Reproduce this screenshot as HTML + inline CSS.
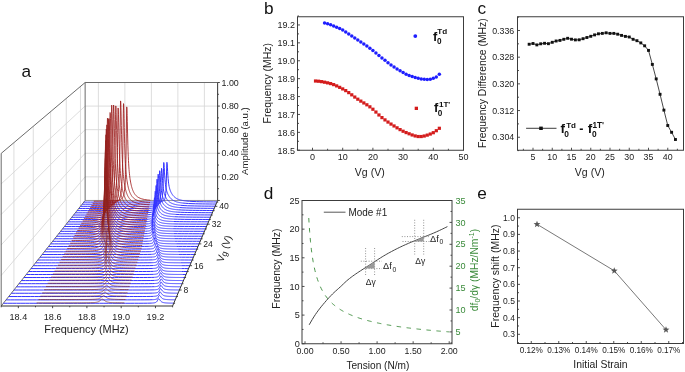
<!DOCTYPE html>
<html><head><meta charset="utf-8"><style>
html,body{margin:0;padding:0;background:#fff;width:685px;height:372px;overflow:hidden}
svg{display:block;will-change:transform}
text{font-family:"Liberation Sans", sans-serif}
</style></head><body>
<svg width="685" height="372" viewBox="0 0 685 372">
<rect width="685" height="372" fill="#fff"/>
<line x1="13.91" y1="290.02" x2="13.91" y2="142.66" stroke="#d4d4d4" stroke-width="0.8"/>
<line x1="33.25" y1="265.7" x2="33.25" y2="126.32" stroke="#d4d4d4" stroke-width="0.8"/>
<line x1="50.61" y1="243.87" x2="50.61" y2="111.66" stroke="#d4d4d4" stroke-width="0.8"/>
<line x1="66.27" y1="224.18" x2="66.27" y2="98.43" stroke="#d4d4d4" stroke-width="0.8"/>
<line x1="80.47" y1="206.32" x2="80.47" y2="86.44" stroke="#d4d4d4" stroke-width="0.8"/>
<line x1="1.2" y1="275.48" x2="85.13" y2="176.87" stroke="#d4d4d4" stroke-width="0.8"/>
<line x1="1.2" y1="244.96" x2="85.13" y2="153.28" stroke="#d4d4d4" stroke-width="0.8"/>
<line x1="1.2" y1="214.44" x2="85.13" y2="129.68" stroke="#d4d4d4" stroke-width="0.8"/>
<line x1="1.2" y1="183.92" x2="85.13" y2="106.09" stroke="#d4d4d4" stroke-width="0.8"/>
<line x1="98.38" y1="200.46" x2="98.38" y2="82.5" stroke="#d4d4d4" stroke-width="0.8"/>
<line x1="124.88" y1="200.46" x2="124.88" y2="82.5" stroke="#d4d4d4" stroke-width="0.8"/>
<line x1="151.38" y1="200.46" x2="151.38" y2="82.5" stroke="#d4d4d4" stroke-width="0.8"/>
<line x1="177.88" y1="200.46" x2="177.88" y2="82.5" stroke="#d4d4d4" stroke-width="0.8"/>
<line x1="204.38" y1="200.46" x2="204.38" y2="82.5" stroke="#d4d4d4" stroke-width="0.8"/>
<line x1="85.13" y1="176.87" x2="217.63" y2="176.87" stroke="#d4d4d4" stroke-width="0.8"/>
<line x1="85.13" y1="153.28" x2="217.63" y2="153.28" stroke="#d4d4d4" stroke-width="0.8"/>
<line x1="85.13" y1="129.68" x2="217.63" y2="129.68" stroke="#d4d4d4" stroke-width="0.8"/>
<line x1="85.13" y1="106.09" x2="217.63" y2="106.09" stroke="#d4d4d4" stroke-width="0.8"/>
<line x1="85.13" y1="82.5" x2="217.63" y2="82.5" stroke="#5a5a5a" stroke-width="0.9"/>
<line x1="85.13" y1="200.46" x2="85.13" y2="82.5" stroke="#5a5a5a" stroke-width="0.9"/>
<line x1="1.2" y1="153.4" x2="85.13" y2="82.5" stroke="#5a5a5a" stroke-width="0.9"/>
<line x1="1.2" y1="306" x2="1.2" y2="153.4" stroke="#5a5a5a" stroke-width="0.9"/>
<line x1="85.13" y1="200.46" x2="217.63" y2="200.46" stroke="#8a8a8a" stroke-width="0.9"/>
<line x1="1.2" y1="306" x2="85.13" y2="200.46" stroke="#5a5a5a" stroke-width="0.9"/>
<polyline points="83.81,202.12 87.23,202.12 90.64,202.12 94.05,202.11 97.47,202.11 100.88,202.11 104.29,202.11 107.71,202.11 111.12,202.11 114.53,202.11 117.94,202.11 121.36,202.11 124.77,202.11 128.18,202.11 131.6,202.11 135.01,202.1 138.42,202.1 141.84,202.09 145.25,202.08 148.66,202.07 152.08,202.05 155.49,202 158.9,201.88 161.58,201.58 161.82,201.53 162.07,201.47 162.31,201.4 162.31,201.4 162.55,201.32 162.79,201.22 163.03,201.11 163.28,200.98 163.52,200.82 163.76,200.62 164,200.37 164.24,200.06 164.49,199.66 164.73,199.13 164.97,198.42 165.21,197.44 165.45,196.04 165.7,193.97 165.73,193.64 165.94,190.81 166.18,185.83 166.42,178.12 166.66,168.08 166.91,162.3 167.15,163.69 167.39,167.15 167.63,171.32 167.87,175.22 168.12,178.48 168.36,181.09 168.6,183.16 168.84,184.83 169.08,186.19 169.14,186.47 169.33,187.33 169.57,188.3 169.81,189.14 170.05,189.89 170.29,190.56 170.54,191.17 170.78,191.73 171.02,192.25 171.26,192.73 171.5,193.18 171.75,193.6 171.99,194 172.23,194.37 172.47,194.72 172.55,194.84 172.71,195.05 172.96,195.37 173.2,195.66 173.44,195.94 173.68,196.21 173.92,196.46 174.17,196.69 174.41,196.92 174.65,197.13 174.89,197.33 175.13,197.52 175.38,197.7 175.62,197.87 175.86,198.04 175.97,198.1 176.1,198.19 176.34,198.34 176.59,198.48 176.83,198.61 177.07,198.74 177.31,198.86 177.55,198.97 177.8,199.08 178.04,199.18 178.28,199.28 178.52,199.38 178.77,199.47 179.01,199.55 179.25,199.63 179.38,199.68 179.49,199.71 179.73,199.79 179.98,199.86 180.22,199.93 180.46,199.99 180.7,200.06 180.94,200.12 181.19,200.18 181.43,200.23 181.67,200.28 181.91,200.34 182.15,200.39 182.4,200.43 182.64,200.48 182.79,200.51 182.88,200.52 183.12,200.56 183.36,200.6 183.61,200.64 183.85,200.68 184.09,200.72 184.33,200.75 184.57,200.79 184.82,200.82 185.06,200.85 185.3,200.88 185.54,200.91 186.21,200.98 189.62,201.28 193.03,201.47 196.44,201.61 199.86,201.71 203.27,201.78 206.68,201.83 210.1,201.88 213.51,201.91 216.92,201.94" fill="none" stroke="#3434ff" stroke-width="1.0"/>
<polyline points="93.8,201.23 95.25,201.22 96.7,201.21 98.15,201.21 99.6,201.2 101.05,201.19 102.5,201.17 103.95,201.16 105.4,201.14 106.85,201.12 108.3,201.09 109.75,201.06 111.2,201.01 112.65,200.95 114.11,200.87 115.56,200.76 117.01,200.59 118.46,200.33 119.91,199.89 120.1,199.81 120.3,199.72 120.49,199.62 120.69,199.52 120.88,199.4 121.08,199.27 121.27,199.13 121.36,199.07 121.46,198.98 121.66,198.81 121.85,198.62 122.05,198.4 122.24,198.17 122.44,197.9 122.63,197.59 122.81,197.27 122.83,197.24 123.02,196.84 123.21,196.38 123.41,195.85 123.6,195.24 123.8,194.51 123.99,193.65 124.19,192.63 124.26,192.19 124.38,191.39 124.58,189.89 124.77,188.05 124.96,185.75 125.16,182.86 125.35,179.16 125.55,174.36 125.71,169.19 125.74,168.01 125.94,159.5 126.13,148.04 126.32,133.21 126.52,117.01 126.71,106.9 126.91,107.88 127.1,113.33 127.16,115.5 127.3,121.27 127.49,129.91 127.69,138.05 127.88,145.18 128.07,151.21 128.27,156.24 128.46,160.43 128.61,163.15 128.66,163.96 128.85,166.96 129.05,169.54 129.24,171.78 129.44,173.76 129.63,175.52 129.82,177.1 130.02,178.52 130.06,178.82 130.21,179.83 130.41,181.02 130.6,182.12 130.8,183.13 130.99,184.07 131.19,184.94 131.38,185.76 131.51,186.28 131.57,186.52 131.77,187.22 131.96,187.89 132.16,188.51 132.35,189.09 132.55,189.64 132.74,190.16 132.94,190.64 132.96,190.71 133.13,191.1 133.32,191.53 133.52,191.93 133.71,192.32 133.91,192.68 134.1,193.02 134.3,193.35 134.41,193.53 134.49,193.65 134.69,193.94 134.88,194.22 135.07,194.48 135.27,194.73 135.46,194.96 135.66,195.19 135.85,195.4 135.86,195.41 136.05,195.6 136.24,195.79 136.44,195.98 136.63,196.15 136.82,196.32 137.02,196.48 137.21,196.63 137.31,196.71 137.41,196.78 138.76,197.63 140.21,198.31 141.67,198.82 143.12,199.21 144.57,199.52 146.02,199.76 147.47,199.96 148.92,200.12 150.37,200.26" fill="none" stroke="#a01c1c" stroke-width="0.85" stroke-opacity="1.00"/>
<polyline points="82.15,204.21 85.58,204.21 89.02,204.21 92.45,204.21 95.88,204.21 99.32,204.2 102.75,204.2 106.18,204.2 109.61,204.2 113.05,204.2 116.48,204.2 119.91,204.2 123.34,204.2 126.78,204.2 130.21,204.19 133.64,204.19 137.08,204.18 140.51,204.18 143.94,204.17 147.37,204.14 150.81,204.11 154.24,204.02 157.67,203.75 158.4,203.62 158.64,203.56 158.88,203.5 159.13,203.42 159.37,203.33 159.61,203.23 159.86,203.11 160.1,202.96 160.34,202.78 160.59,202.57 160.83,202.3 161.07,201.96 161.11,201.9 161.32,201.52 161.56,200.94 161.8,200.17 162.05,199.11 162.29,197.59 162.53,195.36 162.78,191.97 163.02,186.68 163.26,178.61 163.51,168.3 163.75,162.49 163.99,163.92 164.24,167.51 164.48,171.85 164.54,172.87 164.72,175.95 164.97,179.4 165.21,182.17 165.45,184.38 165.7,186.16 165.94,187.62 166.19,188.84 166.43,189.88 166.67,190.78 166.92,191.58 167.16,192.29 167.4,192.94 167.65,193.54 167.89,194.08 167.97,194.26 168.13,194.59 168.38,195.07 168.62,195.51 168.86,195.92 169.11,196.31 169.35,196.68 169.59,197.02 169.84,197.35 170.08,197.66 170.32,197.95 170.57,198.22 170.81,198.48 171.05,198.72 171.3,198.95 171.4,199.05 171.54,199.17 171.78,199.38 172.03,199.57 172.27,199.76 172.51,199.93 172.76,200.1 173,200.26 173.24,200.41 173.49,200.55 173.73,200.68 173.97,200.81 174.22,200.93 174.46,201.05 174.7,201.16 174.84,201.22 174.95,201.26 175.19,201.36 175.44,201.46 175.68,201.55 175.92,201.64 176.17,201.72 176.41,201.8 176.65,201.88 176.9,201.95 177.14,202.02 177.38,202.08 177.63,202.15 177.87,202.21 178.11,202.27 178.27,202.3 178.36,202.32 178.6,202.38 178.84,202.43 179.09,202.48 179.33,202.52 179.57,202.57 179.82,202.61 180.06,202.66 180.3,202.7 180.55,202.74 180.79,202.77 181.03,202.81 181.28,202.85 181.52,202.88 181.7,202.9 181.76,202.91 182.01,202.94 182.25,202.97 182.49,203 185.14,203.26 188.57,203.5 192,203.65 195.43,203.76 198.87,203.84 202.3,203.9 205.73,203.95 209.17,203.99 212.6,204.02 216.03,204.04" fill="none" stroke="#3434ff" stroke-width="1.0"/>
<polyline points="92.61,203.31 94.09,203.3 95.56,203.29 97.03,203.28 98.5,203.27 99.97,203.25 101.44,203.24 102.91,203.21 104.38,203.19 105.85,203.15 107.32,203.1 108.8,203.04 110.27,202.96 111.74,202.85 113.21,202.69 114.68,202.44 116.15,202.04 116.85,201.75 117.05,201.65 117.24,201.54 117.44,201.43 117.62,201.31 117.63,201.3 117.83,201.16 118.02,201 118.22,200.83 118.42,200.64 118.61,200.43 118.81,200.2 119,199.93 119.09,199.8 119.2,199.63 119.39,199.3 119.59,198.91 119.78,198.47 119.98,197.97 120.18,197.38 120.37,196.7 120.56,195.92 120.57,195.9 120.76,194.95 120.96,193.83 121.15,192.47 121.35,190.83 121.54,188.81 121.74,186.3 121.94,183.14 122.03,181.25 122.13,179.12 122.33,173.91 122.52,167.06 122.72,157.92 122.91,145.76 123.11,130.29 123.3,113.77 123.5,103.69 123.5,103.6 123.7,104.7 123.89,110.3 124.09,118.52 124.28,127.52 124.48,136.07 124.67,143.61 124.87,150.01 124.98,153.06 125.06,155.37 125.26,159.86 125.46,163.64 125.65,166.86 125.85,169.62 126.04,172.03 126.24,174.15 126.43,176.04 126.45,176.16 126.63,177.73 126.82,179.26 127.02,180.65 127.22,181.92 127.41,183.09 127.61,184.17 127.8,185.17 127.92,185.73 128,186.1 128.19,186.97 128.39,187.77 128.58,188.53 128.78,189.23 128.98,189.89 129.17,190.51 129.37,191.09 129.39,191.15 129.56,191.64 129.76,192.15 129.95,192.63 130.15,193.09 130.34,193.52 130.54,193.92 130.74,194.31 130.86,194.54 130.93,194.67 131.13,195.01 131.32,195.34 131.52,195.64 131.71,195.93 131.91,196.21 132.1,196.47 132.3,196.72 132.33,196.76 132.5,196.96 132.69,197.18 132.89,197.39 133.08,197.6 133.28,197.79 133.47,197.98 133.67,198.15 133.8,198.27 133.86,198.32 134.06,198.48 134.26,198.63 135.27,199.33 136.74,200.1 138.21,200.68 139.68,201.12 141.16,201.46 142.63,201.74 144.1,201.95 145.57,202.13 147.04,202.28 148.51,202.4 149.98,202.51" fill="none" stroke="#9f1c1c" stroke-width="0.85" stroke-opacity="0.99"/>
<polyline points="80.47,206.32 83.92,206.32 87.37,206.32 90.83,206.32 94.28,206.32 97.73,206.32 101.19,206.32 104.64,206.32 108.09,206.32 111.54,206.32 115,206.32 118.45,206.32 121.9,206.31 125.36,206.31 128.81,206.31 132.26,206.31 135.71,206.3 139.17,206.29 142.62,206.28 146.07,206.26 149.52,206.21 152.98,206.1 156.2,205.76 156.43,205.71 156.44,205.71 156.69,205.65 156.93,205.57 157.18,205.49 157.42,205.39 157.66,205.28 157.91,205.14 158.15,204.97 158.4,204.76 158.64,204.51 158.89,204.18 159.13,203.77 159.38,203.22 159.62,202.5 159.87,201.49 159.88,201.42 160.11,200.07 160.36,197.98 160.6,194.82 160.85,189.95 161.09,182.6 161.34,173.41 161.58,168.32 161.83,169.6 162.07,172.83 162.32,176.77 162.56,180.51 162.81,183.68 163.05,186.24 163.3,188.29 163.34,188.59 163.54,189.95 163.79,191.3 164.03,192.43 164.28,193.4 164.52,194.24 164.76,194.98 165.01,195.64 165.25,196.24 165.5,196.79 165.74,197.29 165.99,197.76 166.23,198.19 166.48,198.6 166.72,198.97 166.79,199.07 166.97,199.33 167.21,199.66 167.46,199.97 167.7,200.27 167.95,200.54 168.19,200.8 168.44,201.05 168.68,201.28 168.93,201.5 169.17,201.7 169.42,201.9 169.66,202.08 169.91,202.26 170.15,202.42 170.24,202.48 170.4,202.58 170.64,202.73 170.89,202.87 171.13,203 171.38,203.12 171.62,203.24 171.87,203.36 172.11,203.46 172.35,203.57 172.6,203.66 172.84,203.76 173.09,203.84 173.33,203.93 173.58,204.01 173.69,204.05 173.82,204.09 174.07,204.16 174.31,204.23 174.56,204.29 174.8,204.36 175.05,204.42 175.29,204.48 175.54,204.53 175.78,204.59 176.03,204.64 176.27,204.69 176.52,204.73 176.76,204.78 177.01,204.82 177.15,204.84 177.25,204.86 177.5,204.9 177.74,204.94 177.99,204.98 178.23,205.01 178.48,205.05 178.72,205.08 178.97,205.11 179.21,205.14 179.46,205.17 179.7,205.2 179.94,205.23 180.19,205.25 180.43,205.28 180.6,205.29 184.05,205.57 187.51,205.75 190.96,205.87 194.41,205.96 197.86,206.02 201.32,206.07 204.77,206.11 208.22,206.14 211.68,206.17 215.13,206.19" fill="none" stroke="#3434ff" stroke-width="1.0"/>
<polyline points="91.42,205.42 92.91,205.41 94.4,205.4 95.89,205.38 97.38,205.36 98.88,205.34 100.37,205.31 101.86,205.28 103.35,205.24 104.84,205.18 106.33,205.11 107.83,205.01 109.32,204.86 110.81,204.65 112.3,204.32 113.79,203.75 113.87,203.71 114.07,203.6 114.26,203.49 114.46,203.36 114.66,203.22 114.85,203.06 115.05,202.89 115.25,202.71 115.28,202.67 115.44,202.5 115.64,202.27 115.84,202.01 116.03,201.72 116.23,201.39 116.43,201.02 116.62,200.6 116.78,200.23 116.82,200.12 117.02,199.56 117.21,198.92 117.41,198.18 117.61,197.3 117.8,196.27 118,195.04 118.2,193.57 118.27,192.97 118.39,191.78 118.59,189.59 118.79,186.87 118.98,183.45 119.18,179.11 119.38,173.51 119.57,166.17 119.76,157.09 119.77,156.46 119.97,143.66 120.16,127.65 120.36,110.92 120.56,100.91 120.75,101.96 120.95,107.68 121.15,116.12 121.25,121.01 121.34,125.44 121.54,134.36 121.74,142.26 121.93,149.01 122.13,154.69 122.33,159.46 122.52,163.48 122.72,166.9 122.74,167.24 122.92,169.85 123.11,172.41 123.31,174.67 123.51,176.68 123.7,178.48 123.9,180.1 124.1,181.58 124.23,182.52 124.29,182.93 124.49,184.17 124.69,185.31 124.88,186.37 125.08,187.35 125.28,188.27 125.47,189.12 125.67,189.91 125.72,190.12 125.87,190.66 126.06,191.35 126.26,192 126.46,192.62 126.65,193.19 126.85,193.73 127.05,194.24 127.22,194.65 127.24,194.72 127.44,195.17 127.64,195.6 127.83,196 128.03,196.38 128.23,196.74 128.42,197.08 128.62,197.4 128.71,197.54 128.82,197.7 129.01,197.99 129.21,198.27 129.41,198.53 129.6,198.78 129.8,199.01 130,199.24 130.19,199.45 130.2,199.46 130.39,199.65 130.59,199.85 130.78,200.03 130.98,200.21 131.18,200.38 131.37,200.54 131.69,200.78 133.18,201.73 134.67,202.42 136.17,202.95 137.66,203.35 139.15,203.67 140.64,203.92 142.13,204.13 143.62,204.3 145.11,204.44 146.61,204.55 148.1,204.65 149.59,204.74" fill="none" stroke="#9e1c1c" stroke-width="0.85" stroke-opacity="0.99"/>
<polyline points="78.77,208.46 82.24,208.46 85.71,208.46 89.19,208.46 92.66,208.46 96.13,208.46 99.6,208.46 103.08,208.46 106.55,208.46 110.02,208.46 113.5,208.46 116.97,208.46 120.44,208.45 123.92,208.45 127.39,208.45 130.86,208.44 134.34,208.44 137.81,208.43 141.28,208.41 144.75,208.39 148.23,208.33 151.7,208.19 154.24,207.88 154.49,207.83 154.74,207.76 154.98,207.69 155.17,207.62 155.23,207.6 155.47,207.5 155.72,207.38 155.97,207.23 156.21,207.06 156.46,206.85 156.71,206.58 156.95,206.25 157.2,205.82 157.44,205.26 157.69,204.51 157.94,203.48 158.18,202.02 158.43,199.9 158.65,197.15 158.68,196.7 158.92,191.8 159.17,184.52 159.41,175.58 159.66,170.72 159.91,171.98 160.15,175.15 160.4,179.04 160.65,182.76 160.89,185.94 161.14,188.52 161.38,190.59 161.63,192.26 161.88,193.63 162.12,194.76 162.12,194.78 162.37,195.76 162.62,196.61 162.86,197.36 163.11,198.02 163.35,198.63 163.6,199.18 163.85,199.68 164.09,200.15 164.34,200.58 164.59,200.98 164.83,201.36 165.08,201.71 165.32,202.04 165.57,202.35 165.59,202.37 165.82,202.64 166.06,202.91 166.31,203.16 166.56,203.4 166.8,203.63 167.05,203.84 167.29,204.04 167.54,204.23 167.79,204.41 168.03,204.58 168.28,204.74 168.53,204.89 168.77,205.03 169.02,205.17 169.07,205.19 169.27,205.3 169.51,205.42 169.76,205.53 170,205.64 170.25,205.74 170.5,205.84 170.74,205.94 170.99,206.02 171.24,206.11 171.48,206.19 171.73,206.27 171.97,206.34 172.22,206.41 172.47,206.48 172.54,206.49 172.71,206.54 172.96,206.6 173.21,206.66 173.45,206.71 173.7,206.77 173.94,206.82 174.19,206.87 174.44,206.91 174.68,206.96 174.93,207 175.18,207.04 175.42,207.08 175.67,207.12 175.91,207.16 176.01,207.17 176.16,207.19 176.41,207.22 176.65,207.26 176.9,207.29 177.15,207.32 177.39,207.35 177.64,207.37 177.88,207.4 178.13,207.43 178.38,207.45 178.62,207.48 179.48,207.55 182.96,207.79 186.43,207.95 189.9,208.06 193.38,208.14 196.85,208.19 200.32,208.24 203.8,208.27 207.27,208.3 210.74,208.32 214.21,208.34" fill="none" stroke="#3434ff" stroke-width="1.0"/>
<polyline points="90.21,207.56 91.72,207.55 93.23,207.53 94.75,207.51 96.26,207.49 97.77,207.46 99.28,207.43 100.8,207.39 102.31,207.33 103.82,207.26 105.33,207.15 106.84,207.01 108.36,206.79 109.87,206.44 111.35,205.86 111.38,205.85 111.55,205.76 111.75,205.64 111.94,205.51 112.14,205.37 112.34,205.22 112.54,205.05 112.73,204.87 112.89,204.7 112.93,204.66 113.13,204.43 113.33,204.17 113.53,203.88 113.72,203.55 113.92,203.19 114.12,202.77 114.32,202.29 114.41,202.05 114.52,201.74 114.71,201.1 114.91,200.37 115.11,199.5 115.31,198.48 115.5,197.26 115.7,195.8 115.9,194.04 115.92,193.85 116.1,191.88 116.3,189.2 116.49,185.85 116.69,181.6 116.89,176.13 117.09,169 117.29,159.63 117.43,150.87 117.48,147.41 117.68,132.38 117.88,116.99 118.08,107.95 118.27,108.93 118.47,114.25 118.67,122.13 118.87,130.9 118.94,134.24 119.07,139.34 119.26,146.87 119.46,153.34 119.66,158.8 119.86,163.39 120.06,167.27 120.25,170.58 120.45,173.44 120.46,173.52 120.65,175.92 120.85,178.1 121.04,180.04 121.24,181.78 121.44,183.35 121.64,184.77 121.84,186.07 121.97,186.89 122.03,187.27 122.23,188.37 122.43,189.38 122.63,190.33 122.82,191.2 123.02,192.02 123.22,192.78 123.42,193.49 123.48,193.71 123.62,194.16 123.81,194.78 124.01,195.37 124.21,195.92 124.41,196.44 124.61,196.92 124.8,197.38 124.99,197.8 125,197.81 125.2,198.22 125.4,198.6 125.59,198.97 125.79,199.31 125.99,199.63 126.19,199.94 126.39,200.23 126.51,200.4 126.58,200.51 126.78,200.77 126.98,201.02 127.18,201.25 127.38,201.48 127.57,201.69 127.77,201.9 127.97,202.09 128.02,202.14 128.17,202.27 128.36,202.45 128.56,202.62 128.76,202.78 128.96,202.93 129.53,203.34 131.04,204.2 132.56,204.83 134.07,205.31 135.58,205.68 137.09,205.97 138.61,206.2 140.12,206.39 141.63,206.54 143.14,206.67 144.66,206.78 146.17,206.87 147.68,206.95 149.19,207.01" fill="none" stroke="#9d1c1c" stroke-width="0.85" stroke-opacity="0.98"/>
<polyline points="77.04,210.63 80.54,210.63 84.03,210.63 87.52,210.63 91.02,210.63 94.51,210.63 98.01,210.63 101.5,210.63 104.99,210.62 108.49,210.62 111.98,210.62 115.47,210.62 118.97,210.62 122.46,210.62 125.95,210.61 129.45,210.61 132.94,210.6 136.43,210.59 139.93,210.58 143.42,210.55 146.91,210.49 150.41,210.34 152.7,210.04 152.94,209.99 153.19,209.92 153.44,209.85 153.69,209.76 153.9,209.67 153.93,209.66 154.18,209.54 154.43,209.39 154.68,209.22 154.92,209.01 155.17,208.74 155.42,208.41 155.67,207.98 155.92,207.42 156.16,206.67 156.41,205.65 156.66,204.2 156.91,202.1 157.15,198.96 157.39,194.36 157.4,194.19 157.65,187.19 157.9,178.75 158.15,174.24 158.39,175.43 158.64,178.45 158.89,182.19 159.14,185.79 159.38,188.87 159.63,191.39 159.88,193.42 160.13,195.06 160.37,196.41 160.62,197.54 160.87,198.5 160.89,198.57 161.12,199.34 161.37,200.07 161.61,200.73 161.86,201.32 162.11,201.85 162.36,202.34 162.6,202.8 162.85,203.21 163.1,203.6 163.35,203.96 163.6,204.3 163.84,204.62 164.09,204.91 164.34,205.19 164.38,205.23 164.59,205.45 164.83,205.69 165.08,205.92 165.33,206.13 165.58,206.33 165.82,206.52 166.07,206.7 166.32,206.87 166.57,207.03 166.82,207.18 167.06,207.32 167.31,207.45 167.56,207.58 167.81,207.7 167.88,207.73 168.05,207.81 168.3,207.92 168.55,208.02 168.8,208.12 169.04,208.21 169.29,208.3 169.54,208.38 169.79,208.46 170.04,208.53 170.28,208.61 170.53,208.67 170.78,208.74 171.03,208.8 171.27,208.86 171.37,208.88 171.52,208.92 171.77,208.97 172.02,209.02 172.27,209.07 172.51,209.12 172.76,209.16 173.01,209.2 173.26,209.25 173.5,209.29 173.75,209.32 174,209.36 174.25,209.39 174.49,209.43 174.74,209.46 174.86,209.48 174.99,209.49 175.24,209.52 175.49,209.55 175.73,209.58 175.98,209.6 176.23,209.63 176.48,209.66 176.72,209.68 176.97,209.7 177.22,209.72 178.36,209.82 181.85,210.03 185.34,210.17 188.84,210.26 192.33,210.33 195.82,210.39 199.32,210.42 202.81,210.45 206.3,210.48 209.8,210.5 213.29,210.51" fill="none" stroke="#3434ff" stroke-width="1.0"/>
<polyline points="88.98,209.72 90.52,209.7 92.05,209.68 93.58,209.66 95.12,209.63 96.65,209.59 98.18,209.55 99.72,209.49 101.25,209.41 102.79,209.3 104.32,209.14 105.85,208.91 107.39,208.55 108.92,207.92 108.99,207.88 109.19,207.76 109.39,207.64 109.59,207.5 109.79,207.35 109.99,207.18 110.19,206.99 110.39,206.79 110.45,206.72 110.59,206.57 110.79,206.31 110.98,206.03 111.18,205.72 111.38,205.37 111.58,204.97 111.78,204.51 111.98,203.99 111.99,203.97 112.18,203.4 112.38,202.71 112.58,201.91 112.78,200.97 112.97,199.86 113.17,198.55 113.37,196.98 113.52,195.6 113.57,195.07 113.77,192.74 113.97,189.87 114.17,186.28 114.37,181.73 114.57,175.9 114.77,168.34 114.96,158.47 115.05,153.15 115.16,145.74 115.36,130.31 115.56,114.83 115.76,105.89 115.96,106.9 116.16,112.3 116.36,120.35 116.56,129.36 116.59,130.74 116.76,138.1 116.96,145.95 117.15,152.72 117.35,158.45 117.55,163.29 117.75,167.4 117.95,170.89 118.12,173.51 118.15,173.91 118.35,176.54 118.55,178.85 118.75,180.9 118.95,182.73 119.14,184.39 119.34,185.89 119.54,187.26 119.65,187.98 119.74,188.52 119.94,189.68 120.14,190.75 120.34,191.74 120.54,192.66 120.74,193.51 120.94,194.31 121.13,195.06 121.19,195.25 121.33,195.76 121.53,196.41 121.73,197.02 121.93,197.6 122.13,198.14 122.33,198.65 122.53,199.12 122.72,199.56 122.73,199.57 122.93,200 123.12,200.4 123.32,200.78 123.52,201.14 123.72,201.48 123.92,201.8 124.12,202.1 124.26,202.3 124.32,202.39 124.52,202.66 124.72,202.92 124.92,203.17 125.11,203.4 125.31,203.63 125.51,203.84 125.71,204.04 125.79,204.11 125.91,204.23 126.11,204.42 126.31,204.59 126.51,204.76 126.71,204.92 127.32,205.37 128.86,206.26 130.39,206.92 131.92,207.41 133.46,207.79 134.99,208.09 136.52,208.33 138.06,208.53 139.59,208.69 141.12,208.82 142.66,208.93 144.19,209.02 145.72,209.11 147.26,209.17 148.79,209.23" fill="none" stroke="#9c1d1c" stroke-width="0.85" stroke-opacity="0.97"/>
<polyline points="75.3,212.82 78.82,212.82 82.33,212.82 85.84,212.82 89.36,212.82 92.87,212.82 96.39,212.82 99.9,212.82 103.42,212.82 106.93,212.82 110.44,212.81 113.96,212.81 117.47,212.81 120.99,212.81 124.5,212.81 128.01,212.8 131.53,212.8 135.04,212.79 138.56,212.77 142.07,212.75 145.59,212.69 149.1,212.55 151.54,212.26 151.79,212.2 152.04,212.14 152.29,212.07 152.54,211.99 152.61,211.96 152.78,211.89 153.03,211.77 153.28,211.64 153.53,211.47 153.78,211.26 154.03,211.01 154.28,210.69 154.53,210.28 154.78,209.75 155.03,209.04 155.28,208.06 155.53,206.69 155.78,204.71 156.02,201.76 156.13,200.12 156.27,197.32 156.52,190.89 156.77,183.27 157.02,179.27 157.27,180.35 157.52,183.11 157.77,186.54 158.02,189.86 158.27,192.72 158.52,195.07 158.77,196.97 159.01,198.52 159.26,199.79 159.51,200.85 159.64,201.34 159.76,201.75 160.01,202.54 160.26,203.22 160.51,203.84 160.76,204.39 161.01,204.89 161.26,205.34 161.51,205.76 161.76,206.15 162,206.51 162.25,206.84 162.5,207.15 162.75,207.44 163,207.71 163.16,207.87 163.25,207.96 163.5,208.2 163.75,208.42 164,208.63 164.25,208.82 164.5,209 164.75,209.17 165,209.34 165.24,209.49 165.49,209.63 165.74,209.76 165.99,209.89 166.24,210.01 166.49,210.13 166.67,210.2 166.74,210.23 166.99,210.33 167.24,210.43 167.49,210.52 167.74,210.61 167.99,210.69 168.23,210.77 168.48,210.84 168.73,210.91 168.98,210.98 169.23,211.04 169.48,211.1 169.73,211.16 169.98,211.21 170.19,211.26 170.23,211.26 170.48,211.31 170.73,211.36 170.98,211.41 171.22,211.45 171.47,211.49 171.72,211.53 171.97,211.57 172.22,211.61 172.47,211.64 172.72,211.67 172.97,211.71 173.22,211.74 173.47,211.77 173.7,211.79 173.72,211.8 173.97,211.82 174.22,211.85 174.46,211.87 174.71,211.9 174.96,211.92 175.21,211.95 175.46,211.97 175.71,211.99 175.96,212.01 176.21,212.03 177.21,212.1 180.73,212.29 184.24,212.41 187.76,212.5 191.27,212.56 194.78,212.61 198.3,212.64 201.81,212.67 205.33,212.69 208.84,212.71 212.36,212.72" fill="none" stroke="#3434ff" stroke-width="1.0"/>
<polyline points="87.74,211.9 89.3,211.88 90.85,211.85 92.41,211.82 93.96,211.79 95.52,211.74 97.07,211.68 98.63,211.6 100.18,211.49 101.74,211.33 103.29,211.1 104.85,210.74 106.4,210.13 106.76,209.93 106.96,209.81 107.17,209.67 107.37,209.52 107.57,209.36 107.77,209.18 107.96,208.99 107.97,208.98 108.17,208.76 108.37,208.52 108.57,208.25 108.77,207.95 108.97,207.62 109.17,207.24 109.37,206.81 109.51,206.46 109.57,206.32 109.77,205.76 109.97,205.13 110.17,204.39 110.37,203.53 110.57,202.53 110.77,201.35 110.97,199.95 111.07,199.16 111.17,198.28 111.37,196.25 111.57,193.78 111.77,190.73 111.97,186.93 112.17,182.14 112.37,176.01 112.57,168.1 112.62,165.65 112.77,157.85 112.97,144.76 113.17,129.15 113.37,113.77 113.57,105.03 113.77,106.05 113.97,111.47 114.17,119.59 114.18,119.86 114.37,128.74 114.57,137.67 114.77,145.74 114.97,152.73 115.17,158.68 115.37,163.72 115.57,167.99 115.73,170.95 115.77,171.64 115.97,174.79 116.17,177.54 116.37,179.95 116.57,182.09 116.77,184 116.97,185.73 117.17,187.29 117.29,188.11 117.37,188.72 117.58,190.03 117.78,191.23 117.98,192.34 118.18,193.37 118.38,194.32 118.58,195.21 118.78,196.04 118.84,196.3 118.98,196.81 119.18,197.53 119.38,198.21 119.58,198.84 119.78,199.44 119.98,199.99 120.18,200.52 120.38,201.01 120.4,201.06 120.58,201.48 120.78,201.92 120.98,202.33 121.18,202.72 121.38,203.09 121.58,203.44 121.78,203.77 121.95,204.04 121.98,204.08 122.18,204.38 122.38,204.66 122.58,204.93 122.78,205.18 122.98,205.42 123.18,205.65 123.38,205.87 123.51,206 123.58,206.08 123.78,206.28 123.98,206.47 124.18,206.65 124.38,206.82 124.58,206.98 125.06,207.35 126.62,208.3 128.17,209 129.73,209.52 131.28,209.92 132.84,210.24 134.39,210.49 135.95,210.69 137.5,210.86 139.06,210.99 140.61,211.11 142.17,211.21 143.72,211.29 145.28,211.36 146.83,211.42 148.39,211.48" fill="none" stroke="#9b1d1c" stroke-width="0.85" stroke-opacity="0.97"/>
<polyline points="73.54,215.04 77.07,215.04 80.61,215.04 84.14,215.04 87.68,215.04 91.21,215.04 94.75,215.04 98.28,215.03 101.82,215.03 105.35,215.03 108.89,215.03 112.42,215.03 115.96,215.03 119.5,215.03 123.03,215.02 126.57,215.02 130.1,215.02 133.64,215.01 137.17,214.99 140.71,214.97 144.24,214.93 147.78,214.81 150.57,214.52 150.82,214.48 151.07,214.42 151.31,214.36 151.32,214.35 151.57,214.28 151.82,214.19 152.07,214.08 152.32,213.96 152.57,213.8 152.82,213.62 153.07,213.39 153.32,213.1 153.57,212.73 153.82,212.24 154.08,211.6 154.33,210.72 154.58,209.48 154.83,207.7 154.85,207.53 155.08,205.07 155.33,201.14 155.58,195.52 155.83,188.97 156.08,185.58 156.33,186.52 156.58,188.91 156.83,191.91 157.08,194.83 157.33,197.36 157.58,199.45 157.84,201.14 158.09,202.52 158.34,203.66 158.38,203.84 158.59,204.61 158.84,205.42 159.09,206.12 159.34,206.73 159.59,207.28 159.84,207.77 160.09,208.21 160.34,208.62 160.59,208.99 160.84,209.33 161.09,209.64 161.35,209.93 161.6,210.21 161.85,210.46 161.92,210.53 162.1,210.69 162.35,210.91 162.6,211.11 162.85,211.31 163.1,211.48 163.35,211.65 163.6,211.81 163.85,211.96 164.1,212.1 164.35,212.23 164.6,212.35 164.85,212.46 165.11,212.57 165.36,212.67 165.45,212.71 165.61,212.77 165.86,212.86 166.11,212.95 166.36,213.03 166.61,213.11 166.86,213.18 167.11,213.25 167.36,213.31 167.61,213.38 167.86,213.44 168.11,213.49 168.36,213.55 168.61,213.6 168.87,213.65 168.99,213.67 169.12,213.69 169.37,213.74 169.62,213.78 169.87,213.82 170.12,213.86 170.37,213.89 170.62,213.93 170.87,213.96 171.12,213.99 171.37,214.02 171.62,214.05 171.87,214.08 172.12,214.11 172.37,214.13 172.52,214.15 172.63,214.16 172.88,214.18 173.13,214.21 173.38,214.23 173.63,214.25 173.88,214.27 174.13,214.29 174.38,214.31 174.63,214.33 174.88,214.34 175.13,214.36 175.38,214.38 176.06,214.42 179.59,214.58 183.13,214.69 186.66,214.76 190.2,214.82 193.73,214.86 197.27,214.89 200.8,214.91 204.34,214.93 207.87,214.94 211.41,214.95" fill="none" stroke="#3434ff" stroke-width="1.0"/>
<polyline points="86.49,214.11 88.07,214.08 89.64,214.05 91.22,214.02 92.8,213.97 94.37,213.91 95.95,213.84 97.53,213.73 99.1,213.59 100.68,213.38 102.26,213.06 103.83,212.53 104.79,212.03 104.99,211.9 105.19,211.75 105.39,211.6 105.41,211.58 105.59,211.42 105.8,211.23 106,211.02 106.2,210.79 106.4,210.54 106.6,210.25 106.8,209.93 106.99,209.61 107,209.58 107.21,209.17 107.41,208.72 107.61,208.21 107.81,207.62 108.01,206.94 108.21,206.17 108.41,205.26 108.56,204.5 108.61,204.21 108.82,202.96 109.02,201.49 109.22,199.73 109.42,197.6 109.62,195.01 109.82,191.82 110.02,187.86 110.14,185.17 110.23,182.86 110.43,176.5 110.63,168.33 110.83,157.82 111.03,144.55 111.23,128.94 111.43,113.84 111.64,105.37 111.72,105.1 111.84,106.39 112.04,111.77 112.24,119.88 112.44,129.06 112.64,138.08 112.84,146.27 113.05,153.41 113.25,159.51 113.29,160.74 113.45,164.68 113.65,169.08 113.85,172.85 114.05,176.1 114.25,178.93 114.45,181.42 114.66,183.62 114.86,185.6 114.87,185.7 115.06,187.38 115.26,188.99 115.46,190.46 115.66,191.8 115.86,193.04 116.07,194.18 116.27,195.23 116.44,196.1 116.47,196.21 116.67,197.12 116.87,197.97 117.07,198.76 117.27,199.5 117.48,200.19 117.68,200.83 117.88,201.44 118.02,201.85 118.08,202.01 118.28,202.55 118.48,203.05 118.68,203.52 118.89,203.97 119.09,204.39 119.29,204.79 119.49,205.17 119.6,205.36 119.69,205.52 119.89,205.86 120.09,206.18 120.3,206.48 120.5,206.77 120.7,207.04 120.9,207.3 121.1,207.54 121.17,207.63 121.3,207.78 121.5,208 121.7,208.21 121.91,208.41 122.11,208.61 122.31,208.79 122.51,208.96 122.71,209.13 122.75,209.16 124.33,210.23 125.9,211.01 127.48,211.59 129.06,212.03 130.63,212.37 132.21,212.64 133.79,212.85 135.36,213.03 136.94,213.18 138.52,213.3 140.09,213.4 141.67,213.49 143.25,213.57 144.82,213.63 146.4,213.69 147.98,213.74" fill="none" stroke="#9a1d1c" stroke-width="0.85" stroke-opacity="0.96"/>
<polyline points="71.75,217.28 75.31,217.28 78.87,217.28 82.42,217.28 85.98,217.28 89.54,217.28 93.09,217.28 96.65,217.28 100.2,217.28 103.76,217.28 107.32,217.28 110.87,217.28 114.43,217.27 117.99,217.27 121.54,217.27 125.1,217.27 128.66,217.26 132.21,217.26 135.77,217.24 139.32,217.23 142.88,217.19 146.44,217.09 149.66,216.81 149.91,216.77 149.99,216.75 150.17,216.72 150.42,216.66 150.67,216.59 150.92,216.51 151.17,216.41 151.43,216.29 151.68,216.16 151.93,215.99 152.18,215.77 152.44,215.51 152.69,215.17 152.94,214.73 153.19,214.15 153.44,213.35 153.55,212.93 153.7,212.24 153.95,210.63 154.2,208.28 154.45,204.8 154.71,199.87 154.96,194.23 155.21,191.35 155.46,192.16 155.71,194.25 155.97,196.87 156.22,199.45 156.47,201.69 156.72,203.55 156.98,205.07 157.11,205.74 157.23,206.3 157.48,207.32 157.73,208.17 157.98,208.9 158.24,209.53 158.49,210.08 158.74,210.56 158.99,211 159.24,211.4 159.5,211.75 159.75,212.08 160,212.38 160.25,212.66 160.51,212.92 160.66,213.07 160.76,213.15 161.01,213.37 161.26,213.58 161.51,213.77 161.77,213.95 162.02,214.11 162.27,214.27 162.52,214.41 162.78,214.55 163.03,214.67 163.28,214.79 163.53,214.9 163.78,215.01 164.04,215.11 164.22,215.18 164.29,215.2 164.54,215.29 164.79,215.37 165.04,215.45 165.3,215.52 165.55,215.59 165.8,215.66 166.05,215.72 166.31,215.78 166.56,215.83 166.81,215.89 167.06,215.94 167.31,215.98 167.57,216.03 167.78,216.07 167.82,216.07 168.07,216.11 168.32,216.15 168.58,216.19 168.83,216.23 169.08,216.26 169.33,216.29 169.58,216.32 169.84,216.35 170.09,216.38 170.34,216.41 170.59,216.43 170.84,216.46 171.1,216.48 171.33,216.5 171.35,216.5 171.6,216.53 171.85,216.55 172.11,216.57 172.36,216.59 172.61,216.6 172.86,216.62 173.11,216.64 173.37,216.66 173.62,216.67 173.87,216.69 174.12,216.7 174.38,216.72 174.63,216.73 174.89,216.74 178.44,216.89 182,216.98 185.56,217.05 189.11,217.09 192.67,217.13 196.23,217.15 199.78,217.17 203.34,217.19 206.9,217.2 210.45,217.21" fill="none" stroke="#3434ff" stroke-width="1.0"/>
<polyline points="85.22,216.36 86.82,216.33 88.42,216.3 90.02,216.26 91.62,216.21 93.21,216.15 94.81,216.07 96.41,215.95 98.01,215.79 99.61,215.55 101.21,215.17 102.8,214.52 103.2,214.3 103.4,214.16 103.6,214.02 103.81,213.86 104.01,213.69 104.21,213.5 104.4,213.31 104.41,213.29 104.62,213.06 104.82,212.81 105.02,212.53 105.22,212.21 105.43,211.86 105.63,211.46 105.83,211.01 106,210.59 106.03,210.5 106.24,209.91 106.44,209.25 106.64,208.48 106.84,207.58 107.05,206.54 107.25,205.31 107.45,203.86 107.6,202.63 107.66,202.12 107.86,200.03 108.06,197.48 108.26,194.35 108.47,190.46 108.67,185.59 108.87,179.4 109.07,171.49 109.2,165.57 109.28,161.39 109.48,148.76 109.68,134.12 109.88,120.2 110.09,112.5 110.29,113.46 110.49,118.47 110.69,126.06 110.8,130.37 110.9,134.71 111.1,143.25 111.3,151.07 111.5,157.9 111.71,163.77 111.91,168.76 112.11,173.01 112.31,176.66 112.39,177.95 112.52,179.8 112.72,182.54 112.92,184.95 113.13,187.09 113.33,189 113.53,190.72 113.73,192.28 113.94,193.7 113.99,194.07 114.14,194.99 114.34,196.18 114.54,197.28 114.75,198.3 114.95,199.24 115.15,200.12 115.35,200.93 115.56,201.69 115.59,201.82 115.76,202.4 115.96,203.06 116.16,203.68 116.37,204.26 116.57,204.81 116.77,205.32 116.97,205.81 117.18,206.26 117.19,206.29 117.38,206.69 117.58,207.09 117.78,207.48 117.99,207.84 118.19,208.18 118.39,208.5 118.6,208.8 118.79,209.08 118.8,209.09 119,209.37 119.2,209.63 119.41,209.87 119.61,210.11 119.81,210.33 120.01,210.54 120.22,210.75 120.39,210.91 120.42,210.94 120.62,211.12 120.82,211.3 121.03,211.46 121.23,211.62 121.99,212.16 123.58,213.05 125.18,213.69 126.78,214.18 128.38,214.55 129.98,214.85 131.58,215.08 133.17,215.27 134.77,215.42 136.37,215.55 137.97,215.66 139.57,215.75 141.17,215.83 142.76,215.89 144.36,215.95 145.96,216 147.56,216.05" fill="none" stroke="#991e1c" stroke-width="0.85" stroke-opacity="0.95"/>
<polyline points="69.95,219.55 73.52,219.55 77.1,219.55 80.68,219.55 84.26,219.55 87.84,219.55 91.41,219.55 94.99,219.55 98.57,219.55 102.15,219.55 105.73,219.55 109.3,219.55 112.88,219.55 116.46,219.55 120.04,219.54 123.61,219.54 127.19,219.54 130.77,219.53 134.35,219.52 137.93,219.51 141.5,219.48 145.08,219.41 148.66,219.18 148.9,219.14 149.16,219.11 149.41,219.06 149.66,219.01 149.92,218.95 150.17,218.88 150.42,218.79 150.68,218.69 150.93,218.57 151.18,218.43 151.44,218.24 151.69,218.01 151.95,217.72 152.2,217.34 152.24,217.28 152.45,216.84 152.71,216.15 152.96,215.19 153.21,213.82 153.47,211.82 153.72,208.88 153.98,204.77 154.23,200.15 154.48,197.81 154.74,198.49 154.99,200.21 155.24,202.4 155.5,204.56 155.75,206.46 155.82,206.89 156.01,208.04 156.26,209.32 156.51,210.38 156.77,211.25 157.02,211.98 157.27,212.6 157.53,213.13 157.78,213.6 158.03,214.01 158.29,214.38 158.54,214.72 158.8,215.02 159.05,215.3 159.3,215.55 159.39,215.63 159.56,215.78 159.81,216 160.06,216.19 160.32,216.38 160.57,216.55 160.83,216.7 161.08,216.85 161.33,216.99 161.59,217.12 161.84,217.23 162.09,217.35 162.35,217.45 162.6,217.55 162.86,217.64 162.97,217.68 163.11,217.72 163.36,217.81 163.62,217.88 163.87,217.95 164.12,218.02 164.38,218.08 164.63,218.14 164.88,218.2 165.14,218.25 165.39,218.3 165.65,218.35 165.9,218.39 166.15,218.44 166.41,218.48 166.55,218.5 166.66,218.52 166.91,218.55 167.17,218.59 167.42,218.62 167.68,218.65 167.93,218.68 168.18,218.71 168.44,218.74 168.69,218.76 168.94,218.79 169.2,218.81 169.45,218.83 169.71,218.86 169.96,218.88 170.13,218.89 170.21,218.9 170.47,218.92 170.72,218.93 170.97,218.95 171.23,218.97 171.48,218.98 171.73,219 171.99,219.01 172.24,219.03 172.5,219.04 172.75,219.06 173,219.07 173.26,219.08 173.51,219.09 173.7,219.1 173.76,219.1 174.02,219.11 177.28,219.23 180.86,219.31 184.44,219.36 188.02,219.4 191.59,219.43 195.17,219.45 198.75,219.46 202.33,219.48 205.91,219.49 209.48,219.5" fill="none" stroke="#3434ff" stroke-width="1.0"/>
<polyline points="83.94,218.64 85.56,218.61 87.18,218.58 88.8,218.54 90.42,218.49 92.04,218.43 93.66,218.34 95.28,218.22 96.9,218.06 98.52,217.8 100.14,217.41 101.76,216.73 102.03,216.57 102.24,216.44 102.44,216.29 102.65,216.14 102.85,215.96 103.05,215.77 103.26,215.56 103.38,215.42 103.46,215.33 103.66,215.08 103.87,214.79 104.07,214.48 104.28,214.12 104.48,213.72 104.68,213.27 104.89,212.76 105,212.44 105.09,212.18 105.29,211.51 105.5,210.74 105.7,209.85 105.91,208.81 106.11,207.59 106.31,206.14 106.52,204.41 106.63,203.37 106.72,202.33 106.93,199.81 107.13,196.71 107.33,192.87 107.54,188.07 107.74,182 107.94,174.28 108.15,164.48 108.25,158.98 108.35,152.37 108.56,138.52 108.76,125.56 108.96,118.48 109.17,119.38 109.37,124.1 109.58,131.28 109.78,139.5 109.87,143.06 109.98,147.68 110.19,155.2 110.39,161.81 110.59,167.5 110.8,172.35 111,176.5 111.21,180.06 111.41,183.13 111.49,184.19 111.61,185.81 111.82,188.17 112.02,190.26 112.22,192.13 112.43,193.8 112.63,195.32 112.84,196.71 113.04,197.97 113.11,198.37 113.24,199.13 113.45,200.2 113.65,201.19 113.86,202.1 114.06,202.95 114.26,203.74 114.47,204.48 114.67,205.17 114.73,205.35 114.87,205.81 115.08,206.41 115.28,206.98 115.49,207.51 115.69,208 115.89,208.47 116.1,208.91 116.3,209.32 116.35,209.42 116.5,209.71 116.71,210.08 116.91,210.43 117.12,210.76 117.32,211.07 117.52,211.37 117.73,211.65 117.93,211.91 117.97,211.96 118.14,212.16 118.34,212.4 118.54,212.63 118.75,212.84 118.95,213.05 119.15,213.24 119.36,213.43 119.56,213.6 119.59,213.63 119.77,213.77 119.97,213.93 120.17,214.09 121.21,214.77 122.83,215.59 124.45,216.18 126.07,216.63 127.69,216.97 129.31,217.24 130.93,217.46 132.55,217.63 134.17,217.78 135.79,217.9 137.42,218 139.04,218.08 140.66,218.15 142.28,218.22 143.9,218.27 145.52,218.32 147.14,218.36" fill="none" stroke="#981e1c" stroke-width="0.85" stroke-opacity="0.95"/>
<polyline points="68.12,221.85 71.72,221.85 75.32,221.85 78.92,221.85 82.52,221.85 86.12,221.85 89.72,221.85 93.32,221.85 96.92,221.85 100.52,221.85 104.11,221.85 107.71,221.85 111.31,221.85 114.91,221.85 118.51,221.84 122.11,221.84 125.71,221.84 129.31,221.84 132.91,221.83 136.51,221.82 140.11,221.8 143.71,221.75 147.31,221.61 148.34,221.51 148.6,221.48 148.85,221.44 149.11,221.4 149.36,221.35 149.62,221.29 149.87,221.22 150.13,221.14 150.38,221.04 150.64,220.91 150.89,220.76 150.91,220.75 151.15,220.57 151.4,220.33 151.66,220.01 151.91,219.59 152.17,219.03 152.42,218.24 152.68,217.11 152.93,215.48 153.19,213.1 153.45,209.81 153.7,206.17 153.96,204.36 154.21,204.89 154.47,206.26 154.51,206.54 154.72,208.02 154.98,209.76 155.23,211.29 155.49,212.58 155.74,213.63 156,214.49 156.25,215.2 156.51,215.8 156.76,216.31 157.02,216.75 157.27,217.13 157.53,217.47 157.78,217.77 158.04,218.04 158.11,218.11 158.29,218.29 158.55,218.51 158.81,218.71 159.06,218.9 159.32,219.07 159.57,219.23 159.83,219.38 160.08,219.51 160.34,219.64 160.59,219.75 160.85,219.86 161.1,219.96 161.36,220.06 161.61,220.14 161.71,220.17 161.87,220.23 162.12,220.3 162.38,220.37 162.63,220.44 162.89,220.5 163.14,220.56 163.4,220.62 163.65,220.67 163.91,220.72 164.17,220.77 164.42,220.81 164.68,220.85 164.93,220.89 165.19,220.93 165.31,220.94 165.44,220.96 165.7,221 165.95,221.03 166.21,221.06 166.46,221.08 166.72,221.11 166.97,221.14 167.23,221.16 167.48,221.18 167.74,221.21 167.99,221.23 168.25,221.25 168.5,221.27 168.76,221.28 168.91,221.29 169.01,221.3 169.27,221.32 169.53,221.33 169.78,221.35 170.04,221.36 170.29,221.38 170.55,221.39 170.8,221.4 171.06,221.42 171.31,221.43 171.57,221.44 171.82,221.45 172.08,221.46 172.33,221.47 172.51,221.48 172.59,221.48 172.84,221.49 173.1,221.5 173.35,221.51 173.61,221.52 176.11,221.59 179.71,221.65 183.31,221.7 186.9,221.73 190.5,221.75 194.1,221.77 197.7,221.78 201.3,221.79 204.9,221.8 208.5,221.81" fill="none" stroke="#3434ff" stroke-width="1.0"/>
<polyline points="82.64,220.95 84.28,220.92 85.92,220.89 87.57,220.85 89.21,220.8 90.85,220.73 92.5,220.64 94.14,220.52 95.78,220.35 97.42,220.1 99.07,219.7 100.71,219.02 101.17,218.75 101.37,218.61 101.58,218.45 101.78,218.29 101.99,218.1 102.19,217.9 102.35,217.73 102.4,217.68 102.6,217.44 102.81,217.17 103.01,216.87 103.22,216.53 103.42,216.16 103.63,215.74 103.83,215.26 104,214.84 104.04,214.72 104.24,214.11 104.45,213.4 104.65,212.59 104.86,211.65 105.06,210.56 105.27,209.27 105.47,207.75 105.64,206.31 105.68,205.94 105.88,203.76 106.09,201.12 106.29,197.89 106.5,193.89 106.7,188.9 106.91,182.61 107.11,174.66 107.28,166.57 107.32,164.64 107.52,152.38 107.73,138.55 107.93,125.8 108.14,118.92 108.34,119.82 108.55,124.51 108.75,131.68 108.92,138.57 108.96,139.94 109.16,148.21 109.37,155.84 109.57,162.59 109.78,168.42 109.98,173.41 110.19,177.68 110.39,181.35 110.57,184.07 110.6,184.52 110.8,187.28 111.01,189.72 111.21,191.87 111.42,193.8 111.62,195.53 111.83,197.09 112.03,198.52 112.21,199.64 112.24,199.82 112.44,201.01 112.65,202.11 112.85,203.13 113.06,204.07 113.26,204.94 113.47,205.75 113.67,206.5 113.85,207.12 113.88,207.21 114.08,207.86 114.29,208.48 114.49,209.06 114.7,209.6 114.91,210.11 115.11,210.58 115.32,211.03 115.5,211.41 115.52,211.46 115.73,211.86 115.93,212.23 116.14,212.59 116.34,212.92 116.55,213.24 116.75,213.54 116.96,213.83 117.14,214.07 117.16,214.1 117.37,214.35 117.57,214.6 117.78,214.83 117.98,215.05 118.19,215.25 118.39,215.45 118.6,215.64 118.78,215.81 118.8,215.82 119.01,215.99 119.21,216.16 119.42,216.32 120.43,216.99 122.07,217.83 123.71,218.44 125.35,218.9 127,219.26 128.64,219.53 130.28,219.75 131.93,219.93 133.57,220.08 135.21,220.2 136.86,220.3 138.5,220.39 140.14,220.46 141.78,220.52 143.43,220.58 145.07,220.62 146.71,220.67" fill="none" stroke="#971e1c" stroke-width="0.85" stroke-opacity="0.94"/>
<polyline points="66.27,224.18 69.89,224.18 73.51,224.18 77.13,224.18 80.75,224.18 84.38,224.18 88,224.18 91.62,224.18 95.24,224.18 98.86,224.18 102.48,224.18 106.11,224.18 109.73,224.18 113.35,224.17 116.97,224.17 120.59,224.17 124.21,224.17 127.84,224.17 131.46,224.16 135.08,224.15 138.7,224.13 142.32,224.1 145.94,224.01 147.91,223.87 148.17,223.84 148.43,223.81 148.68,223.77 148.94,223.72 149.2,223.67 149.45,223.61 149.56,223.58 149.71,223.53 149.97,223.44 150.22,223.33 150.48,223.19 150.74,223.02 151,222.8 151.25,222.52 151.51,222.14 151.77,221.63 152.02,220.93 152.28,219.93 152.54,218.48 152.79,216.39 153.05,213.53 153.19,211.82 153.31,210.41 153.56,208.88 153.82,209.34 154.08,210.53 154.33,212.06 154.59,213.58 154.85,214.93 155.1,216.06 155.36,217 155.62,217.76 155.87,218.4 156.13,218.93 156.39,219.38 156.64,219.77 156.81,219.99 156.9,220.11 157.16,220.41 157.42,220.68 157.67,220.91 157.93,221.13 158.19,221.33 158.44,221.5 158.7,221.67 158.96,221.82 159.21,221.95 159.47,222.08 159.73,222.2 159.98,222.31 160.24,222.41 160.43,222.48 160.5,222.5 160.75,222.59 161.01,222.67 161.27,222.74 161.52,222.81 161.78,222.88 162.04,222.94 162.29,223 162.55,223.05 162.81,223.1 163.06,223.15 163.32,223.19 163.58,223.23 163.84,223.27 164.05,223.3 164.09,223.31 164.35,223.34 164.61,223.38 164.86,223.41 165.12,223.44 165.38,223.46 165.63,223.49 165.89,223.52 166.15,223.54 166.4,223.56 166.66,223.58 166.92,223.6 167.17,223.62 167.43,223.64 167.67,223.66 167.69,223.66 167.94,223.68 168.2,223.69 168.46,223.71 168.71,223.72 168.97,223.74 169.23,223.75 169.48,223.76 169.74,223.77 170,223.79 170.26,223.8 170.51,223.81 170.77,223.82 171.03,223.83 171.28,223.84 171.29,223.84 171.54,223.85 171.8,223.86 172.05,223.86 172.31,223.87 172.57,223.88 172.82,223.89 173.08,223.89 173.34,223.9 174.92,223.94 178.54,224 182.16,224.04 185.78,224.07 189.4,224.09 193.02,224.11 196.64,224.12 200.27,224.13 203.89,224.14 207.51,224.14" fill="none" stroke="#3434ff" stroke-width="1.0"/>
<polyline points="81.32,223.28 82.99,223.25 84.65,223.22 86.32,223.18 87.98,223.13 89.65,223.06 91.32,222.97 92.98,222.85 94.65,222.68 96.31,222.43 97.98,222.04 99.64,221.4 100.45,220.91 100.66,220.76 100.86,220.6 101.07,220.42 101.28,220.23 101.31,220.19 101.48,220.01 101.69,219.78 101.89,219.51 102.1,219.23 102.31,218.91 102.51,218.55 102.72,218.15 102.93,217.7 102.98,217.58 103.13,217.19 103.34,216.61 103.54,215.96 103.75,215.21 103.96,214.34 104.16,213.34 104.37,212.18 104.58,210.81 104.64,210.34 104.78,209.2 104.99,207.28 105.2,204.97 105.4,202.17 105.61,198.76 105.81,194.55 106.02,189.31 106.23,182.73 106.31,179.76 106.43,174.45 106.64,164.1 106.85,151.55 107.05,137.59 107.26,124.89 107.46,118.11 107.67,119.03 107.88,123.75 107.97,126.86 108.08,131 108.29,139.39 108.5,147.84 108.7,155.68 108.91,162.65 109.12,168.69 109.32,173.87 109.53,178.32 109.64,180.43 109.73,182.14 109.94,185.46 110.15,188.34 110.35,190.88 110.56,193.14 110.77,195.14 110.97,196.95 111.18,198.58 111.3,199.5 111.38,200.07 111.59,201.42 111.8,202.66 112,203.81 112.21,204.86 112.42,205.84 112.62,206.74 112.83,207.58 112.97,208.12 113.03,208.37 113.24,209.1 113.45,209.78 113.65,210.42 113.86,211.01 114.07,211.57 114.27,212.1 114.48,212.59 114.63,212.95 114.69,213.06 114.89,213.5 115.1,213.91 115.3,214.3 115.51,214.66 115.72,215.01 115.92,215.34 116.13,215.65 116.3,215.89 116.34,215.94 116.54,216.22 116.75,216.49 116.95,216.74 117.16,216.98 117.37,217.2 117.57,217.42 117.78,217.62 117.97,217.8 117.99,217.82 118.19,218 118.4,218.18 118.61,218.35 118.81,218.51 119.63,219.09 121.3,219.99 122.96,220.65 124.63,221.14 126.29,221.51 127.96,221.81 129.63,222.04 131.29,222.23 132.96,222.38 134.62,222.51 136.29,222.61 137.95,222.7 139.62,222.78 141.29,222.84 142.95,222.9 144.62,222.95 146.28,222.99" fill="none" stroke="#961f1c" stroke-width="0.85" stroke-opacity="0.93"/>
<polyline points="64.4,226.53 68.04,226.53 71.68,226.53 75.33,226.53 78.97,226.53 82.61,226.53 86.26,226.53 89.9,226.53 93.55,226.53 97.19,226.53 100.83,226.53 104.48,226.53 108.12,226.53 111.77,226.53 115.41,226.53 119.05,226.53 122.7,226.53 126.34,226.52 129.98,226.52 133.63,226.51 137.27,226.5 140.92,226.48 144.56,226.42 147.56,226.26 147.82,226.24 148.08,226.21 148.2,226.19 148.34,226.17 148.59,226.13 148.85,226.08 149.11,226.03 149.37,225.96 149.63,225.88 149.89,225.78 150.15,225.66 150.4,225.51 150.66,225.32 150.92,225.07 151.18,224.74 151.44,224.3 151.7,223.68 151.85,223.21 151.95,222.81 152.21,221.56 152.47,219.76 152.73,217.34 152.99,214.73 153.25,213.46 153.5,213.85 153.76,214.86 154.02,216.15 154.28,217.45 154.54,218.62 154.8,219.6 155.05,220.4 155.31,221.07 155.49,221.46 155.57,221.62 155.83,222.08 156.09,222.47 156.35,222.81 156.6,223.11 156.86,223.37 157.12,223.6 157.38,223.8 157.64,223.99 157.9,224.16 158.15,224.31 158.41,224.45 158.67,224.57 158.93,224.69 159.13,224.78 159.19,224.8 159.45,224.9 159.71,224.99 159.96,225.07 160.22,225.15 160.48,225.22 160.74,225.29 161,225.35 161.26,225.41 161.51,225.47 161.77,225.52 162.03,225.57 162.29,225.61 162.55,225.65 162.78,225.69 162.81,225.69 163.06,225.73 163.32,225.76 163.58,225.79 163.84,225.82 164.1,225.85 164.36,225.88 164.61,225.91 164.87,225.93 165.13,225.95 165.39,225.97 165.65,225.99 165.91,226.01 166.16,226.03 166.42,226.05 166.42,226.05 166.68,226.07 166.94,226.08 167.2,226.1 167.46,226.11 167.71,226.13 167.97,226.14 168.23,226.15 168.49,226.16 168.75,226.17 169.01,226.19 169.27,226.2 169.52,226.21 169.78,226.22 170.04,226.22 170.07,226.23 170.3,226.23 170.56,226.24 170.82,226.25 171.07,226.26 171.33,226.26 171.59,226.27 171.85,226.28 172.11,226.29 172.37,226.29 172.62,226.3 172.88,226.3 173.14,226.31 173.71,226.32 177.35,226.38 181,226.42 184.64,226.44 188.29,226.46 191.93,226.47 195.57,226.48 199.22,226.49 202.86,226.5 206.5,226.5" fill="none" stroke="#3434ff" stroke-width="1.0"/>
<polyline points="79.99,225.66 81.68,225.63 83.37,225.6 85.06,225.56 86.74,225.51 88.43,225.45 90.12,225.37 91.81,225.25 93.5,225.1 95.19,224.87 96.88,224.52 98.56,223.95 99.74,223.29 99.95,223.14 100.15,222.98 100.25,222.9 100.36,222.8 100.57,222.61 100.78,222.4 100.98,222.16 101.19,221.9 101.4,221.62 101.61,221.3 101.81,220.94 101.94,220.7 102.02,220.54 102.23,220.1 102.44,219.6 102.64,219.02 102.85,218.38 103.06,217.63 103.27,216.78 103.47,215.79 103.63,214.94 103.68,214.64 103.89,213.29 104.1,211.7 104.3,209.8 104.51,207.53 104.72,204.79 104.93,201.44 105.13,197.32 105.32,192.84 105.34,192.21 105.55,185.82 105.76,177.81 105.97,167.87 106.17,155.95 106.38,142.84 106.59,131.08 106.8,124.87 107,125.73 107.01,125.79 107.21,130.15 107.42,136.96 107.63,144.89 107.83,152.92 108.04,160.41 108.25,167.1 108.46,172.91 108.66,177.92 108.7,178.64 108.87,182.22 109.08,185.93 109.29,189.14 109.49,191.94 109.7,194.41 109.91,196.6 110.12,198.54 110.32,200.3 110.38,200.78 110.53,201.88 110.74,203.32 110.95,204.63 111.15,205.83 111.36,206.94 111.57,207.95 111.78,208.9 111.98,209.77 112.07,210.12 112.19,210.58 112.4,211.34 112.61,212.04 112.82,212.7 113.02,213.31 113.23,213.89 113.44,214.43 113.65,214.93 113.76,215.2 113.85,215.41 114.06,215.85 114.27,216.28 114.48,216.67 114.68,217.05 114.89,217.4 115.1,217.73 115.31,218.05 115.45,218.26 115.51,218.34 115.72,218.63 115.93,218.89 116.14,219.15 116.34,219.39 116.55,219.62 116.76,219.83 116.97,220.04 117.14,220.21 117.17,220.24 117.38,220.42 117.59,220.6 117.8,220.77 118,220.94 118.21,221.09 118.83,221.51 120.52,222.42 122.21,223.08 123.89,223.57 125.58,223.94 127.27,224.22 128.96,224.45 130.65,224.64 132.34,224.79 134.03,224.91 135.71,225.01 137.4,225.1 139.09,225.17 140.78,225.24 142.47,225.29 144.16,225.34 145.85,225.38" fill="none" stroke="#961f1d" stroke-width="0.85" stroke-opacity="0.93"/>
<polyline points="62.5,228.92 66.17,228.92 69.83,228.92 73.5,228.92 77.16,228.92 80.83,228.92 84.5,228.92 88.16,228.92 91.83,228.92 95.5,228.92 99.16,228.92 102.83,228.92 106.5,228.92 110.16,228.92 113.83,228.92 117.49,228.91 121.16,228.91 124.83,228.91 128.49,228.91 132.16,228.9 135.83,228.89 139.49,228.88 143.16,228.84 146.83,228.72 147.39,228.69 147.65,228.66 147.91,228.64 148.17,228.61 148.43,228.57 148.69,228.53 148.95,228.49 149.21,228.43 149.47,228.36 149.73,228.28 149.99,228.17 150.25,228.05 150.49,227.89 150.51,227.88 150.77,227.67 151.03,227.39 151.29,227.01 151.55,226.49 151.81,225.76 152.07,224.71 152.33,223.22 152.59,221.23 152.85,219.11 153.11,218.1 153.37,218.42 153.63,219.24 153.89,220.31 154.15,221.39 154.16,221.43 154.41,222.35 154.67,223.17 154.93,223.85 155.19,224.41 155.45,224.87 155.71,225.26 155.97,225.59 156.23,225.88 156.49,226.12 156.75,226.34 157.01,226.53 157.27,226.71 157.53,226.86 157.79,227 157.82,227.02 158.05,227.12 158.31,227.24 158.57,227.34 158.83,227.44 159.09,227.53 159.35,227.61 159.61,227.68 159.87,227.75 160.13,227.82 160.39,227.87 160.65,227.93 160.91,227.98 161.17,228.03 161.43,228.07 161.49,228.08 161.69,228.11 161.95,228.15 162.21,228.19 162.47,228.22 162.73,228.25 162.99,228.28 163.25,228.31 163.5,228.33 163.76,228.36 164.02,228.38 164.28,228.4 164.54,228.42 164.8,228.44 165.06,228.46 165.16,228.47 165.32,228.48 165.58,228.49 165.84,228.51 166.1,228.52 166.36,228.54 166.62,228.55 166.88,228.56 167.14,228.58 167.4,228.59 167.66,228.6 167.92,228.61 168.18,228.62 168.44,228.63 168.7,228.64 168.82,228.64 168.96,228.64 169.22,228.65 169.48,228.66 169.74,228.67 170,228.68 170.26,228.68 170.52,228.69 170.78,228.7 171.04,228.7 171.3,228.71 171.56,228.71 171.82,228.72 172.08,228.72 172.34,228.73 172.49,228.73 172.6,228.73 172.86,228.74 173.12,228.74 176.16,228.78 179.82,228.82 183.49,228.84 187.16,228.86 190.82,228.87 194.49,228.88 198.15,228.88 201.82,228.89 205.49,228.89" fill="none" stroke="#3434ff" stroke-width="1.0"/>
<polyline points="78.64,228.06 80.35,228.03 82.07,228 83.78,227.97 85.49,227.92 87.2,227.86 88.91,227.78 90.62,227.68 92.34,227.54 94.05,227.33 95.76,227.02 97.47,226.51 99.14,225.64 99.18,225.61 99.35,225.49 99.56,225.33 99.77,225.15 99.98,224.95 100.19,224.73 100.39,224.49 100.6,224.23 100.81,223.94 100.9,223.81 101.02,223.62 101.23,223.25 101.44,222.85 101.65,222.4 101.86,221.89 102.07,221.31 102.27,220.65 102.48,219.9 102.61,219.4 102.69,219.03 102.9,218.03 103.11,216.87 103.32,215.51 103.53,213.9 103.74,211.99 103.95,209.71 104.15,206.95 104.32,204.35 104.36,203.59 104.57,199.47 104.78,194.37 104.99,188.02 105.2,180.1 105.41,170.34 105.62,158.75 105.83,146.15 106.03,135.12 106.03,135 106.24,129.17 106.45,130 106.66,134.24 106.87,140.79 107.08,148.47 107.29,156.27 107.5,163.6 107.7,170.16 107.74,171.27 107.91,175.89 108.12,180.84 108.33,185.1 108.54,188.78 108.75,191.97 108.96,194.75 109.17,197.2 109.38,199.37 109.45,200.13 109.58,201.31 109.79,203.05 110,204.62 110.21,206.04 110.42,207.34 110.63,208.54 110.84,209.63 111.05,210.64 111.17,211.18 111.26,211.57 111.46,212.43 111.67,213.24 111.88,213.98 112.09,214.68 112.3,215.32 112.51,215.93 112.72,216.5 112.88,216.91 112.93,217.03 113.14,217.53 113.34,217.99 113.55,218.43 113.76,218.85 113.97,219.24 114.18,219.61 114.39,219.95 114.59,220.27 114.6,220.28 114.81,220.59 115.01,220.88 115.22,221.16 115.43,221.42 115.64,221.67 115.85,221.91 116.06,222.13 116.27,222.35 116.3,222.38 116.48,222.55 116.69,222.74 116.89,222.93 117.1,223.1 117.31,223.27 117.52,223.43 117.73,223.58 118.01,223.78 119.73,224.74 121.44,225.43 123.15,225.93 124.86,226.32 126.57,226.61 128.29,226.85 130,227.03 131.71,227.19 133.42,227.31 135.13,227.42 136.84,227.5 138.56,227.58 140.27,227.64 141.98,227.7 143.69,227.74 145.4,227.79" fill="none" stroke="#951f1d" stroke-width="0.85" stroke-opacity="0.92"/>
<polyline points="60.58,231.33 64.27,231.33 67.96,231.33 71.65,231.33 75.34,231.33 79.02,231.33 82.71,231.33 86.4,231.33 90.09,231.33 93.78,231.33 97.47,231.33 101.16,231.33 104.85,231.33 108.54,231.33 112.23,231.33 115.92,231.33 119.61,231.33 123.3,231.33 126.98,231.32 130.67,231.32 134.36,231.31 138.05,231.3 141.74,231.28 145.43,231.21 147.4,231.11 147.66,231.09 147.93,231.06 148.19,231.04 148.45,231 148.71,230.97 148.97,230.92 149.12,230.89 149.23,230.87 149.5,230.8 149.76,230.72 150.02,230.62 150.28,230.5 150.54,230.35 150.8,230.15 151.07,229.88 151.33,229.52 151.59,229.03 151.85,228.35 152.11,227.37 152.37,225.99 152.63,224.16 152.81,222.85 152.9,222.25 153.16,221.34 153.42,221.63 153.68,222.39 153.94,223.36 154.2,224.36 154.47,225.26 154.73,226.02 154.99,226.66 155.25,227.18 155.51,227.62 155.77,227.98 156.04,228.29 156.3,228.56 156.5,228.74 156.56,228.79 156.82,228.99 157.08,229.17 157.34,229.33 157.61,229.47 157.87,229.6 158.13,229.72 158.39,229.83 158.65,229.92 158.91,230.01 159.17,230.09 159.44,230.16 159.7,230.23 159.96,230.29 160.19,230.34 160.22,230.35 160.48,230.41 160.74,230.45 161.01,230.5 161.27,230.54 161.53,230.58 161.79,230.62 162.05,230.65 162.31,230.68 162.58,230.71 162.84,230.74 163.1,230.77 163.36,230.79 163.62,230.82 163.88,230.84 163.88,230.84 164.15,230.86 164.41,230.88 164.67,230.9 164.93,230.91 165.19,230.93 165.45,230.94 165.71,230.96 165.98,230.97 166.24,230.99 166.5,231 166.76,231.01 167.02,231.02 167.28,231.03 167.55,231.04 167.57,231.04 167.81,231.05 168.07,231.06 168.33,231.07 168.59,231.08 168.85,231.09 169.12,231.09 169.38,231.1 169.64,231.11 169.9,231.11 170.16,231.12 170.42,231.13 170.69,231.13 170.95,231.14 171.21,231.14 171.25,231.14 171.47,231.15 171.73,231.15 171.99,231.16 172.25,231.16 172.52,231.17 172.78,231.17 173.04,231.18 173.3,231.18 174.94,231.2 178.63,231.24 182.32,231.26 186.01,231.27 189.7,231.29 193.39,231.29 197.08,231.3 200.77,231.31 204.46,231.31" fill="none" stroke="#3434ff" stroke-width="1.0"/>
<polyline points="77.28,230.49 79.01,230.47 80.75,230.44 82.48,230.41 84.22,230.37 85.95,230.32 87.69,230.25 89.42,230.15 91.16,230.03 92.89,229.85 94.63,229.59 96.37,229.17 98.1,228.46 98.75,228.06 98.96,227.91 99.17,227.74 99.38,227.56 99.59,227.37 99.8,227.15 99.84,227.11 100.01,226.91 100.22,226.65 100.43,226.35 100.64,226.03 100.85,225.67 101.06,225.27 101.27,224.81 101.48,224.3 101.57,224.06 101.69,223.73 101.9,223.07 102.11,222.32 102.32,221.45 102.53,220.46 102.74,219.3 102.95,217.94 103.16,216.34 103.31,215.07 103.37,214.45 103.58,212.18 103.79,209.45 104,206.13 104.21,202.07 104.42,197.06 104.63,190.84 104.84,183.12 105.04,174.22 105.05,173.69 105.26,162.57 105.47,150.64 105.68,140.21 105.89,134.8 106.1,135.59 106.31,139.6 106.52,145.83 106.73,153.15 106.78,154.7 106.94,160.63 107.16,167.69 107.37,174.04 107.58,179.61 107.79,184.43 108,188.59 108.21,192.19 108.42,195.31 108.51,196.62 108.63,198.04 108.84,200.44 109.05,202.56 109.26,204.46 109.47,206.16 109.68,207.7 109.89,209.1 110.1,210.37 110.25,211.22 110.31,211.53 110.52,212.6 110.73,213.58 110.94,214.49 111.15,215.33 111.36,216.11 111.57,216.84 111.78,217.52 111.98,218.13 111.99,218.15 112.2,218.74 112.41,219.29 112.62,219.8 112.83,220.29 113.04,220.74 113.25,221.17 113.46,221.57 113.67,221.95 113.72,222.04 113.88,222.31 114.09,222.65 114.3,222.96 114.51,223.26 114.72,223.55 114.93,223.82 115.14,224.07 115.35,224.31 115.46,224.43 115.56,224.54 115.77,224.76 115.98,224.97 116.19,225.16 116.4,225.35 116.61,225.53 116.82,225.7 117.03,225.86 117.19,225.98 117.24,226.01 117.45,226.16 118.93,227.03 120.66,227.77 122.4,228.31 124.13,228.71 125.87,229.02 127.6,229.26 129.34,229.46 131.07,229.61 132.81,229.74 134.54,229.85 136.28,229.94 138.02,230.01 139.75,230.08 141.49,230.13 143.22,230.18 144.96,230.22" fill="none" stroke="#94201d" stroke-width="0.85" stroke-opacity="0.91"/>
<polyline points="58.63,233.78 62.35,233.78 66.06,233.78 69.77,233.78 73.48,233.78 77.2,233.78 80.91,233.78 84.62,233.78 88.33,233.78 92.05,233.78 95.76,233.78 99.47,233.78 103.18,233.78 106.89,233.78 110.61,233.78 114.32,233.77 118.03,233.77 121.74,233.77 125.46,233.77 129.17,233.77 132.88,233.76 136.59,233.75 140.31,233.74 144.02,233.7 147.54,233.57 147.73,233.55 147.8,233.55 148.07,233.52 148.33,233.5 148.59,233.47 148.86,233.43 149.12,233.39 149.38,233.34 149.65,233.28 149.91,233.2 150.17,233.11 150.44,232.99 150.7,232.85 150.96,232.66 151.23,232.41 151.44,232.15 151.49,232.08 151.75,231.62 152.02,230.98 152.28,230.07 152.54,228.8 152.81,227.15 153.07,225.43 153.33,224.63 153.6,224.89 153.86,225.57 154.12,226.46 154.39,227.38 154.65,228.2 154.91,228.91 155.15,229.45 155.18,229.5 155.44,229.98 155.7,230.39 155.97,230.73 156.23,231.02 156.49,231.27 156.75,231.48 157.02,231.67 157.28,231.84 157.54,231.98 157.81,232.11 158.07,232.23 158.33,232.34 158.6,232.44 158.86,232.52 158.87,232.52 159.12,232.6 159.39,232.68 159.65,232.74 159.91,232.8 160.18,232.86 160.44,232.91 160.7,232.96 160.97,233 161.23,233.04 161.49,233.08 161.76,233.12 162.02,233.15 162.28,233.18 162.55,233.21 162.58,233.21 162.81,233.24 163.07,233.26 163.34,233.28 163.6,233.31 163.86,233.33 164.13,233.35 164.39,233.36 164.65,233.38 164.92,233.4 165.18,233.41 165.44,233.43 165.7,233.44 165.97,233.45 166.23,233.46 166.29,233.47 166.49,233.47 166.76,233.49 167.02,233.5 167.28,233.51 167.55,233.52 167.81,233.52 168.07,233.53 168.34,233.54 168.6,233.55 168.86,233.56 169.13,233.56 169.39,233.57 169.65,233.58 169.92,233.58 170,233.58 170.18,233.59 170.44,233.59 170.71,233.6 170.97,233.6 171.23,233.61 171.5,233.61 171.76,233.62 172.02,233.62 172.29,233.63 172.55,233.63 172.81,233.63 173.08,233.64 173.34,233.64 173.6,233.64 173.72,233.65 177.43,233.68 181.14,233.71 184.85,233.72 188.56,233.73 192.28,233.74 195.99,233.75 199.7,233.75 203.41,233.76" fill="none" stroke="#3434ff" stroke-width="1.0"/>
<polyline points="75.89,232.96 77.65,232.94 79.41,232.92 81.17,232.89 82.93,232.85 84.69,232.8 86.45,232.74 88.21,232.66 89.97,232.55 91.73,232.4 93.49,232.19 95.25,231.85 97,231.3 98.49,230.52 98.7,230.36 98.76,230.31 98.91,230.2 99.12,230.02 99.33,229.82 99.54,229.6 99.76,229.36 99.97,229.1 100.18,228.81 100.39,228.49 100.52,228.26 100.6,228.13 100.81,227.72 101.02,227.27 101.24,226.76 101.45,226.19 101.66,225.53 101.87,224.79 102.08,223.93 102.28,222.99 102.29,222.93 102.5,221.78 102.72,220.44 102.93,218.85 103.14,216.97 103.35,214.73 103.56,212.04 103.77,208.77 103.99,204.77 104.04,203.55 104.2,199.85 104.41,193.77 104.62,186.28 104.83,177.17 105.04,166.55 105.25,155.27 105.47,145.52 105.68,140.51 105.8,140.52 105.89,141.26 106.1,145.05 106.31,150.95 106.52,157.92 106.73,165.09 106.95,171.88 107.16,178.01 107.37,183.41 107.56,187.69 107.58,188.1 107.79,192.15 108,195.66 108.21,198.71 108.43,201.38 108.64,203.73 108.85,205.81 109.06,207.66 109.27,209.33 109.32,209.68 109.48,210.83 109.69,212.19 109.91,213.43 110.12,214.57 110.33,215.61 110.54,216.57 110.75,217.45 110.96,218.27 111.08,218.69 111.18,219.03 111.39,219.74 111.6,220.39 111.81,221.01 112.02,221.58 112.23,222.12 112.44,222.62 112.66,223.09 112.84,223.47 112.87,223.53 113.08,223.94 113.29,224.33 113.5,224.7 113.71,225.04 113.92,225.37 114.14,225.68 114.35,225.97 114.56,226.24 114.6,226.29 114.77,226.51 114.98,226.75 115.19,226.99 115.4,227.21 115.62,227.42 115.83,227.62 116.04,227.81 116.25,227.99 116.36,228.08 116.46,228.16 116.67,228.33 116.89,228.48 117.1,228.63 117.31,228.77 118.12,229.26 119.87,230.08 121.63,230.67 123.39,231.11 125.15,231.44 126.91,231.7 128.67,231.9 130.43,232.06 132.19,232.19 133.95,232.3 135.71,232.4 137.47,232.47 139.23,232.54 140.99,232.59 142.74,232.64 144.5,232.68" fill="none" stroke="#93201d" stroke-width="0.85" stroke-opacity="0.90"/>
<polyline points="56.67,236.25 60.4,236.25 64.14,236.25 67.87,236.25 71.61,236.25 75.34,236.25 79.08,236.25 82.82,236.25 86.55,236.25 90.29,236.25 94.02,236.25 97.76,236.25 101.49,236.25 105.23,236.25 108.97,236.25 112.7,236.25 116.44,236.25 120.17,236.25 123.91,236.25 127.64,236.24 131.38,236.24 135.12,236.23 138.85,236.22 142.59,236.2 146.32,236.12 147.73,236.06 148,236.04 148.26,236.02 148.53,235.99 148.79,235.96 149.06,235.93 149.32,235.89 149.59,235.84 149.85,235.78 150.06,235.73 150.12,235.71 150.38,235.63 150.65,235.52 150.91,235.38 151.18,235.21 151.44,234.98 151.71,234.67 151.97,234.25 152.24,233.66 152.5,232.83 152.77,231.68 153.03,230.18 153.3,228.66 153.56,227.95 153.79,228.13 153.83,228.19 154.09,228.8 154.36,229.61 154.62,230.43 154.89,231.19 155.15,231.83 155.42,232.37 155.68,232.82 155.95,233.2 156.21,233.51 156.48,233.77 156.74,234 157,234.2 157.27,234.37 157.53,234.52 157.53,234.52 157.8,234.66 158.06,234.78 158.33,234.89 158.59,234.98 158.86,235.07 159.12,235.15 159.39,235.22 159.65,235.29 159.92,235.34 160.18,235.4 160.45,235.45 160.71,235.5 160.98,235.54 161.24,235.58 161.27,235.58 161.51,235.61 161.77,235.65 162.04,235.68 162.3,235.71 162.57,235.73 162.83,235.76 163.1,235.78 163.36,235.8 163.63,235.82 163.89,235.84 164.16,235.86 164.42,235.88 164.69,235.89 164.95,235.91 165,235.91 165.22,235.92 165.48,235.94 165.75,235.95 166.01,235.96 166.28,235.97 166.54,235.98 166.81,235.99 167.07,236 167.34,236.01 167.6,236.02 167.87,236.03 168.13,236.03 168.4,236.04 168.66,236.05 168.74,236.05 168.93,236.05 169.19,236.06 169.45,236.07 169.72,236.07 169.98,236.08 170.25,236.08 170.51,236.09 170.78,236.09 171.04,236.1 171.31,236.1 171.57,236.11 171.84,236.11 172.1,236.11 172.37,236.12 172.47,236.12 172.63,236.12 172.9,236.13 173.16,236.13 173.43,236.13 173.69,236.14 173.96,236.14 176.21,236.16 179.94,236.18 183.68,236.2 187.42,236.21 191.15,236.22 194.89,236.23 198.62,236.23 202.36,236.23" fill="none" stroke="#3434ff" stroke-width="1.0"/>
<polyline points="74.49,235.47 76.28,235.45 78.06,235.43 79.84,235.4 81.63,235.37 83.41,235.33 85.19,235.28 86.98,235.21 88.76,235.12 90.54,235 92.33,234.83 94.11,234.57 95.89,234.16 97.68,233.46 98.28,233.1 98.49,232.96 98.71,232.8 98.92,232.62 99.13,232.43 99.34,232.23 99.46,232.1 99.56,232 99.77,231.74 99.98,231.46 100.2,231.15 100.41,230.81 100.62,230.42 100.83,229.99 101.05,229.5 101.24,228.99 101.26,228.95 101.47,228.32 101.69,227.61 101.9,226.78 102.11,225.84 102.32,224.74 102.54,223.45 102.75,221.94 102.96,220.15 103.03,219.53 103.18,218.02 103.39,215.46 103.6,212.36 103.81,208.58 104.03,203.94 104.24,198.24 104.45,191.24 104.66,182.79 104.81,176.17 104.88,173.02 105.09,162.76 105.3,154 105.52,149.53 105.73,150.21 105.94,153.65 106.15,159.04 106.37,165.43 106.58,172.03 106.59,172.48 106.79,178.31 107.01,184.01 107.22,189.05 107.43,193.43 107.64,197.23 107.86,200.53 108.07,203.39 108.28,205.9 108.38,206.93 108.5,208.11 108.71,210.06 108.92,211.81 109.13,213.37 109.35,214.78 109.56,216.06 109.77,217.23 109.99,218.29 110.16,219.11 110.2,219.27 110.41,220.17 110.62,221 110.84,221.77 111.05,222.48 111.26,223.14 111.47,223.75 111.69,224.33 111.9,224.86 111.94,224.97 112.11,225.36 112.33,225.83 112.54,226.27 112.75,226.68 112.96,227.07 113.18,227.43 113.39,227.77 113.6,228.1 113.73,228.28 113.82,228.4 114.03,228.69 114.24,228.96 114.45,229.22 114.67,229.46 114.88,229.69 115.09,229.91 115.31,230.11 115.51,230.3 115.52,230.31 115.73,230.49 115.94,230.67 116.16,230.84 116.37,231 116.58,231.15 116.79,231.3 117.01,231.44 117.22,231.57 117.29,231.62 119.08,232.51 120.86,233.14 122.65,233.59 124.43,233.94 126.21,234.2 128,234.41 129.78,234.57 131.56,234.71 133.35,234.82 135.13,234.91 136.91,234.98 138.7,235.05 140.48,235.1 142.26,235.15 144.05,235.19" fill="none" stroke="#92201d" stroke-width="0.85" stroke-opacity="0.90"/>
<polyline points="54.67,238.76 58.43,238.76 62.19,238.76 65.95,238.76 69.71,238.76 73.47,238.76 77.23,238.76 80.99,238.76 84.75,238.76 88.51,238.76 92.27,238.76 96.03,238.76 99.79,238.76 103.54,238.76 107.3,238.76 111.06,238.76 114.82,238.76 118.58,238.76 122.34,238.75 126.1,238.75 129.86,238.75 133.62,238.75 137.38,238.74 141.14,238.72 144.9,238.68 148.04,238.58 148.3,238.56 148.57,238.54 148.66,238.53 148.84,238.52 149.1,238.49 149.37,238.46 149.64,238.42 149.9,238.38 150.17,238.33 150.44,238.26 150.7,238.18 150.97,238.08 151.24,237.96 151.5,237.8 151.77,237.59 152.04,237.3 152.3,236.92 152.42,236.71 152.57,236.38 152.84,235.63 153.1,234.6 153.37,233.27 153.64,231.94 153.9,231.32 154.17,231.53 154.44,232.07 154.7,232.79 154.97,233.53 155.24,234.21 155.5,234.8 155.77,235.29 156.04,235.69 156.18,235.88 156.3,236.03 156.57,236.32 156.84,236.56 157.1,236.77 157.37,236.95 157.63,237.1 157.9,237.24 158.17,237.36 158.43,237.47 158.7,237.56 158.97,237.65 159.23,237.73 159.5,237.8 159.77,237.86 159.94,237.9 160.03,237.92 160.3,237.97 160.57,238.02 160.83,238.07 161.1,238.11 161.37,238.14 161.63,238.18 161.9,238.21 162.17,238.24 162.43,238.27 162.7,238.29 162.97,238.31 163.23,238.34 163.5,238.36 163.69,238.37 163.77,238.37 164.03,238.39 164.3,238.41 164.57,238.42 164.83,238.44 165.1,238.45 165.37,238.47 165.63,238.48 165.9,238.49 166.17,238.5 166.43,238.51 166.7,238.52 166.97,238.53 167.23,238.54 167.45,238.54 167.5,238.54 167.76,238.55 168.03,238.56 168.3,238.57 168.56,238.57 168.83,238.58 169.1,238.59 169.36,238.59 169.63,238.6 169.9,238.6 170.16,238.61 170.43,238.61 170.7,238.62 170.96,238.62 171.21,238.62 171.23,238.62 171.5,238.63 171.76,238.63 172.03,238.64 172.3,238.64 172.56,238.64 172.83,238.65 173.1,238.65 173.36,238.65 173.63,238.65 173.9,238.66 174.16,238.66 174.43,238.66 174.97,238.67 178.73,238.69 182.49,238.71 186.25,238.72 190.01,238.73 193.77,238.73 197.53,238.74 201.29,238.74" fill="none" stroke="#3434ff" stroke-width="1.0"/>
<polyline points="73.08,238 74.88,237.99 76.69,237.97 78.5,237.95 80.31,237.92 82.12,237.89 83.92,237.84 85.73,237.79 87.54,237.71 89.35,237.62 91.15,237.48 92.96,237.28 94.77,236.97 96.58,236.47 98.1,235.74 98.32,235.6 98.39,235.55 98.53,235.44 98.75,235.28 98.96,235.1 99.17,234.9 99.39,234.68 99.6,234.44 99.82,234.17 100.03,233.88 100.19,233.63 100.24,233.55 100.46,233.18 100.67,232.77 100.89,232.3 101.1,231.78 101.32,231.18 101.53,230.5 101.74,229.72 101.96,228.82 102,228.62 102.17,227.78 102.39,226.56 102.6,225.13 102.81,223.44 103.03,221.43 103.24,219.02 103.46,216.1 103.67,212.55 103.81,209.86 103.89,208.22 104.1,202.9 104.31,196.41 104.53,188.63 104.74,179.72 104.96,170.46 105.17,162.62 105.38,158.66 105.6,159.28 105.62,159.46 105.81,162.39 106.03,167.27 106.24,173.08 106.46,179.12 106.67,184.89 106.88,190.15 107.1,194.81 107.31,198.89 107.43,200.82 107.53,202.42 107.74,205.49 107.95,208.17 108.17,210.51 108.38,212.57 108.6,214.4 108.81,216.03 109.03,217.49 109.23,218.77 109.24,218.81 109.45,220 109.67,221.09 109.88,222.08 110.1,222.99 110.31,223.83 110.52,224.6 110.74,225.31 110.95,225.98 111.04,226.23 111.17,226.59 111.38,227.16 111.6,227.69 111.81,228.19 112.02,228.65 112.24,229.09 112.45,229.5 112.67,229.88 112.85,230.18 112.88,230.24 113.09,230.57 113.31,230.89 113.52,231.19 113.74,231.47 113.95,231.74 114.16,231.99 114.38,232.22 114.59,232.45 114.66,232.51 114.81,232.66 115.02,232.86 115.24,233.05 115.45,233.24 115.66,233.41 115.88,233.57 116.09,233.73 116.31,233.87 116.46,233.98 116.52,234.02 116.73,234.15 116.95,234.28 117.16,234.4 118.27,234.95 120.08,235.63 121.89,236.11 123.7,236.47 125.5,236.74 127.31,236.96 129.12,237.12 130.93,237.26 132.73,237.37 134.54,237.46 136.35,237.53 138.16,237.59 139.97,237.65 141.77,237.69 143.58,237.73" fill="none" stroke="#91211d" stroke-width="0.85" stroke-opacity="0.89"/>
<polyline points="52.65,241.3 56.44,241.3 60.22,241.3 64,241.3 67.79,241.3 71.57,241.3 75.35,241.3 79.14,241.3 82.92,241.3 86.7,241.3 90.49,241.3 94.27,241.3 98.05,241.3 101.84,241.3 105.62,241.3 109.4,241.3 113.19,241.3 116.97,241.3 120.75,241.29 124.54,241.29 128.32,241.29 132.1,241.29 135.89,241.28 139.67,241.27 143.45,241.25 147.24,241.18 148.47,241.13 148.74,241.12 149,241.1 149.27,241.08 149.54,241.05 149.81,241.03 150.08,240.99 150.34,240.95 150.61,240.9 150.88,240.85 151.02,240.81 151.15,240.77 151.42,240.69 151.69,240.57 151.95,240.43 152.22,240.24 152.49,239.98 152.76,239.64 153.03,239.16 153.3,238.49 153.56,237.57 153.83,236.41 154.1,235.26 154.37,234.73 154.64,234.91 154.8,235.18 154.91,235.39 155.17,236.02 155.44,236.67 155.71,237.28 155.98,237.8 156.25,238.23 156.52,238.6 156.78,238.9 157.05,239.16 157.32,239.38 157.59,239.56 157.86,239.72 158.12,239.86 158.39,239.98 158.59,240.06 158.66,240.09 158.93,240.18 159.2,240.27 159.47,240.34 159.73,240.41 160,240.47 160.27,240.53 160.54,240.58 160.81,240.63 161.08,240.67 161.34,240.71 161.61,240.74 161.88,240.77 162.15,240.8 162.37,240.83 162.42,240.83 162.69,240.86 162.95,240.88 163.22,240.9 163.49,240.92 163.76,240.94 164.03,240.96 164.3,240.97 164.56,240.99 164.83,241 165.1,241.02 165.37,241.03 165.64,241.04 165.9,241.05 166.15,241.06 166.17,241.06 166.44,241.07 166.71,241.08 166.98,241.09 167.25,241.1 167.51,241.1 167.78,241.11 168.05,241.12 168.32,241.12 168.59,241.13 168.86,241.14 169.12,241.14 169.39,241.15 169.66,241.15 169.93,241.16 169.94,241.16 170.2,241.16 170.47,241.17 170.73,241.17 171,241.17 171.27,241.18 171.54,241.18 171.81,241.18 172.08,241.19 172.34,241.19 172.61,241.19 172.88,241.2 173.15,241.2 173.42,241.2 173.68,241.21 173.72,241.21 173.95,241.21 174.22,241.21 174.49,241.21 174.76,241.21 175.03,241.22 177.51,241.23 181.29,241.25 185.07,241.26 188.86,241.27 192.64,241.28 196.42,241.28 200.21,241.28" fill="none" stroke="#3434ff" stroke-width="1.0"/>
<polyline points="71.64,240.57 73.47,240.56 75.31,240.54 77.14,240.52 78.97,240.5 80.8,240.47 82.64,240.44 84.47,240.39 86.3,240.33 88.13,240.25 89.97,240.15 91.8,240 93.63,239.77 95.46,239.41 97.3,238.79 98.03,238.42 98.24,238.28 98.46,238.14 98.67,237.98 98.89,237.81 99.1,237.62 99.13,237.6 99.32,237.42 99.53,237.19 99.75,236.94 99.97,236.66 100.18,236.35 100.4,236 100.61,235.61 100.83,235.17 100.96,234.87 101.04,234.68 101.26,234.12 101.47,233.48 101.69,232.74 101.91,231.9 102.12,230.92 102.34,229.77 102.55,228.43 102.77,226.85 102.79,226.63 102.98,224.97 103.2,222.71 103.41,220 103.63,216.7 103.84,212.68 104.06,207.77 104.28,201.8 104.49,194.7 104.63,189.7 104.71,186.64 104.92,178.35 105.14,171.4 105.35,167.91 105.57,168.47 105.78,171.25 106,175.64 106.22,180.89 106.43,186.37 106.46,187.09 106.65,191.63 106.86,196.44 107.08,200.72 107.29,204.47 107.51,207.73 107.72,210.57 107.94,213.04 108.16,215.21 108.29,216.45 108.37,217.12 108.59,218.81 108.8,220.32 109.02,221.68 109.23,222.9 109.45,224 109.66,225.01 109.88,225.92 110.1,226.77 110.12,226.88 110.31,227.54 110.53,228.25 110.74,228.91 110.96,229.52 111.17,230.09 111.39,230.61 111.6,231.1 111.82,231.56 111.96,231.84 112.03,231.99 112.25,232.39 112.47,232.76 112.68,233.11 112.9,233.44 113.11,233.75 113.33,234.04 113.54,234.32 113.76,234.58 113.79,234.61 113.97,234.82 114.19,235.05 114.41,235.27 114.62,235.48 114.84,235.67 115.05,235.86 115.27,236.03 115.48,236.2 115.62,236.3 115.7,236.36 115.91,236.51 116.13,236.65 116.35,236.79 116.56,236.92 116.78,237.04 116.99,237.16 117.21,237.27 117.46,237.39 119.29,238.13 121.12,238.65 122.95,239.03 124.79,239.31 126.62,239.53 128.45,239.7 130.28,239.83 132.12,239.94 133.95,240.03 135.78,240.11 137.61,240.17 139.45,240.22 141.28,240.27 143.11,240.31" fill="none" stroke="#90211d" stroke-width="0.85" stroke-opacity="0.88"/>
<polyline points="50.61,243.87 54.42,243.87 58.22,243.87 62.03,243.87 65.84,243.87 69.65,243.87 73.45,243.87 77.26,243.87 81.07,243.87 84.88,243.87 88.69,243.87 92.49,243.87 96.3,243.87 100.11,243.87 103.92,243.87 107.72,243.87 111.53,243.87 115.34,243.87 119.15,243.87 122.95,243.87 126.76,243.86 130.57,243.86 134.38,243.86 138.19,243.85 141.99,243.84 145.8,243.8 148.97,243.7 149.24,243.69 149.51,243.67 149.61,243.66 149.78,243.65 150.05,243.63 150.32,243.6 150.59,243.56 150.86,243.52 151.13,243.48 151.4,243.42 151.67,243.35 151.94,243.26 152.21,243.14 152.48,243 152.75,242.81 153.02,242.56 153.29,242.21 153.42,242.02 153.56,241.74 153.83,241.08 154.1,240.19 154.37,239.07 154.64,237.96 154.91,237.46 155.18,237.63 155.45,238.1 155.72,238.71 155.99,239.35 156.26,239.94 156.53,240.46 156.8,240.89 157.07,241.25 157.22,241.43 157.34,241.55 157.61,241.8 157.88,242.02 158.15,242.2 158.42,242.36 158.69,242.5 158.96,242.61 159.23,242.72 159.5,242.81 159.77,242.89 160.04,242.97 160.31,243.03 160.58,243.09 160.85,243.15 161.03,243.18 161.12,243.2 161.39,243.24 161.66,243.28 161.93,243.32 162.2,243.35 162.47,243.38 162.74,243.41 163.01,243.43 163.28,243.46 163.55,243.48 163.82,243.5 164.09,243.52 164.36,243.54 164.63,243.55 164.84,243.56 164.9,243.57 165.17,243.58 165.44,243.59 165.71,243.61 165.98,243.62 166.25,243.63 166.52,243.64 166.79,243.65 167.06,243.66 167.33,243.67 167.6,243.67 167.87,243.68 168.14,243.69 168.41,243.7 168.65,243.7 168.68,243.7 168.95,243.71 169.22,243.71 169.49,243.72 169.76,243.72 170.03,243.73 170.3,243.73 170.57,243.74 170.84,243.74 171.11,243.75 171.38,243.75 171.65,243.75 171.92,243.76 172.19,243.76 172.45,243.76 172.46,243.76 172.73,243.77 173,243.77 173.27,243.77 173.54,243.78 173.81,243.78 174.08,243.78 174.35,243.78 174.62,243.79 174.89,243.79 175.16,243.79 175.43,243.79 175.7,243.79 176.26,243.8 180.07,243.82 183.88,243.83 187.69,243.84 191.49,243.85 195.3,243.85 199.11,243.85" fill="none" stroke="#3434ff" stroke-width="1.0"/>
<polyline points="70.19,243.17 72.04,243.16 73.9,243.15 75.76,243.13 77.62,243.11 79.48,243.09 81.33,243.06 83.19,243.02 85.05,242.98 86.91,242.92 88.76,242.83 90.62,242.72 92.48,242.55 94.34,242.3 96.19,241.89 98.05,241.15 98.06,241.14 98.28,241.02 98.49,240.89 98.71,240.74 98.93,240.58 99.15,240.4 99.36,240.21 99.58,240 99.8,239.76 99.91,239.63 100.01,239.5 100.23,239.21 100.45,238.89 100.66,238.52 100.88,238.11 101.1,237.65 101.31,237.13 101.53,236.53 101.75,235.85 101.77,235.79 101.96,235.06 102.18,234.15 102.4,233.09 102.62,231.84 102.83,230.38 103.05,228.63 103.27,226.55 103.48,224.04 103.62,222.13 103.7,221.01 103.92,217.32 104.13,212.83 104.35,207.41 104.57,201 104.78,193.78 105,186.43 105.22,180.33 105.44,177.28 105.48,177.17 105.65,177.78 105.87,180.25 106.09,184.15 106.3,188.85 106.52,193.77 106.74,198.51 106.95,202.87 107.17,206.76 107.34,209.46 107.39,210.18 107.6,213.16 107.82,215.75 108.04,218.02 108.26,220.01 108.47,221.76 108.69,223.31 108.91,224.69 109.12,225.94 109.2,226.33 109.34,227.05 109.56,228.07 109.77,228.99 109.99,229.83 110.21,230.6 110.42,231.31 110.64,231.96 110.86,232.56 111.05,233.07 111.08,233.12 111.29,233.63 111.51,234.11 111.73,234.56 111.94,234.98 112.16,235.37 112.38,235.73 112.59,236.07 112.81,236.39 112.91,236.54 113.03,236.69 113.24,236.98 113.46,237.24 113.68,237.49 113.89,237.73 114.11,237.95 114.33,238.16 114.55,238.36 114.76,238.54 114.77,238.55 114.98,238.72 115.2,238.89 115.41,239.05 115.63,239.2 115.85,239.34 116.06,239.48 116.28,239.61 116.5,239.73 116.63,239.8 116.71,239.85 116.93,239.96 117.15,240.07 117.37,240.17 118.49,240.63 120.34,241.2 122.2,241.6 124.06,241.9 125.92,242.13 127.77,242.31 129.63,242.44 131.49,242.55 133.35,242.64 135.2,242.72 137.06,242.78 138.92,242.83 140.78,242.88 142.63,242.91" fill="none" stroke="#8f211d" stroke-width="0.85" stroke-opacity="0.88"/>
<polyline points="48.54,246.48 52.37,246.48 56.2,246.48 60.03,246.48 63.87,246.48 67.7,246.48 71.53,246.48 75.36,246.48 79.2,246.48 83.03,246.47 86.86,246.47 90.69,246.47 94.52,246.47 98.36,246.47 102.19,246.47 106.02,246.47 109.85,246.47 113.69,246.47 117.52,246.47 121.35,246.47 125.18,246.47 129.02,246.47 132.85,246.46 136.68,246.46 140.51,246.45 144.34,246.43 148.18,246.36 149.51,246.31 149.78,246.29 150.05,246.28 150.32,246.25 150.59,246.23 150.87,246.2 151.14,246.17 151.41,246.13 151.68,246.08 151.95,246.02 152.01,246.01 152.22,245.95 152.5,245.86 152.77,245.75 153.04,245.61 153.31,245.42 153.58,245.17 153.86,244.83 154.13,244.36 154.4,243.72 154.67,242.84 154.94,241.76 155.21,240.7 155.49,240.22 155.76,240.39 155.84,240.5 156.03,240.84 156.3,241.44 156.57,242.06 156.84,242.64 157.12,243.15 157.39,243.58 157.66,243.93 157.93,244.23 158.2,244.48 158.48,244.69 158.75,244.87 159.02,245.03 159.29,245.16 159.56,245.28 159.67,245.32 159.83,245.38 160.11,245.47 160.38,245.55 160.65,245.62 160.92,245.69 161.19,245.74 161.46,245.79 161.74,245.84 162.01,245.88 162.28,245.92 162.55,245.96 162.82,245.99 163.09,246.02 163.37,246.04 163.51,246.06 163.64,246.07 163.91,246.09 164.18,246.11 164.45,246.13 164.73,246.15 165,246.16 165.27,246.18 165.54,246.19 165.81,246.21 166.08,246.22 166.36,246.23 166.63,246.24 166.9,246.25 167.17,246.26 167.34,246.27 167.44,246.27 167.71,246.28 167.99,246.29 168.26,246.29 168.53,246.3 168.8,246.31 169.07,246.31 169.34,246.32 169.62,246.33 169.89,246.33 170.16,246.34 170.43,246.34 170.7,246.35 170.98,246.35 171.17,246.35 171.25,246.35 171.52,246.36 171.79,246.36 172.06,246.36 172.33,246.37 172.61,246.37 172.88,246.37 173.15,246.38 173.42,246.38 173.69,246.38 173.96,246.39 174.24,246.39 174.51,246.39 174.78,246.39 175,246.39 175.05,246.4 175.32,246.4 175.59,246.4 175.87,246.4 176.14,246.4 176.41,246.41 178.84,246.42 182.67,246.43 186.5,246.44 190.33,246.45 194.16,246.45 198,246.46" fill="none" stroke="#3434ff" stroke-width="1.0"/>
<polyline points="68.71,245.81 70.6,245.8 72.48,245.79 74.36,245.77 76.25,245.76 78.13,245.74 80.01,245.72 81.9,245.69 83.78,245.65 85.66,245.61 87.54,245.55 89.43,245.46 91.31,245.35 93.19,245.18 95.08,244.91 96.96,244.45 98.22,243.95 98.44,243.84 98.65,243.72 98.84,243.61 98.87,243.59 99.09,243.44 99.31,243.28 99.53,243.11 99.75,242.91 99.96,242.7 100.18,242.46 100.4,242.2 100.62,241.91 100.73,241.75 100.84,241.58 101.06,241.21 101.27,240.79 101.49,240.32 101.71,239.78 101.93,239.16 102.15,238.45 102.37,237.62 102.58,236.67 102.61,236.55 102.8,235.55 103.02,234.23 103.24,232.66 103.46,230.79 103.68,228.55 103.89,225.84 104.11,222.55 104.33,218.57 104.49,215.13 104.55,213.79 104.77,208.17 104.99,201.89 105.2,195.56 105.42,190.35 105.64,187.77 105.86,188.2 106.08,190.33 106.3,193.71 106.37,195.14 106.51,197.79 106.73,202.08 106.95,206.23 107.17,210.07 107.39,213.5 107.61,216.52 107.82,219.16 108.04,221.47 108.26,223.46 108.26,223.49 108.48,225.25 108.7,226.81 108.92,228.2 109.13,229.43 109.35,230.53 109.57,231.53 109.79,232.43 110.01,233.25 110.14,233.72 110.23,234 110.44,234.68 110.66,235.31 110.88,235.89 111.1,236.42 111.32,236.92 111.54,237.38 111.75,237.8 111.97,238.2 112.02,238.29 112.19,238.57 112.41,238.91 112.63,239.24 112.84,239.54 113.06,239.82 113.28,240.09 113.5,240.34 113.72,240.57 113.91,240.76 113.94,240.79 114.15,241 114.37,241.2 114.59,241.38 114.81,241.56 115.03,241.72 115.25,241.88 115.46,242.03 115.68,242.17 115.79,242.24 115.9,242.3 116.12,242.43 116.34,242.55 116.56,242.66 116.77,242.77 116.99,242.88 117.21,242.98 117.43,243.07 117.65,243.16 117.67,243.17 119.56,243.79 121.44,244.23 123.32,244.55 125.2,244.78 127.09,244.96 128.97,245.1 130.85,245.21 132.74,245.3 134.62,245.37 136.5,245.43 138.39,245.48 140.27,245.52 142.15,245.56" fill="none" stroke="#8e221d" stroke-width="0.85" stroke-opacity="0.87"/>
<polyline points="46.44,249.11 50.3,249.11 54.15,249.11 58.01,249.11 61.87,249.11 65.73,249.11 69.58,249.11 73.44,249.11 77.3,249.11 81.15,249.11 85.01,249.11 88.87,249.11 92.73,249.11 96.58,249.11 100.44,249.11 104.3,249.11 108.15,249.11 112.01,249.11 115.87,249.11 119.73,249.11 123.58,249.11 127.44,249.11 131.3,249.1 135.16,249.1 139.01,249.09 142.87,249.08 146.73,249.05 150.14,248.95 150.42,248.93 150.58,248.92 150.69,248.91 150.96,248.89 151.24,248.87 151.51,248.84 151.78,248.81 152.06,248.77 152.33,248.72 152.61,248.66 152.88,248.59 153.15,248.5 153.43,248.39 153.7,248.25 153.97,248.06 154.25,247.81 154.44,247.59 154.52,247.48 154.79,247.02 155.07,246.39 155.34,245.54 155.61,244.49 155.89,243.47 156.16,243.02 156.43,243.18 156.71,243.62 156.98,244.2 157.26,244.81 157.53,245.38 157.8,245.88 158.08,246.3 158.3,246.59 158.35,246.65 158.62,246.95 158.9,247.19 159.17,247.4 159.44,247.58 159.72,247.73 159.99,247.86 160.26,247.97 160.54,248.07 160.81,248.16 161.08,248.24 161.36,248.31 161.63,248.37 161.9,248.42 162.16,248.47 162.18,248.47 162.45,248.52 162.73,248.56 163,248.59 163.27,248.63 163.55,248.66 163.82,248.68 164.09,248.71 164.37,248.73 164.64,248.75 164.91,248.77 165.19,248.79 165.46,248.81 165.73,248.82 166.01,248.84 166.01,248.84 166.28,248.85 166.55,248.86 166.83,248.88 167.1,248.89 167.38,248.9 167.65,248.91 167.92,248.92 168.2,248.92 168.47,248.93 168.74,248.94 169.02,248.95 169.29,248.95 169.56,248.96 169.84,248.96 169.87,248.96 170.11,248.97 170.38,248.97 170.66,248.98 170.93,248.98 171.2,248.99 171.48,248.99 171.75,249 172.02,249 172.3,249 172.57,249.01 172.85,249.01 173.12,249.01 173.39,249.02 173.67,249.02 173.73,249.02 173.94,249.02 174.21,249.03 174.49,249.03 174.76,249.03 175.03,249.03 175.31,249.04 175.58,249.04 175.85,249.04 176.13,249.04 176.4,249.04 176.67,249.05 176.95,249.05 177.22,249.05 177.58,249.05 181.44,249.07 185.3,249.08 189.16,249.09 193.01,249.09 196.87,249.1" fill="none" stroke="#3434ff" stroke-width="1.0"/>
<polyline points="67.22,248.47 69.13,248.47 71.04,248.46 72.95,248.45 74.86,248.44 76.77,248.42 78.67,248.41 80.58,248.39 82.49,248.36 84.4,248.33 86.31,248.28 88.22,248.23 90.13,248.15 92.04,248.04 93.94,247.87 95.85,247.61 97.76,247.15 98.66,246.82 98.88,246.72 99.1,246.61 99.32,246.49 99.54,246.36 99.67,246.28 99.76,246.22 99.97,246.07 100.19,245.89 100.41,245.7 100.63,245.49 100.85,245.26 101.07,245 101.29,244.71 101.51,244.38 101.58,244.27 101.73,244.01 101.95,243.59 102.17,243.11 102.39,242.57 102.61,241.94 102.83,241.21 103.05,240.36 103.27,239.38 103.49,238.22 103.49,238.21 103.71,236.84 103.93,235.19 104.15,233.23 104.37,230.86 104.59,227.99 104.81,224.54 105.03,220.41 105.25,215.59 105.4,212 105.47,210.24 105.69,204.9 105.91,200.55 106.13,198.4 106.35,198.76 106.57,200.57 106.79,203.43 107.01,206.9 107.23,210.56 107.31,211.88 107.45,214.13 107.67,217.43 107.89,220.39 108.1,223.01 108.32,225.31 108.54,227.31 108.76,229.07 108.98,230.61 109.2,231.97 109.21,232.04 109.42,233.18 109.64,234.25 109.86,235.22 110.08,236.09 110.3,236.87 110.52,237.59 110.74,238.24 110.96,238.83 111.12,239.24 111.18,239.38 111.4,239.88 111.62,240.35 111.84,240.78 112.06,241.18 112.28,241.55 112.5,241.89 112.72,242.21 112.94,242.51 113.03,242.63 113.16,242.79 113.38,243.05 113.6,243.3 113.82,243.53 114.04,243.74 114.26,243.95 114.48,244.14 114.7,244.32 114.92,244.49 114.94,244.51 115.14,244.65 115.36,244.8 115.58,244.94 115.8,245.08 116.02,245.21 116.24,245.33 116.45,245.45 116.67,245.55 116.85,245.64 116.89,245.66 117.11,245.76 117.33,245.85 117.55,245.94 117.77,246.03 117.99,246.11 118.21,246.19 118.76,246.36 120.67,246.85 122.58,247.2 124.48,247.45 126.39,247.64 128.3,247.78 130.21,247.89 132.12,247.98 134.03,248.05 135.94,248.11 137.85,248.16 139.75,248.2 141.66,248.24" fill="none" stroke="#8d221d" stroke-width="0.85" stroke-opacity="0.86"/>
<polyline points="44.31,251.79 48.2,251.79 52.08,251.79 55.96,251.79 59.84,251.79 63.73,251.79 67.61,251.79 71.49,251.79 75.37,251.79 79.26,251.79 83.14,251.79 87.02,251.79 90.9,251.79 94.79,251.79 98.67,251.79 102.55,251.79 106.43,251.79 110.32,251.78 114.2,251.78 118.08,251.78 121.96,251.78 125.85,251.78 129.73,251.78 133.61,251.78 137.49,251.77 141.38,251.76 145.26,251.74 149.14,251.69 150.86,251.62 151.14,251.61 151.41,251.59 151.69,251.57 151.96,251.54 152.24,251.51 152.51,251.48 152.79,251.44 153.02,251.4 153.06,251.39 153.34,251.34 153.62,251.27 153.89,251.18 154.17,251.07 154.44,250.93 154.72,250.74 154.99,250.5 155.27,250.17 155.54,249.71 155.82,249.09 156.09,248.27 156.37,247.25 156.64,246.28 156.91,245.86 156.92,245.86 157.19,246.01 157.47,246.43 157.75,247 158.02,247.59 158.3,248.15 158.57,248.64 158.85,249.06 159.12,249.4 159.4,249.69 159.67,249.94 159.95,250.14 160.22,250.31 160.5,250.46 160.77,250.59 160.79,250.6 161.05,250.7 161.32,250.8 161.6,250.88 161.87,250.96 162.15,251.02 162.43,251.08 162.7,251.14 162.98,251.18 163.25,251.23 163.53,251.26 163.8,251.3 164.08,251.33 164.35,251.36 164.63,251.39 164.67,251.39 164.9,251.41 165.18,251.43 165.45,251.45 165.73,251.47 166,251.49 166.28,251.5 166.55,251.52 166.83,251.53 167.11,251.54 167.38,251.55 167.66,251.57 167.93,251.58 168.21,251.59 168.48,251.59 168.55,251.6 168.76,251.6 169.03,251.61 169.31,251.62 169.58,251.62 169.86,251.63 170.13,251.64 170.41,251.64 170.68,251.65 170.96,251.65 171.23,251.66 171.51,251.66 171.79,251.67 172.06,251.67 172.34,251.68 172.44,251.68 172.61,251.68 172.89,251.68 173.16,251.69 173.44,251.69 173.71,251.69 173.99,251.7 174.26,251.7 174.54,251.7 174.81,251.7 175.09,251.71 175.36,251.71 175.64,251.71 175.92,251.71 176.19,251.71 176.32,251.72 176.47,251.72 176.74,251.72 177.02,251.72 177.29,251.72 177.57,251.72 177.84,251.73 178.12,251.73 180.2,251.74 184.08,251.75 187.97,251.76 191.85,251.76 195.73,251.77" fill="none" stroke="#3434ff" stroke-width="1.0"/>
<polyline points="65.71,251.18 67.64,251.17 69.57,251.17 71.5,251.16 73.42,251.15 75.35,251.14 77.28,251.13 79.21,251.11 81.14,251.1 83.07,251.07 84.99,251.04 86.92,251.01 88.85,250.96 90.78,250.89 92.71,250.79 94.63,250.64 96.56,250.41 98.49,250.01 99.33,249.74 99.55,249.65 99.77,249.56 99.99,249.46 100.22,249.35 100.42,249.23 100.44,249.22 100.66,249.09 100.88,248.94 101.1,248.78 101.32,248.6 101.54,248.39 101.76,248.17 101.99,247.92 102.21,247.63 102.35,247.44 102.43,247.32 102.65,246.95 102.87,246.54 103.09,246.07 103.31,245.53 103.53,244.91 103.75,244.18 103.98,243.34 104.2,242.34 104.28,241.95 104.42,241.16 104.64,239.76 104.86,238.09 105.08,236.08 105.3,233.65 105.52,230.74 105.75,227.27 105.97,223.25 106.19,218.83 106.2,218.49 106.41,214.45 106.63,210.9 106.85,209.17 107.07,209.47 107.29,210.95 107.51,213.31 107.74,216.18 107.96,219.22 108.13,221.59 108.18,222.19 108.4,224.96 108.62,227.45 108.84,229.66 109.06,231.59 109.28,233.29 109.51,234.77 109.73,236.08 109.95,237.23 110.06,237.77 110.17,238.26 110.39,239.17 110.61,239.99 110.83,240.72 111.05,241.39 111.27,241.99 111.5,242.54 111.72,243.05 111.94,243.51 111.99,243.61 112.16,243.94 112.38,244.33 112.6,244.69 112.82,245.03 113.04,245.34 113.27,245.63 113.49,245.91 113.71,246.16 113.92,246.38 113.93,246.39 114.15,246.61 114.37,246.82 114.59,247.02 114.81,247.2 115.03,247.37 115.26,247.53 115.48,247.68 115.7,247.82 115.85,247.92 115.92,247.96 116.14,248.09 116.36,248.21 116.58,248.32 116.8,248.43 117.03,248.53 117.25,248.63 117.47,248.72 117.69,248.81 117.77,248.84 117.91,248.89 118.13,248.97 118.35,249.05 118.57,249.12 118.79,249.19 119.02,249.25 119.7,249.44 121.63,249.84 123.56,250.12 125.49,250.33 127.41,250.48 129.34,250.6 131.27,250.69 133.2,250.77 135.13,250.83 137.06,250.87 138.98,250.92 140.91,250.95" fill="none" stroke="#8c221d" stroke-width="0.85" stroke-opacity="0.86"/>
<polyline points="42.16,254.5 46.07,254.5 49.98,254.5 53.88,254.5 57.79,254.5 61.7,254.5 65.61,254.5 69.52,254.5 73.42,254.5 77.33,254.49 81.24,254.49 85.15,254.49 89.06,254.49 92.96,254.49 96.87,254.49 100.78,254.49 104.69,254.49 108.6,254.49 112.51,254.49 116.41,254.49 120.32,254.49 124.23,254.49 128.14,254.49 132.05,254.49 135.95,254.48 139.86,254.48 143.77,254.46 147.68,254.43 151.54,254.33 151.59,254.33 151.82,254.31 152.09,254.3 152.37,254.28 152.65,254.25 152.92,254.22 153.2,254.19 153.48,254.15 153.76,254.11 154.03,254.05 154.31,253.98 154.59,253.89 154.86,253.78 155.14,253.64 155.42,253.46 155.49,253.4 155.7,253.22 155.97,252.89 156.25,252.45 156.53,251.84 156.8,251.04 157.08,250.06 157.36,249.13 157.64,248.73 157.91,248.88 158.19,249.29 158.47,249.83 158.74,250.41 159.02,250.96 159.3,251.44 159.4,251.6 159.58,251.85 159.85,252.19 160.13,252.47 160.41,252.71 160.68,252.91 160.96,253.08 161.24,253.23 161.51,253.35 161.79,253.46 162.07,253.56 162.35,253.64 162.62,253.71 162.9,253.77 163.18,253.83 163.31,253.86 163.45,253.88 163.73,253.93 164.01,253.97 164.29,254 164.56,254.04 164.84,254.07 165.12,254.09 165.39,254.12 165.67,254.14 165.95,254.16 166.23,254.18 166.5,254.2 166.78,254.21 167.06,254.23 167.22,254.24 167.33,254.24 167.61,254.26 167.89,254.27 168.17,254.28 168.44,254.29 168.72,254.3 169,254.31 169.27,254.32 169.55,254.32 169.83,254.33 170.11,254.34 170.38,254.34 170.66,254.35 170.94,254.36 171.13,254.36 171.21,254.36 171.49,254.37 171.77,254.37 172.05,254.38 172.32,254.38 172.6,254.38 172.88,254.39 173.15,254.39 173.43,254.4 173.71,254.4 173.99,254.4 174.26,254.4 174.54,254.41 174.82,254.41 175.03,254.41 175.09,254.41 175.37,254.42 175.65,254.42 175.93,254.42 176.2,254.42 176.48,254.42 176.76,254.43 177.03,254.43 177.31,254.43 177.59,254.43 177.86,254.43 178.14,254.44 178.42,254.44 178.7,254.44 178.94,254.44 178.97,254.44 182.85,254.46 186.76,254.47 190.67,254.47 194.58,254.48" fill="none" stroke="#3434ff" stroke-width="1.0"/>
<polyline points="64.18,253.91 66.12,253.91 68.07,253.9 70.02,253.9 71.96,253.89 73.91,253.89 75.85,253.88 77.8,253.87 79.74,253.86 81.69,253.84 83.63,253.82 85.58,253.8 87.52,253.77 89.47,253.72 91.41,253.67 93.36,253.58 95.3,253.46 97.25,253.26 99.19,252.92 99.94,252.72 100.17,252.64 100.39,252.57 100.61,252.48 100.83,252.39 101.06,252.29 101.14,252.25 101.28,252.18 101.5,252.05 101.73,251.92 101.95,251.77 102.17,251.6 102.39,251.41 102.62,251.21 102.84,250.97 103.06,250.71 103.08,250.68 103.28,250.41 103.51,250.07 103.73,249.68 103.95,249.24 104.17,248.73 104.4,248.13 104.62,247.43 104.84,246.61 105.03,245.82 105.06,245.65 105.29,244.5 105.51,243.13 105.73,241.49 105.96,239.52 106.18,237.16 106.4,234.37 106.62,231.16 106.85,227.65 106.97,225.63 107.07,224.2 107.29,221.43 107.51,220.08 107.74,220.32 107.96,221.49 108.18,223.35 108.4,225.63 108.63,228.06 108.85,230.44 108.92,231.15 109.07,232.66 109.29,234.67 109.52,236.45 109.74,238.02 109.96,239.4 110.19,240.6 110.41,241.67 110.63,242.6 110.85,243.44 110.86,243.47 111.08,244.18 111.3,244.84 111.52,245.44 111.74,245.99 111.97,246.48 112.19,246.93 112.41,247.34 112.63,247.71 112.81,247.99 112.86,248.06 113.08,248.38 113.3,248.67 113.52,248.94 113.75,249.2 113.97,249.43 114.19,249.65 114.42,249.86 114.64,250.05 114.75,250.14 114.86,250.23 115.08,250.4 115.31,250.55 115.53,250.7 115.75,250.84 115.97,250.97 116.2,251.09 116.42,251.21 116.64,251.32 116.7,251.34 116.86,251.42 117.09,251.52 117.31,251.61 117.53,251.7 117.75,251.78 117.98,251.86 118.2,251.93 118.42,252 118.64,252.07 118.65,252.07 118.87,252.13 119.09,252.19 119.31,252.25 119.54,252.31 119.76,252.36 120.59,252.54 122.53,252.85 124.48,253.08 126.43,253.24 128.37,253.36 130.32,253.45 132.26,253.53 134.21,253.58 136.15,253.63 138.1,253.67 140.04,253.7" fill="none" stroke="#8c231e" stroke-width="0.85" stroke-opacity="0.85"/>
<polyline points="39.98,257.24 43.91,257.24 47.85,257.24 51.78,257.24 55.71,257.24 59.65,257.24 63.58,257.24 67.52,257.24 71.45,257.24 75.38,257.24 79.32,257.24 83.25,257.24 87.19,257.24 91.12,257.24 95.05,257.24 98.99,257.24 102.92,257.24 106.86,257.24 110.79,257.24 114.72,257.24 118.66,257.24 122.59,257.24 126.53,257.23 130.46,257.23 134.39,257.23 138.33,257.22 142.26,257.22 146.2,257.2 150.13,257.14 152.05,257.08 152.33,257.06 152.61,257.04 152.89,257.02 153.17,257 153.45,256.97 153.72,256.94 154,256.9 154.06,256.89 154.28,256.85 154.56,256.8 154.84,256.73 155.12,256.64 155.4,256.53 155.68,256.39 155.96,256.21 156.24,255.97 156.51,255.65 156.79,255.22 157.07,254.63 157.35,253.85 157.63,252.91 157.91,252.02 158,251.83 158.19,251.64 158.47,251.79 158.75,252.18 159.02,252.71 159.3,253.27 159.58,253.8 159.86,254.27 160.14,254.67 160.42,255.01 160.7,255.29 160.98,255.52 161.26,255.72 161.54,255.89 161.81,256.03 161.93,256.08 162.09,256.15 162.37,256.26 162.65,256.35 162.93,256.43 163.21,256.5 163.49,256.56 163.77,256.61 164.05,256.66 164.33,256.7 164.6,256.74 164.88,256.78 165.16,256.81 165.44,256.84 165.72,256.86 165.87,256.88 166,256.89 166.28,256.91 166.56,256.93 166.84,256.95 167.11,256.96 167.39,256.98 167.67,256.99 167.95,257 168.23,257.02 168.51,257.03 168.79,257.04 169.07,257.05 169.35,257.06 169.63,257.06 169.8,257.07 169.9,257.07 170.18,257.08 170.46,257.09 170.74,257.09 171.02,257.1 171.3,257.1 171.58,257.11 171.86,257.12 172.14,257.12 172.41,257.12 172.69,257.13 172.97,257.13 173.25,257.14 173.53,257.14 173.73,257.14 173.81,257.14 174.09,257.15 174.37,257.15 174.65,257.15 174.93,257.16 175.2,257.16 175.48,257.16 175.76,257.16 176.04,257.17 176.32,257.17 176.6,257.17 176.88,257.17 177.16,257.17 177.44,257.18 177.67,257.18 177.72,257.18 177.99,257.18 178.27,257.18 178.55,257.18 178.83,257.18 179.11,257.19 179.39,257.19 179.67,257.19 181.6,257.2 185.54,257.21 189.47,257.22 193.4,257.22" fill="none" stroke="#3434ff" stroke-width="1.0"/>
<polyline points="62.63,256.68 64.59,256.67 66.55,256.67 68.51,256.67 70.48,256.66 72.44,256.66 74.4,256.65 76.36,256.64 78.33,256.63 80.29,256.62 82.25,256.6 84.21,256.59 86.18,256.56 88.14,256.53 90.1,256.49 92.06,256.43 94.03,256.35 95.99,256.23 97.95,256.02 99.91,255.66 100.2,255.58 100.43,255.52 100.65,255.45 100.88,255.37 101.1,255.28 101.32,255.19 101.55,255.09 101.77,254.98 101.87,254.92 102,254.86 102.22,254.72 102.44,254.57 102.67,254.4 102.89,254.21 103.12,254 103.34,253.76 103.57,253.49 103.79,253.18 103.84,253.11 104.01,252.83 104.24,252.42 104.46,251.96 104.69,251.42 104.91,250.79 105.13,250.05 105.36,249.18 105.58,248.16 105.8,246.98 105.81,246.94 106.03,245.48 106.25,243.75 106.48,241.7 106.7,239.31 106.93,236.6 107.15,233.71 107.38,230.94 107.6,228.77 107.76,227.87 107.82,227.72 108.05,227.91 108.27,228.86 108.5,230.38 108.72,232.26 108.94,234.28 109.17,236.29 109.39,238.19 109.62,239.92 109.72,240.68 109.84,241.47 110.06,242.84 110.29,244.05 110.51,245.12 110.74,246.06 110.96,246.89 111.18,247.63 111.41,248.29 111.63,248.88 111.69,249.01 111.86,249.41 112.08,249.89 112.31,250.32 112.53,250.72 112.75,251.08 112.98,251.41 113.2,251.71 113.43,251.99 113.65,252.24 113.65,252.24 113.87,252.48 114.1,252.7 114.32,252.9 114.55,253.09 114.77,253.27 114.99,253.43 115.22,253.59 115.44,253.73 115.61,253.83 115.67,253.86 115.89,253.99 116.12,254.11 116.34,254.22 116.56,254.32 116.79,254.42 117.01,254.51 117.24,254.6 117.46,254.68 117.57,254.72 117.68,254.76 117.91,254.83 118.13,254.9 118.36,254.97 118.58,255.03 118.8,255.09 119.03,255.15 119.25,255.2 119.48,255.25 119.54,255.26 119.7,255.3 119.93,255.35 120.15,255.39 121.5,255.62 123.46,255.86 125.42,256.03 127.38,256.15 129.35,256.24 131.31,256.32 133.27,256.37 135.23,256.42 137.2,256.46 139.16,256.49" fill="none" stroke="#8a231e" stroke-width="0.85" stroke-opacity="0.85"/>
<polyline points="37.77,260.02 41.73,260.02 45.69,260.02 49.65,260.02 53.61,260.02 57.57,260.02 61.53,260.02 65.49,260.02 69.45,260.02 73.41,260.02 77.37,260.02 81.33,260.02 85.29,260.02 89.25,260.02 93.21,260.02 97.17,260.02 101.13,260.02 105.09,260.02 109.05,260.02 113.01,260.02 116.97,260.02 120.93,260.02 124.89,260.02 128.85,260.01 132.81,260.01 136.77,260.01 140.73,260 144.69,259.99 148.65,259.96 152.43,259.86 152.61,259.85 152.71,259.84 152.99,259.83 153.27,259.81 153.55,259.78 153.83,259.75 154.11,259.72 154.39,259.68 154.67,259.64 154.95,259.58 155.24,259.51 155.52,259.43 155.8,259.32 156.08,259.18 156.36,259.01 156.57,258.83 156.64,258.77 156.92,258.46 157.2,258.03 157.48,257.45 157.76,256.7 158.04,255.79 158.32,254.95 158.61,254.59 158.89,254.73 159.17,255.11 159.45,255.62 159.73,256.17 160.01,256.69 160.29,257.15 160.54,257.49 160.57,257.54 160.85,257.87 161.13,258.14 161.41,258.37 161.69,258.56 161.98,258.73 162.26,258.86 162.54,258.98 162.82,259.08 163.1,259.17 163.38,259.25 163.66,259.32 163.94,259.38 164.22,259.43 164.5,259.47 164.5,259.48 164.78,259.52 165.06,259.55 165.34,259.59 165.63,259.62 165.91,259.64 166.19,259.67 166.47,259.69 166.75,259.71 167.03,259.73 167.31,259.75 167.59,259.76 167.87,259.78 168.15,259.79 168.43,259.8 168.46,259.8 168.71,259.81 169,259.82 169.28,259.83 169.56,259.84 169.84,259.85 170.12,259.86 170.4,259.86 170.68,259.87 170.96,259.88 171.24,259.88 171.52,259.89 171.8,259.9 172.08,259.9 172.37,259.9 172.42,259.91 172.65,259.91 172.93,259.91 173.21,259.92 173.49,259.92 173.77,259.92 174.05,259.93 174.33,259.93 174.61,259.93 174.89,259.94 175.17,259.94 175.45,259.94 175.74,259.94 176.02,259.95 176.3,259.95 176.38,259.95 176.58,259.95 176.86,259.95 177.14,259.96 177.42,259.96 177.7,259.96 177.98,259.96 178.26,259.96 178.54,259.96 178.82,259.97 179.11,259.97 179.39,259.97 179.67,259.97 179.95,259.97 180.23,259.97 180.34,259.97 184.3,259.99 188.26,260 192.22,260" fill="none" stroke="#3434ff" stroke-width="1.0"/>
<polyline points="61.06,259.48 63.04,259.47 65.01,259.47 66.99,259.47 68.97,259.46 70.95,259.46 72.93,259.45 74.91,259.45 76.89,259.44 78.87,259.43 80.85,259.42 82.83,259.41 84.81,259.39 86.79,259.36 88.77,259.33 90.75,259.29 92.73,259.24 94.71,259.15 96.69,259.02 98.67,258.79 100.15,258.51 100.37,258.45 100.6,258.39 100.65,258.37 100.83,258.32 101.05,258.24 101.28,258.16 101.5,258.07 101.73,257.98 101.95,257.87 102.18,257.75 102.4,257.61 102.63,257.46 102.63,257.46 102.86,257.3 103.08,257.11 103.31,256.9 103.53,256.66 103.76,256.39 103.98,256.08 104.21,255.73 104.43,255.32 104.61,254.96 104.66,254.85 104.89,254.3 105.11,253.66 105.34,252.91 105.56,252.02 105.79,250.97 106.01,249.73 106.24,248.26 106.47,246.55 106.59,245.49 106.69,244.57 106.92,242.37 107.14,240.07 107.37,237.92 107.59,236.26 107.82,235.47 108.04,235.62 108.27,236.36 108.5,237.56 108.57,238.02 108.72,239.06 108.95,240.7 109.17,242.34 109.4,243.9 109.62,245.35 109.85,246.65 110.07,247.81 110.3,248.84 110.53,249.75 110.55,249.83 110.75,250.55 110.98,251.27 111.2,251.9 111.43,252.46 111.65,252.97 111.88,253.42 112.11,253.83 112.33,254.2 112.53,254.5 112.56,254.54 112.78,254.84 113.01,255.12 113.23,255.38 113.46,255.62 113.68,255.83 113.91,256.03 114.14,256.22 114.36,256.39 114.51,256.49 114.59,256.54 114.81,256.69 115.04,256.83 115.26,256.96 115.49,257.07 115.72,257.19 115.94,257.29 116.17,257.39 116.39,257.48 116.49,257.52 116.62,257.57 116.84,257.65 117.07,257.72 117.29,257.79 117.52,257.86 117.75,257.93 117.97,257.99 118.2,258.04 118.42,258.1 118.47,258.11 118.65,258.15 118.87,258.2 119.1,258.24 119.32,258.29 119.55,258.33 119.78,258.37 120,258.41 120.23,258.44 120.45,258.47 122.43,258.72 124.41,258.88 126.39,259 128.37,259.09 130.35,259.16 132.33,259.21 134.3,259.25 136.28,259.29 138.26,259.31" fill="none" stroke="#89241e" stroke-width="0.85" stroke-opacity="0.84"/>
<polyline points="35.52,262.84 39.51,262.84 43.5,262.84 47.49,262.84 51.47,262.84 55.46,262.84 59.45,262.84 63.43,262.84 67.42,262.84 71.41,262.84 75.39,262.84 79.38,262.84 83.37,262.84 87.35,262.84 91.34,262.84 95.33,262.84 99.32,262.84 103.3,262.84 107.29,262.84 111.28,262.84 115.26,262.84 119.25,262.84 123.24,262.83 127.22,262.83 131.21,262.83 135.2,262.83 139.18,262.82 143.17,262.81 147.16,262.79 151.15,262.74 152.72,262.68 153.01,262.66 153.29,262.65 153.57,262.63 153.85,262.6 154.14,262.58 154.42,262.54 154.7,262.51 154.98,262.46 155.13,262.43 155.27,262.41 155.55,262.34 155.83,262.25 156.12,262.15 156.4,262.01 156.68,261.84 156.96,261.61 157.25,261.3 157.53,260.88 157.81,260.32 158.09,259.59 158.38,258.72 158.66,257.92 158.94,257.58 159.12,257.63 159.22,257.71 159.51,258.08 159.79,258.57 160.07,259.1 160.36,259.61 160.64,260.06 160.92,260.44 161.2,260.76 161.49,261.03 161.77,261.25 162.05,261.44 162.33,261.6 162.62,261.73 162.9,261.85 163.11,261.92 163.18,261.95 163.47,262.03 163.75,262.11 164.03,262.17 164.31,262.23 164.6,262.28 164.88,262.32 165.16,262.36 165.44,262.4 165.73,262.43 166.01,262.46 166.29,262.48 166.58,262.51 166.86,262.53 167.09,262.55 167.14,262.55 167.42,262.57 167.71,262.58 167.99,262.6 168.27,262.61 168.55,262.62 168.84,262.63 169.12,262.64 169.4,262.65 169.69,262.66 169.97,262.67 170.25,262.68 170.53,262.69 170.82,262.69 171.08,262.7 171.1,262.7 171.38,262.71 171.66,262.71 171.95,262.72 172.23,262.72 172.51,262.73 172.79,262.73 173.08,262.74 173.36,262.74 173.64,262.74 173.93,262.75 174.21,262.75 174.49,262.75 174.77,262.76 175.06,262.76 175.07,262.76 175.34,262.76 175.62,262.76 175.9,262.77 176.19,262.77 176.47,262.77 176.75,262.77 177.04,262.77 177.32,262.78 177.6,262.78 177.88,262.78 178.17,262.78 178.45,262.78 178.73,262.79 179.01,262.79 179.05,262.79 179.3,262.79 179.58,262.79 179.86,262.79 180.15,262.79 180.43,262.79 180.71,262.79 183.04,262.8 187.03,262.81 191.02,262.82" fill="none" stroke="#3434ff" stroke-width="1.0"/>
<polyline points="59.46,262.31 61.46,262.31 63.46,262.31 65.45,262.31 67.45,262.3 69.45,262.3 71.45,262.3 73.44,262.29 75.44,262.29 77.44,262.28 79.43,262.27 81.43,262.26 83.43,262.25 85.43,262.23 87.42,262.21 89.42,262.18 91.42,262.14 93.42,262.08 95.41,261.99 97.41,261.85 99.41,261.6 99.94,261.5 100.17,261.45 100.39,261.4 100.62,261.34 100.85,261.28 101.08,261.21 101.3,261.13 101.41,261.1 101.53,261.05 101.76,260.96 101.98,260.86 102.21,260.74 102.44,260.62 102.66,260.48 102.89,260.32 103.12,260.15 103.35,259.95 103.4,259.89 103.57,259.72 103.8,259.46 104.03,259.17 104.25,258.83 104.48,258.44 104.71,257.98 104.94,257.45 105.16,256.83 105.39,256.1 105.4,256.07 105.62,255.25 105.84,254.24 106.07,253.06 106.3,251.69 106.53,250.14 106.75,248.45 106.98,246.71 107.21,245.1 107.4,244.05 107.43,243.89 107.66,243.32 107.89,243.44 108.12,243.99 108.34,244.9 108.57,246.04 108.8,247.3 109.02,248.58 109.25,249.81 109.39,250.54 109.48,250.95 109.71,251.99 109.93,252.93 110.16,253.76 110.39,254.5 110.61,255.15 110.84,255.73 111.07,256.25 111.3,256.71 111.39,256.89 111.52,257.12 111.75,257.49 111.98,257.83 112.2,258.13 112.43,258.4 112.66,258.65 112.89,258.88 113.11,259.08 113.34,259.27 113.39,259.31 113.57,259.45 113.79,259.61 114.02,259.76 114.25,259.89 114.48,260.02 114.7,260.14 114.93,260.25 115.16,260.35 115.38,260.44 115.39,260.44 115.61,260.53 115.84,260.61 116.07,260.69 116.29,260.76 116.52,260.83 116.75,260.89 116.97,260.95 117.2,261.01 117.38,261.05 117.43,261.06 117.65,261.11 117.88,261.16 118.11,261.2 118.34,261.25 118.56,261.29 118.79,261.33 119.02,261.36 119.24,261.4 119.38,261.42 119.47,261.43 119.7,261.46 119.93,261.49 120.15,261.52 121.38,261.65 123.38,261.8 125.37,261.91 127.37,261.99 129.37,262.05 131.37,262.09 133.36,262.13 135.36,262.16 137.36,262.18" fill="none" stroke="#88251e" stroke-width="0.85" stroke-opacity="0.84"/>
<polyline points="33.25,265.7 37.27,265.7 41.28,265.7 45.29,265.7 49.31,265.7 53.32,265.7 57.34,265.7 61.35,265.7 65.36,265.7 69.38,265.7 73.39,265.7 77.41,265.69 81.42,265.69 85.43,265.69 89.45,265.69 93.46,265.69 97.48,265.69 101.49,265.69 105.5,265.69 109.52,265.69 113.53,265.69 117.55,265.69 121.56,265.69 125.57,265.69 129.59,265.69 133.6,265.69 137.62,265.68 141.63,265.68 145.64,265.66 149.66,265.63 152.97,265.54 153.25,265.52 153.54,265.5 153.67,265.5 153.82,265.49 154.11,265.46 154.39,265.44 154.68,265.4 154.96,265.37 155.24,265.32 155.53,265.27 155.81,265.2 156.1,265.12 156.38,265.01 156.67,264.88 156.95,264.71 157.24,264.48 157.52,264.18 157.68,263.97 157.81,263.78 158.09,263.23 158.38,262.52 158.66,261.69 158.94,260.93 159.23,260.61 159.51,260.74 159.8,261.09 160.08,261.56 160.37,262.08 160.65,262.57 160.94,263 161.22,263.38 161.51,263.69 161.7,263.87 161.79,263.95 162.08,264.17 162.36,264.36 162.64,264.51 162.93,264.64 163.21,264.75 163.5,264.85 163.78,264.93 164.07,265 164.35,265.06 164.64,265.12 164.92,265.17 165.21,265.21 165.49,265.25 165.71,265.27 165.78,265.28 166.06,265.31 166.34,265.34 166.63,265.36 166.91,265.38 167.2,265.4 167.48,265.42 167.77,265.44 168.05,265.45 168.34,265.47 168.62,265.48 168.91,265.49 169.19,265.5 169.48,265.51 169.73,265.52 169.76,265.52 170.04,265.53 170.33,265.54 170.61,265.55 170.9,265.55 171.18,265.56 171.47,265.57 171.75,265.57 172.04,265.58 172.32,265.58 172.61,265.59 172.89,265.59 173.18,265.59 173.46,265.6 173.74,265.6 173.74,265.6 174.03,265.61 174.31,265.61 174.6,265.61 174.88,265.62 175.17,265.62 175.45,265.62 175.74,265.62 176.02,265.63 176.31,265.63 176.59,265.63 176.88,265.63 177.16,265.63 177.45,265.64 177.73,265.64 177.75,265.64 178.01,265.64 178.3,265.64 178.58,265.64 178.87,265.64 179.15,265.65 179.44,265.65 179.72,265.65 180.01,265.65 180.29,265.65 180.58,265.65 180.86,265.65 181.15,265.65 181.77,265.66 185.78,265.67 189.8,265.67" fill="none" stroke="#3434ff" stroke-width="1.0"/>
<polyline points="57.85,265.19 59.86,265.19 61.88,265.19 63.89,265.19 65.91,265.18 67.92,265.18 69.94,265.18 71.95,265.17 73.97,265.17 75.98,265.17 78,265.16 80.01,265.15 82.03,265.14 84.04,265.13 86.06,265.12 88.07,265.1 90.09,265.07 92.1,265.03 94.12,264.98 96.14,264.89 98.15,264.74 99.7,264.55 99.93,264.52 100.15,264.47 100.17,264.47 100.38,264.43 100.61,264.38 100.84,264.33 101.07,264.27 101.3,264.2 101.53,264.13 101.75,264.06 101.98,263.97 102.18,263.89 102.21,263.87 102.44,263.76 102.67,263.64 102.9,263.51 103.13,263.35 103.36,263.18 103.58,262.98 103.81,262.75 104.04,262.49 104.2,262.29 104.27,262.19 104.5,261.84 104.73,261.44 104.96,260.96 105.18,260.41 105.41,259.77 105.64,259.01 105.87,258.14 106.1,257.14 106.21,256.6 106.33,256.02 106.56,254.81 106.79,253.59 107.01,252.49 107.24,251.67 107.47,251.29 107.7,251.36 107.93,251.75 108.16,252.39 108.23,252.62 108.39,253.19 108.61,254.09 108.84,255 109.07,255.9 109.3,256.73 109.53,257.5 109.76,258.2 109.99,258.82 110.21,259.37 110.24,259.43 110.44,259.86 110.67,260.3 110.9,260.69 111.13,261.04 111.36,261.35 111.59,261.63 111.82,261.88 112.04,262.11 112.26,262.3 112.27,262.31 112.5,262.5 112.73,262.67 112.96,262.82 113.19,262.97 113.42,263.1 113.64,263.22 113.87,263.33 114.1,263.43 114.27,263.5 114.33,263.52 114.56,263.61 114.79,263.69 115.02,263.76 115.25,263.83 115.47,263.9 115.7,263.96 115.93,264.02 116.16,264.07 116.29,264.1 116.39,264.12 116.62,264.17 116.85,264.21 117.07,264.25 117.3,264.29 117.53,264.33 117.76,264.36 117.99,264.39 118.22,264.42 118.3,264.43 118.45,264.45 118.68,264.48 118.9,264.51 119.13,264.53 119.36,264.55 119.59,264.58 119.82,264.6 120.05,264.62 120.32,264.64 122.33,264.78 124.35,264.87 126.36,264.93 128.38,264.98 130.39,265.02 132.41,265.05 134.42,265.07 136.44,265.09" fill="none" stroke="#87261f" stroke-width="0.85" stroke-opacity="0.84"/>
<polyline points="30.95,268.59 34.99,268.59 39.03,268.59 43.07,268.59 47.12,268.59 51.16,268.59 55.2,268.59 59.24,268.59 63.28,268.59 67.32,268.59 71.36,268.59 75.4,268.59 79.45,268.59 83.49,268.59 87.53,268.59 91.57,268.59 95.61,268.59 99.65,268.59 103.69,268.59 107.73,268.59 111.78,268.59 115.82,268.59 119.86,268.59 123.9,268.59 127.94,268.58 131.98,268.58 136.02,268.58 140.07,268.57 144.11,268.56 148.15,268.54 152.19,268.47 153.19,268.43 153.48,268.42 153.77,268.4 154.05,268.38 154.34,268.36 154.63,268.33 154.91,268.3 155.2,268.27 155.49,268.22 155.77,268.17 156.06,268.1 156.23,268.06 156.34,268.02 156.63,267.92 156.92,267.79 157.2,267.62 157.49,267.4 157.78,267.11 158.06,266.71 158.35,266.18 158.64,265.5 158.92,264.71 159.21,263.99 159.5,263.68 159.78,263.8 160.07,264.14 160.27,264.45 160.36,264.6 160.64,265.09 160.93,265.57 161.22,265.99 161.5,266.35 161.79,266.66 162.08,266.91 162.36,267.13 162.65,267.31 162.94,267.46 163.22,267.58 163.51,267.69 163.8,267.78 164.08,267.86 164.31,267.92 164.37,267.93 164.66,267.99 164.94,268.04 165.23,268.09 165.52,268.13 165.8,268.17 166.09,268.2 166.37,268.23 166.66,268.25 166.95,268.28 167.23,268.3 167.52,268.32 167.81,268.33 168.09,268.35 168.35,268.36 168.38,268.36 168.67,268.38 168.95,268.39 169.24,268.4 169.53,268.41 169.81,268.42 170.1,268.43 170.39,268.44 170.67,268.44 170.96,268.45 171.25,268.46 171.53,268.46 171.82,268.47 172.11,268.47 172.39,268.48 172.4,268.48 172.68,268.48 172.97,268.49 173.25,268.49 173.54,268.5 173.83,268.5 174.11,268.5 174.4,268.51 174.69,268.51 174.97,268.51 175.26,268.52 175.54,268.52 175.83,268.52 176.12,268.52 176.4,268.53 176.44,268.53 176.69,268.53 176.98,268.53 177.26,268.53 177.55,268.53 177.84,268.54 178.12,268.54 178.41,268.54 178.7,268.54 178.98,268.54 179.27,268.54 179.56,268.54 179.84,268.55 180.13,268.55 180.42,268.55 180.48,268.55 180.7,268.55 180.99,268.55 181.28,268.55 181.56,268.55 184.52,268.56 188.56,268.57" fill="none" stroke="#3434ff" stroke-width="1.0"/>
<polyline points="56.21,268.1 58.24,268.1 60.28,268.1 62.31,268.1 64.34,268.1 66.38,268.09 68.41,268.09 70.44,268.09 72.48,268.08 74.51,268.08 76.54,268.08 78.58,268.07 80.61,268.06 82.64,268.05 84.68,268.04 86.71,268.02 88.74,268 90.78,267.97 92.81,267.93 94.84,267.87 96.87,267.77 98.91,267.59 99.54,267.5 99.77,267.47 100,267.43 100.23,267.39 100.46,267.34 100.69,267.29 100.92,267.24 100.94,267.23 101.15,267.18 101.38,267.11 101.61,267.04 101.85,266.96 102.08,266.87 102.31,266.77 102.54,266.65 102.77,266.53 102.97,266.4 103,266.38 103.23,266.22 103.46,266.04 103.69,265.83 103.92,265.59 104.15,265.31 104.38,264.99 104.61,264.62 104.84,264.19 105.01,263.82 105.07,263.69 105.3,263.1 105.53,262.43 105.76,261.65 105.99,260.77 106.22,259.8 106.45,258.77 106.68,257.75 106.91,256.83 107.04,256.41 107.14,256.16 107.37,255.85 107.6,255.92 107.83,256.24 108.06,256.78 108.29,257.46 108.52,258.23 108.75,259.02 108.98,259.8 109.07,260.1 109.21,260.54 109.44,261.22 109.67,261.83 109.9,262.39 110.13,262.89 110.36,263.33 110.59,263.73 110.82,264.08 111.05,264.39 111.11,264.46 111.28,264.68 111.51,264.93 111.74,265.16 111.97,265.36 112.2,265.55 112.44,265.72 112.67,265.87 112.9,266.01 113.13,266.14 113.14,266.15 113.36,266.25 113.59,266.36 113.82,266.46 114.05,266.55 114.28,266.64 114.51,266.71 114.74,266.79 114.97,266.85 115.17,266.91 115.2,266.91 115.43,266.97 115.66,267.03 115.89,267.08 116.12,267.12 116.35,267.17 116.58,267.21 116.81,267.25 117.04,267.28 117.21,267.31 117.27,267.32 117.5,267.35 117.73,267.38 117.96,267.41 118.19,267.44 118.42,267.46 118.65,267.49 118.88,267.51 119.11,267.53 119.24,267.54 119.34,267.55 119.57,267.57 119.8,267.59 120.03,267.61 121.27,267.69 123.31,267.79 125.34,267.85 127.37,267.9 129.41,267.94 131.44,267.97 133.47,267.99 135.51,268.01" fill="none" stroke="#85271f" stroke-width="0.85" stroke-opacity="0.83"/>
<polyline points="28.62,271.53 32.68,271.53 36.75,271.53 40.82,271.53 44.89,271.53 48.96,271.53 53.03,271.53 57.1,271.53 61.17,271.53 65.24,271.53 69.31,271.53 73.38,271.53 77.44,271.53 81.51,271.53 85.58,271.53 89.65,271.53 93.72,271.53 97.79,271.52 101.86,271.52 105.93,271.52 110,271.52 114.07,271.52 118.13,271.52 122.2,271.52 126.27,271.52 130.34,271.52 134.41,271.52 138.48,271.51 142.55,271.5 146.62,271.49 150.69,271.45 153.43,271.37 153.72,271.35 154.01,271.34 154.3,271.32 154.59,271.29 154.76,271.28 154.87,271.27 155.16,271.24 155.45,271.2 155.74,271.15 156.03,271.1 156.32,271.03 156.61,270.95 156.89,270.85 157.18,270.72 157.47,270.55 157.76,270.33 158.05,270.03 158.34,269.63 158.62,269.11 158.83,268.65 158.91,268.43 159.2,267.65 159.49,266.94 159.78,266.65 160.07,266.77 160.36,267.1 160.64,267.55 160.93,268.05 161.22,268.52 161.51,268.94 161.8,269.3 162.09,269.61 162.38,269.87 162.66,270.08 162.89,270.22 162.95,270.26 163.24,270.41 163.53,270.53 163.82,270.64 164.11,270.73 164.4,270.81 164.68,270.88 164.97,270.94 165.26,270.99 165.55,271.04 165.84,271.08 166.13,271.11 166.42,271.15 166.7,271.17 166.96,271.2 166.99,271.2 167.28,271.22 167.57,271.24 167.86,271.26 168.15,271.28 168.44,271.29 168.72,271.31 169.01,271.32 169.3,271.33 169.59,271.34 169.88,271.35 170.17,271.36 170.45,271.37 170.74,271.38 171.03,271.38 171.03,271.38 171.32,271.39 171.61,271.4 171.9,271.4 172.19,271.41 172.47,271.41 172.76,271.42 173.05,271.42 173.34,271.43 173.63,271.43 173.92,271.44 174.21,271.44 174.49,271.44 174.78,271.45 175.07,271.45 175.1,271.45 175.36,271.45 175.65,271.45 175.94,271.46 176.23,271.46 176.51,271.46 176.8,271.46 177.09,271.46 177.38,271.47 177.67,271.47 177.96,271.47 178.25,271.47 178.53,271.47 178.82,271.48 179.11,271.48 179.17,271.48 179.4,271.48 179.69,271.48 179.98,271.48 180.26,271.48 180.55,271.48 180.84,271.48 181.13,271.49 181.42,271.49 181.71,271.49 182,271.49 183.24,271.49 187.31,271.5" fill="none" stroke="#3434ff" stroke-width="1.0"/>
<polyline points="54.55,271.05 56.6,271.05 58.65,271.05 60.7,271.05 62.76,271.05 64.81,271.05 66.86,271.04 68.91,271.04 70.96,271.04 73.01,271.04 75.07,271.03 77.12,271.03 79.17,271.02 81.22,271.01 83.27,271 85.32,270.99 87.38,270.98 89.43,270.95 91.48,270.92 93.53,270.88 95.58,270.81 97.63,270.7 99.57,270.5 99.69,270.49 99.8,270.47 100.03,270.44 100.26,270.4 100.5,270.36 100.73,270.31 100.96,270.26 101.19,270.21 101.42,270.15 101.66,270.08 101.74,270.05 101.89,270.01 102.12,269.92 102.35,269.83 102.58,269.73 102.81,269.61 103.05,269.48 103.28,269.34 103.51,269.17 103.74,268.98 103.79,268.94 103.97,268.76 104.21,268.51 104.44,268.23 104.67,267.89 104.9,267.51 105.13,267.07 105.36,266.55 105.6,265.96 105.83,265.29 105.84,265.25 106.06,264.54 106.29,263.71 106.52,262.85 106.75,262.01 106.99,261.27 107.22,260.73 107.45,260.48 107.68,260.54 107.89,260.77 107.91,260.8 108.15,261.24 108.38,261.81 108.61,262.46 108.84,263.13 109.07,263.79 109.3,264.42 109.54,265.01 109.77,265.55 109.94,265.92 110,266.04 110.23,266.47 110.46,266.86 110.7,267.21 110.93,267.53 111.16,267.81 111.39,268.06 111.62,268.28 111.85,268.48 112,268.6 112.09,268.66 112.32,268.83 112.55,268.98 112.78,269.11 113.01,269.24 113.25,269.35 113.48,269.45 113.71,269.55 113.94,269.63 114.05,269.67 114.17,269.71 114.4,269.79 114.64,269.86 114.87,269.92 115.1,269.98 115.33,270.03 115.56,270.08 115.8,270.13 116.03,270.17 116.1,270.18 116.26,270.21 116.49,270.25 116.72,270.29 116.95,270.32 117.19,270.35 117.42,270.38 117.65,270.41 117.88,270.44 118.11,270.46 118.15,270.46 118.34,270.48 118.58,270.51 118.81,270.53 119.04,270.55 119.27,270.56 119.5,270.58 119.74,270.6 119.97,270.62 120.2,270.63 120.2,270.63 122.25,270.74 124.31,270.81 126.36,270.86 128.41,270.9 130.46,270.93 132.51,270.95 134.56,270.97" fill="none" stroke="#84281f" stroke-width="0.85" stroke-opacity="0.83"/>
<polyline points="26.25,274.5 30.35,274.5 34.44,274.5 38.54,274.5 42.64,274.5 46.73,274.5 50.83,274.5 54.93,274.5 59.03,274.5 63.12,274.5 67.22,274.5 71.32,274.5 75.42,274.5 79.51,274.5 83.61,274.5 87.71,274.5 91.8,274.5 95.9,274.5 100,274.5 104.1,274.5 108.19,274.5 112.29,274.5 116.39,274.5 120.48,274.5 124.58,274.5 128.68,274.5 132.78,274.49 136.87,274.49 140.97,274.48 145.07,274.47 149.16,274.45 153.26,274.36 153.75,274.34 154.04,274.33 154.33,274.31 154.62,274.29 154.91,274.27 155.2,274.24 155.49,274.21 155.78,274.17 156.07,274.12 156.37,274.07 156.66,274 156.95,273.92 157.24,273.82 157.36,273.77 157.53,273.69 157.82,273.51 158.11,273.29 158.4,272.99 158.69,272.6 158.98,272.07 159.27,271.4 159.56,270.63 159.85,269.94 160.14,269.65 160.43,269.77 160.72,270.1 161.01,270.55 161.3,271.04 161.46,271.29 161.59,271.51 161.89,271.93 162.18,272.29 162.47,272.6 162.76,272.86 163.05,273.07 163.34,273.25 163.63,273.4 163.92,273.52 164.21,273.63 164.5,273.72 164.79,273.8 165.08,273.87 165.37,273.93 165.55,273.96 165.66,273.98 165.95,274.02 166.24,274.06 166.53,274.1 166.82,274.13 167.11,274.16 167.41,274.18 167.7,274.2 167.99,274.22 168.28,274.24 168.57,274.26 168.86,274.27 169.15,274.29 169.44,274.3 169.65,274.31 169.73,274.31 170.02,274.32 170.31,274.33 170.6,274.34 170.89,274.35 171.18,274.36 171.47,274.36 171.76,274.37 172.05,274.38 172.34,274.38 172.63,274.39 172.93,274.39 173.22,274.4 173.51,274.4 173.75,274.41 173.8,274.41 174.09,274.41 174.38,274.41 174.67,274.42 174.96,274.42 175.25,274.42 175.54,274.43 175.83,274.43 176.12,274.43 176.41,274.43 176.7,274.44 176.99,274.44 177.28,274.44 177.57,274.44 177.84,274.44 177.86,274.44 178.15,274.45 178.45,274.45 178.74,274.45 179.03,274.45 179.32,274.45 179.61,274.45 179.9,274.46 180.19,274.46 180.48,274.46 180.77,274.46 181.06,274.46 181.35,274.46 181.64,274.46 181.93,274.46 181.94,274.46 182.22,274.46 182.51,274.47 186.04,274.48" fill="none" stroke="#3434ff" stroke-width="1.0"/>
<polyline points="52.87,274.05 54.94,274.05 57.01,274.04 59.08,274.04 61.15,274.04 63.22,274.04 65.29,274.04 67.36,274.04 69.43,274.03 71.5,274.03 73.57,274.03 75.64,274.02 77.71,274.02 79.78,274.01 81.85,274.01 83.92,274 85.99,273.99 88.06,273.97 90.13,273.95 92.2,273.92 94.27,273.87 96.34,273.8 98.41,273.68 99.69,273.56 99.93,273.53 100.16,273.5 100.39,273.46 100.48,273.45 100.63,273.42 100.86,273.38 101.09,273.34 101.33,273.29 101.56,273.24 101.79,273.18 102.03,273.11 102.26,273.04 102.49,272.96 102.55,272.94 102.73,272.87 102.96,272.77 103.19,272.65 103.43,272.52 103.66,272.38 103.89,272.21 104.13,272.02 104.36,271.8 104.59,271.55 104.62,271.52 104.83,271.27 105.06,270.93 105.29,270.55 105.53,270.12 105.76,269.62 105.99,269.05 106.23,268.42 106.46,267.75 106.69,267.05 106.69,267.05 106.93,266.37 107.16,265.79 107.39,265.37 107.63,265.17 107.86,265.22 108.1,265.43 108.33,265.79 108.56,266.25 108.76,266.7 108.8,266.77 109.03,267.32 109.26,267.87 109.5,268.4 109.73,268.89 109.96,269.35 110.2,269.76 110.43,270.13 110.66,270.47 110.83,270.69 110.9,270.77 111.13,271.04 111.36,271.28 111.6,271.49 111.83,271.68 112.06,271.86 112.3,272.02 112.53,272.16 112.76,272.29 112.9,272.36 113,272.4 113.23,272.51 113.46,272.6 113.7,272.69 113.93,272.77 114.16,272.85 114.4,272.92 114.63,272.98 114.86,273.04 114.97,273.06 115.1,273.09 115.33,273.14 115.56,273.19 115.8,273.23 116.03,273.27 116.26,273.31 116.5,273.34 116.73,273.37 116.96,273.4 117.04,273.41 117.2,273.43 117.43,273.46 117.66,273.48 117.9,273.51 118.13,273.53 118.36,273.55 118.6,273.57 118.83,273.59 119.06,273.61 119.11,273.61 119.3,273.62 119.53,273.64 119.77,273.65 120,273.67 120.23,273.68 120.47,273.69 121.18,273.73 123.26,273.81 125.33,273.86 127.4,273.9 129.47,273.93 131.54,273.95 133.61,273.96" fill="none" stroke="#832920" stroke-width="0.85" stroke-opacity="0.83"/>
<polyline points="23.85,277.52 27.98,277.52 32.1,277.52 36.23,277.52 40.35,277.52 44.48,277.52 48.6,277.52 52.73,277.52 56.86,277.52 60.98,277.52 65.11,277.52 69.23,277.52 73.36,277.52 77.48,277.52 81.61,277.52 85.74,277.52 89.86,277.52 93.99,277.52 98.11,277.52 102.24,277.52 106.36,277.52 110.49,277.52 114.61,277.52 118.74,277.52 122.87,277.51 126.99,277.51 131.12,277.51 135.24,277.51 139.37,277.5 143.49,277.5 147.62,277.48 151.75,277.43 154.11,277.36 154.41,277.34 154.7,277.32 154.99,277.3 155.28,277.28 155.58,277.25 155.87,277.22 155.87,277.22 156.16,277.18 156.45,277.14 156.75,277.08 157.04,277.02 157.33,276.93 157.62,276.83 157.92,276.69 158.21,276.52 158.5,276.3 158.79,276 159.09,275.6 159.38,275.08 159.67,274.41 159.96,273.65 160,273.56 160.26,272.98 160.55,272.7 160.84,272.82 161.13,273.14 161.43,273.58 161.72,274.07 162.01,274.54 162.3,274.96 162.6,275.32 162.89,275.63 163.18,275.89 163.47,276.1 163.77,276.28 164.06,276.43 164.12,276.46 164.35,276.55 164.64,276.66 164.94,276.75 165.23,276.83 165.52,276.9 165.81,276.96 166.11,277.01 166.4,277.05 166.69,277.09 166.98,277.12 167.28,277.15 167.57,277.18 167.86,277.21 168.15,277.23 168.25,277.23 168.45,277.25 168.74,277.27 169.03,277.28 169.33,277.3 169.62,277.31 169.91,277.32 170.2,277.33 170.5,277.34 170.79,277.35 171.08,277.36 171.37,277.37 171.67,277.38 171.96,277.38 172.25,277.39 172.37,277.39 172.54,277.4 172.84,277.4 173.13,277.41 173.42,277.41 173.71,277.42 174.01,277.42 174.3,277.43 174.59,277.43 174.88,277.43 175.18,277.44 175.47,277.44 175.76,277.44 176.05,277.45 176.35,277.45 176.5,277.45 176.64,277.45 176.93,277.45 177.22,277.46 177.52,277.46 177.81,277.46 178.1,277.46 178.39,277.46 178.69,277.47 178.98,277.47 179.27,277.47 179.56,277.47 179.86,277.47 180.15,277.47 180.44,277.47 180.63,277.47 180.73,277.48 181.03,277.48 181.32,277.48 181.61,277.48 181.9,277.48 182.2,277.48 182.49,277.48 182.78,277.48 183.07,277.48 184.75,277.49" fill="none" stroke="#3434ff" stroke-width="1.0"/>
<polyline points="51.16,277.08 53.25,277.08 55.34,277.08 57.43,277.08 59.52,277.08 61.61,277.08 63.7,277.07 65.78,277.07 67.87,277.07 69.96,277.07 72.05,277.07 74.14,277.06 76.23,277.06 78.32,277.06 80.41,277.05 82.5,277.04 84.59,277.04 86.68,277.02 88.76,277.01 90.85,276.99 92.94,276.96 95.03,276.91 97.12,276.84 99.21,276.71 99.78,276.66 100.02,276.64 100.25,276.61 100.49,276.58 100.72,276.55 100.96,276.51 101.19,276.48 101.3,276.46 101.43,276.44 101.66,276.39 101.9,276.34 102.13,276.28 102.37,276.22 102.6,276.15 102.84,276.08 103.07,275.99 103.31,275.89 103.39,275.86 103.54,275.79 103.78,275.66 104.01,275.52 104.25,275.36 104.48,275.18 104.72,274.97 104.95,274.73 105.19,274.46 105.42,274.15 105.48,274.07 105.66,273.79 105.89,273.39 106.13,272.93 106.36,272.43 106.6,271.9 106.83,271.36 107.07,270.84 107.3,270.39 107.54,270.08 107.57,270.05 107.77,269.93 108.01,269.97 108.24,270.13 108.48,270.41 108.71,270.76 108.95,271.17 109.18,271.61 109.42,272.04 109.65,272.47 109.66,272.47 109.89,272.86 110.12,273.23 110.36,273.57 110.59,273.87 110.83,274.14 111.06,274.39 111.3,274.61 111.53,274.81 111.74,274.97 111.77,274.99 112,275.15 112.24,275.29 112.47,275.42 112.71,275.54 112.94,275.64 113.18,275.74 113.41,275.83 113.65,275.91 113.83,275.96 113.88,275.98 114.12,276.05 114.35,276.11 114.59,276.16 114.82,276.21 115.06,276.26 115.29,276.31 115.53,276.35 115.76,276.38 115.92,276.41 116,276.42 116.23,276.45 116.47,276.48 116.7,276.51 116.94,276.54 117.17,276.56 117.41,276.58 117.64,276.61 117.88,276.63 118.01,276.64 118.11,276.65 118.35,276.66 118.58,276.68 118.82,276.7 119.05,276.71 119.29,276.73 119.52,276.74 119.76,276.75 119.99,276.76 120.1,276.77 120.23,276.78 120.46,276.79 120.7,276.8 122.19,276.85 124.28,276.91 126.37,276.94 128.46,276.97 130.55,276.99 132.64,277.01" fill="none" stroke="#822a20" stroke-width="0.85" stroke-opacity="0.82"/>
<polyline points="21.42,280.58 25.57,280.58 29.73,280.58 33.88,280.58 38.03,280.58 42.19,280.58 46.34,280.58 50.5,280.58 54.65,280.58 58.81,280.58 62.96,280.58 67.12,280.58 71.27,280.58 75.43,280.58 79.58,280.58 83.74,280.58 87.89,280.58 92.04,280.58 96.2,280.58 100.35,280.58 104.51,280.58 108.66,280.58 112.82,280.58 116.97,280.58 121.13,280.57 125.28,280.57 129.44,280.57 133.59,280.57 137.75,280.57 141.9,280.56 146.05,280.55 150.21,280.52 154.36,280.42 154.42,280.41 154.71,280.4 155.01,280.38 155.3,280.36 155.6,280.34 155.89,280.31 156.19,280.28 156.48,280.24 156.78,280.19 157.07,280.14 157.37,280.07 157.66,279.99 157.95,279.88 158.25,279.75 158.52,279.59 158.54,279.57 158.84,279.35 159.13,279.05 159.43,278.65 159.72,278.13 160.02,277.47 160.31,276.72 160.61,276.06 160.9,275.79 161.2,275.91 161.49,276.22 161.78,276.66 162.08,277.15 162.37,277.61 162.67,278.03 162.67,278.04 162.96,278.39 163.26,278.7 163.55,278.96 163.85,279.17 164.14,279.35 164.44,279.5 164.73,279.62 165.03,279.73 165.32,279.82 165.61,279.9 165.91,279.97 166.2,280.02 166.5,280.07 166.79,280.12 166.83,280.12 167.09,280.16 167.38,280.19 167.68,280.22 167.97,280.25 168.27,280.27 168.56,280.29 168.85,280.31 169.15,280.33 169.44,280.35 169.74,280.36 170.03,280.37 170.33,280.39 170.62,280.4 170.92,280.41 170.98,280.41 171.21,280.42 171.51,280.42 171.8,280.43 172.1,280.44 172.39,280.45 172.68,280.45 172.98,280.46 173.27,280.46 173.57,280.47 173.86,280.47 174.16,280.48 174.45,280.48 174.75,280.49 175.04,280.49 175.14,280.49 175.34,280.49 175.63,280.5 175.93,280.5 176.22,280.5 176.51,280.51 176.81,280.51 177.1,280.51 177.4,280.51 177.69,280.52 177.99,280.52 178.28,280.52 178.58,280.52 178.87,280.52 179.17,280.53 179.29,280.53 179.46,280.53 179.75,280.53 180.05,280.53 180.34,280.53 180.64,280.53 180.93,280.53 181.23,280.54 181.52,280.54 181.82,280.54 182.11,280.54 182.41,280.54 182.7,280.54 183,280.54 183.29,280.54 183.45,280.54" fill="none" stroke="#3434ff" stroke-width="1.0"/>
<polyline points="49.43,280.16 51.54,280.16 53.65,280.15 55.76,280.15 57.86,280.15 59.97,280.15 62.08,280.15 64.19,280.15 66.3,280.15 68.4,280.15 70.51,280.14 72.62,280.14 74.73,280.14 76.84,280.13 78.95,280.13 81.05,280.12 83.16,280.12 85.27,280.11 87.38,280.1 89.49,280.08 91.6,280.06 93.7,280.02 95.81,279.97 97.92,279.88 99.7,279.75 99.94,279.73 100.03,279.72 100.17,279.7 100.41,279.68 100.65,279.65 100.88,279.61 101.12,279.58 101.36,279.54 101.59,279.49 101.83,279.45 102.07,279.39 102.14,279.38 102.3,279.33 102.54,279.27 102.78,279.2 103.01,279.11 103.25,279.02 103.49,278.92 103.72,278.8 103.96,278.67 104.2,278.52 104.24,278.49 104.43,278.35 104.67,278.16 104.91,277.93 105.14,277.68 105.38,277.39 105.62,277.07 105.85,276.7 106.09,276.29 106.33,275.84 106.35,275.79 106.56,275.37 106.8,274.9 107.04,274.45 107.27,274.07 107.51,273.8 107.75,273.68 107.98,273.71 108.22,273.85 108.46,274.09 108.46,274.09 108.69,274.4 108.93,274.76 109.17,275.15 109.4,275.54 109.64,275.91 109.88,276.27 110.12,276.61 110.35,276.91 110.57,277.17 110.59,277.19 110.83,277.44 111.06,277.67 111.3,277.88 111.54,278.06 111.77,278.22 112.01,278.37 112.25,278.5 112.48,278.62 112.68,278.72 112.72,278.73 112.96,278.83 113.19,278.92 113.43,279 113.67,279.08 113.9,279.14 114.14,279.2 114.38,279.26 114.61,279.31 114.79,279.35 114.85,279.36 115.09,279.41 115.32,279.45 115.56,279.48 115.8,279.52 116.03,279.55 116.27,279.58 116.51,279.61 116.74,279.63 116.89,279.65 116.98,279.66 117.22,279.68 117.45,279.7 117.69,279.72 117.93,279.74 118.16,279.76 118.4,279.78 118.64,279.79 118.87,279.81 119,279.81 119.11,279.82 119.35,279.83 119.58,279.84 119.82,279.86 120.06,279.87 120.29,279.88 120.53,279.89 120.77,279.9 121.11,279.91 123.22,279.97 125.33,280.01 127.44,280.04 129.54,280.07 131.65,280.08" fill="none" stroke="#802b20" stroke-width="0.85" stroke-opacity="0.82"/>
<polyline points="18.95,283.68 23.13,283.68 27.32,283.68 31.5,283.68 35.68,283.68 39.87,283.68 44.05,283.68 48.24,283.68 52.42,283.68 56.6,283.68 60.79,283.68 64.97,283.68 69.16,283.68 73.34,283.68 77.52,283.68 81.71,283.68 85.89,283.68 90.08,283.68 94.26,283.68 98.44,283.68 102.63,283.68 106.81,283.68 111,283.68 115.18,283.68 119.36,283.68 123.55,283.68 127.73,283.68 131.92,283.67 136.1,283.67 140.28,283.66 144.47,283.66 148.65,283.63 152.83,283.58 154.57,283.52 154.87,283.5 155.16,283.48 155.46,283.46 155.76,283.44 156.05,283.41 156.35,283.38 156.65,283.34 156.94,283.29 157.02,283.28 157.24,283.24 157.54,283.17 157.83,283.08 158.13,282.98 158.43,282.84 158.72,282.67 159.02,282.44 159.32,282.14 159.61,281.74 159.91,281.22 160.21,280.57 160.5,279.83 160.8,279.19 161.1,278.93 161.2,278.94 161.39,279.04 161.69,279.35 161.99,279.79 162.28,280.27 162.58,280.73 162.88,281.15 163.17,281.51 163.47,281.81 163.77,282.07 164.06,282.28 164.36,282.46 164.66,282.61 164.95,282.74 165.25,282.84 165.39,282.89 165.55,282.93 165.84,283.01 166.14,283.08 166.44,283.13 166.73,283.18 167.03,283.23 167.33,283.26 167.62,283.3 167.92,283.33 168.22,283.36 168.51,283.38 168.81,283.4 169.11,283.42 169.4,283.44 169.57,283.45 169.7,283.45 170,283.47 170.29,283.48 170.59,283.49 170.89,283.5 171.18,283.51 171.48,283.52 171.78,283.53 172.07,283.54 172.37,283.55 172.67,283.55 172.96,283.56 173.26,283.56 173.56,283.57 173.75,283.57 173.85,283.57 174.15,283.58 174.45,283.58 174.74,283.59 175.04,283.59 175.34,283.6 175.63,283.6 175.93,283.6 176.23,283.6 176.52,283.61 176.82,283.61 177.12,283.61 177.41,283.62 177.71,283.62 177.94,283.62 178.01,283.62 178.3,283.62 178.6,283.62 178.9,283.63 179.19,283.63 179.49,283.63 179.79,283.63 180.08,283.63 180.38,283.63 180.68,283.64 180.97,283.64 181.27,283.64 181.57,283.64 181.86,283.64 182.12,283.64" fill="none" stroke="#3434ff" stroke-width="1.0"/>
<polyline points="47.68,283.27 49.8,283.27 51.93,283.27 54.06,283.27 56.19,283.27 58.31,283.27 60.44,283.27 62.57,283.27 64.7,283.27 66.82,283.27 68.95,283.26 71.08,283.26 73.21,283.26 75.34,283.26 77.46,283.25 79.59,283.25 81.72,283.24 83.85,283.23 85.97,283.22 88.1,283.21 90.23,283.19 92.36,283.16 94.48,283.12 96.61,283.06 98.74,282.94 99.33,282.89 99.57,282.87 99.81,282.85 100.05,282.82 100.28,282.79 100.52,282.76 100.76,282.73 100.87,282.71 101,282.69 101.24,282.65 101.48,282.6 101.71,282.55 101.95,282.5 102.19,282.44 102.43,282.37 102.67,282.29 102.91,282.21 102.99,282.17 103.14,282.11 103.38,282 103.62,281.88 103.86,281.74 104.1,281.58 104.34,281.4 104.57,281.2 104.81,280.97 105.05,280.71 105.12,280.62 105.29,280.41 105.53,280.08 105.77,279.72 106,279.33 106.24,278.92 106.48,278.51 106.72,278.12 106.96,277.8 107.2,277.58 107.25,277.54 107.43,277.47 107.67,277.5 107.91,277.62 108.15,277.83 108.39,278.1 108.63,278.41 108.86,278.75 109.1,279.09 109.34,279.43 109.38,279.48 109.58,279.75 109.82,280.04 110.06,280.32 110.29,280.57 110.53,280.8 110.77,281.01 111.01,281.19 111.25,281.36 111.49,281.51 111.51,281.52 111.72,281.65 111.96,281.77 112.2,281.88 112.44,281.98 112.68,282.07 112.92,282.15 113.15,282.22 113.39,282.29 113.63,282.35 113.63,282.35 113.87,282.41 114.11,282.46 114.35,282.51 114.58,282.55 114.82,282.59 115.06,282.63 115.3,282.66 115.54,282.7 115.76,282.72 115.78,282.73 116.01,282.75 116.25,282.78 116.49,282.8 116.73,282.82 116.97,282.84 117.21,282.86 117.44,282.88 117.68,282.9 117.89,282.91 117.92,282.91 118.16,282.93 118.4,282.94 118.64,282.96 118.87,282.97 119.11,282.98 119.35,282.99 119.59,283 119.83,283.01 120.02,283.02 120.07,283.02 120.3,283.03 120.54,283.04 122.14,283.09 124.27,283.13 126.4,283.16 128.53,283.19 130.65,283.2" fill="none" stroke="#7f2c21" stroke-width="0.85" stroke-opacity="0.82"/>
<polyline points="16.45,286.83 20.66,286.83 24.87,286.83 29.09,286.83 33.3,286.83 37.51,286.83 41.73,286.83 45.94,286.83 50.16,286.83 54.37,286.83 58.58,286.83 62.8,286.83 67.01,286.83 71.22,286.83 75.44,286.83 79.65,286.83 83.87,286.83 88.08,286.83 92.29,286.83 96.51,286.83 100.72,286.83 104.93,286.83 109.15,286.83 113.36,286.83 117.57,286.82 121.79,286.82 126,286.82 130.22,286.82 134.43,286.82 138.64,286.81 142.86,286.81 147.07,286.79 151.28,286.75 154.46,286.66 154.76,286.64 155.06,286.63 155.36,286.61 155.5,286.6 155.66,286.58 155.95,286.55 156.25,286.52 156.55,286.48 156.85,286.44 157.15,286.38 157.45,286.31 157.75,286.22 158.05,286.12 158.34,285.98 158.64,285.81 158.94,285.58 159.24,285.28 159.54,284.88 159.71,284.6 159.84,284.36 160.14,283.71 160.44,282.99 160.73,282.36 161.03,282.11 161.33,282.22 161.63,282.53 161.93,282.95 162.23,283.43 162.53,283.89 162.83,284.3 163.12,284.66 163.42,284.97 163.72,285.22 163.93,285.37 164.02,285.44 164.32,285.62 164.62,285.76 164.92,285.89 165.22,286 165.52,286.09 165.81,286.16 166.11,286.23 166.41,286.28 166.71,286.33 167.01,286.38 167.31,286.42 167.61,286.45 167.91,286.48 168.14,286.5 168.2,286.51 168.5,286.53 168.8,286.55 169.1,286.57 169.4,286.59 169.7,286.6 170,286.62 170.3,286.63 170.59,286.64 170.89,286.65 171.19,286.66 171.49,286.67 171.79,286.68 172.09,286.69 172.35,286.69 172.39,286.69 172.69,286.7 172.98,286.71 173.28,286.71 173.58,286.72 173.88,286.72 174.18,286.73 174.48,286.73 174.78,286.74 175.08,286.74 175.38,286.74 175.67,286.75 175.97,286.75 176.27,286.75 176.57,286.76 176.57,286.76 176.87,286.76 177.17,286.76 177.47,286.76 177.77,286.77 178.06,286.77 178.36,286.77 178.66,286.77 178.96,286.77 179.26,286.78 179.56,286.78 179.86,286.78 180.16,286.78 180.45,286.78 180.75,286.78 180.78,286.78" fill="none" stroke="#3434ff" stroke-width="1.0"/>
<polyline points="45.9,286.44 48.04,286.44 50.19,286.44 52.34,286.44 54.49,286.43 56.63,286.43 58.78,286.43 60.93,286.43 63.08,286.43 65.22,286.43 67.37,286.43 69.52,286.43 71.66,286.42 73.81,286.42 75.96,286.42 78.11,286.41 80.25,286.41 82.4,286.4 84.55,286.39 86.7,286.38 88.84,286.37 90.99,286.34 93.14,286.31 95.28,286.26 97.43,286.17 98.83,286.08 99.07,286.06 99.31,286.04 99.55,286.01 99.58,286.01 99.79,285.99 100.03,285.96 100.27,285.93 100.51,285.89 100.75,285.85 100.99,285.81 101.23,285.77 101.47,285.72 101.71,285.66 101.73,285.66 101.95,285.6 102.19,285.53 102.43,285.45 102.67,285.36 102.91,285.26 103.15,285.15 103.39,285.02 103.63,284.88 103.87,284.72 103.88,284.72 104.12,284.53 104.36,284.33 104.6,284.09 104.84,283.83 105.08,283.54 105.32,283.23 105.56,282.89 105.8,282.54 106.02,282.21 106.04,282.19 106.28,281.87 106.52,281.6 106.76,281.41 107,281.33 107.24,281.35 107.48,281.45 107.72,281.62 107.96,281.85 108.17,282.09 108.2,282.12 108.44,282.41 108.68,282.71 108.92,283 109.16,283.28 109.4,283.54 109.64,283.79 109.88,284.01 110.12,284.21 110.32,284.37 110.36,284.4 110.6,284.57 110.84,284.72 111.08,284.85 111.32,284.97 111.56,285.08 111.8,285.18 112.04,285.27 112.28,285.35 112.46,285.41 112.52,285.43 112.76,285.49 113,285.55 113.24,285.61 113.48,285.66 113.72,285.71 113.96,285.75 114.2,285.79 114.44,285.83 114.61,285.85 114.68,285.86 114.92,285.89 115.16,285.92 115.4,285.95 115.64,285.97 115.88,285.99 116.12,286.01 116.36,286.03 116.6,286.05 116.76,286.06 116.84,286.07 117.08,286.09 117.32,286.1 117.56,286.12 117.8,286.13 118.04,286.14 118.28,286.15 118.52,286.17 118.76,286.18 118.91,286.18 119,286.19 119.24,286.2 119.48,286.2 119.72,286.21 119.96,286.22 120.2,286.23 121.05,286.25 123.2,286.3 125.35,286.33 127.49,286.35 129.64,286.37" fill="none" stroke="#7e2d21" stroke-width="0.85" stroke-opacity="0.82"/>
<polyline points="13.91,290.02 18.15,290.02 22.4,290.02 26.64,290.02 30.88,290.02 35.13,290.02 39.37,290.02 43.62,290.02 47.86,290.02 52.1,290.02 56.35,290.02 60.59,290.02 64.83,290.02 69.08,290.02 73.32,290.02 77.57,290.02 81.81,290.02 86.05,290.02 90.3,290.02 94.54,290.02 98.78,290.02 103.03,290.02 107.27,290.02 111.52,290.02 115.76,290.02 120,290.02 124.25,290.01 128.49,290.01 132.74,290.01 136.98,290.01 141.22,290 145.47,289.99 149.71,289.96 153.95,289.86 154.17,289.85 154.47,289.83 154.77,289.82 155.07,289.8 155.37,289.77 155.68,289.74 155.98,289.71 156.28,289.67 156.58,289.62 156.88,289.57 157.18,289.5 157.48,289.41 157.78,289.3 158.08,289.17 158.2,289.1 158.38,288.99 158.69,288.76 158.99,288.46 159.29,288.06 159.59,287.55 159.89,286.9 160.19,286.19 160.49,285.58 160.79,285.33 161.09,285.44 161.39,285.74 161.69,286.17 162,286.64 162.3,287.09 162.44,287.3 162.6,287.5 162.9,287.86 163.2,288.17 163.5,288.42 163.8,288.64 164.1,288.81 164.4,288.96 164.7,289.09 165,289.19 165.31,289.28 165.61,289.36 165.91,289.42 166.21,289.48 166.51,289.53 166.69,289.56 166.81,289.57 167.11,289.61 167.41,289.64 167.71,289.67 168.01,289.7 168.31,289.72 168.62,289.74 168.92,289.76 169.22,289.78 169.52,289.8 169.82,289.81 170.12,289.82 170.42,289.83 170.72,289.85 170.93,289.85 171.02,289.85 171.32,289.86 171.62,289.87 171.93,289.88 172.23,289.89 172.53,289.89 172.83,289.9 173.13,289.91 173.43,289.91 173.73,289.92 174.03,289.92 174.33,289.92 174.63,289.93 174.94,289.93 175.17,289.94 175.24,289.94 175.54,289.94 175.84,289.94 176.14,289.95 176.44,289.95 176.74,289.95 177.04,289.95 177.34,289.96 177.64,289.96 177.94,289.96 178.25,289.96 178.55,289.96 178.85,289.97 179.15,289.97 179.42,289.97" fill="none" stroke="#3434ff" stroke-width="1.0"/>
<polyline points="44.09,289.65 46.26,289.65 48.43,289.64 50.59,289.64 52.76,289.64 54.93,289.64 57.1,289.64 59.26,289.64 61.43,289.64 63.6,289.64 65.76,289.64 67.93,289.64 70.1,289.63 72.27,289.63 74.43,289.63 76.6,289.62 78.77,289.62 80.94,289.61 83.1,289.61 85.27,289.6 87.44,289.59 89.6,289.57 91.77,289.54 93.94,289.5 96.11,289.44 98.24,289.32 98.27,289.32 98.48,289.3 98.72,289.28 98.96,289.26 99.2,289.23 99.44,289.21 99.69,289.18 99.93,289.15 100.17,289.11 100.41,289.08 100.44,289.07 100.65,289.04 100.89,288.99 101.14,288.94 101.38,288.88 101.62,288.82 101.86,288.75 102.1,288.67 102.34,288.58 102.59,288.48 102.61,288.47 102.83,288.37 103.07,288.24 103.31,288.1 103.55,287.94 103.8,287.76 104.04,287.55 104.28,287.33 104.52,287.08 104.76,286.81 104.78,286.79 105,286.52 105.25,286.23 105.49,285.94 105.73,285.67 105.97,285.45 106.21,285.3 106.45,285.23 106.7,285.25 106.94,285.34 106.94,285.34 107.18,285.48 107.42,285.67 107.66,285.9 107.91,286.14 108.15,286.39 108.39,286.64 108.63,286.88 108.87,287.11 109.11,287.31 109.11,287.32 109.36,287.51 109.6,287.69 109.84,287.85 110.08,287.99 110.32,288.13 110.56,288.25 110.81,288.35 111.05,288.45 111.28,288.53 111.29,288.54 111.53,288.62 111.77,288.69 112.02,288.75 112.26,288.81 112.5,288.87 112.74,288.92 112.98,288.96 113.22,289 113.44,289.04 113.47,289.04 113.71,289.07 113.95,289.11 114.19,289.14 114.43,289.16 114.67,289.19 114.92,289.21 115.16,289.23 115.4,289.25 115.61,289.27 115.64,289.27 115.88,289.29 116.13,289.31 116.37,289.32 116.61,289.34 116.85,289.35 117.09,289.36 117.33,289.37 117.58,289.39 117.78,289.39 117.82,289.4 118.06,289.41 118.3,289.42 118.54,289.42 118.78,289.43 119.03,289.44 119.27,289.45 119.51,289.46 119.75,289.46 119.95,289.47 122.11,289.51 124.28,289.54 126.45,289.57 128.61,289.58" fill="none" stroke="#7d2e21" stroke-width="0.85" stroke-opacity="0.81"/>
<polyline points="11.33,293.26 15.61,293.26 19.88,293.26 24.16,293.26 28.43,293.26 32.71,293.26 36.98,293.26 41.25,293.26 45.53,293.26 49.8,293.26 54.08,293.26 58.35,293.26 62.63,293.26 66.9,293.26 71.18,293.26 75.45,293.26 79.72,293.26 84,293.26 88.27,293.26 92.55,293.26 96.82,293.26 101.1,293.26 105.37,293.26 109.65,293.26 113.92,293.25 118.19,293.25 122.47,293.25 126.74,293.25 131.02,293.25 135.29,293.25 139.57,293.24 143.84,293.23 148.12,293.21 152.39,293.14 153.78,293.09 154.09,293.07 154.39,293.05 154.69,293.03 155,293.01 155.3,292.98 155.6,292.95 155.91,292.91 156.21,292.86 156.51,292.8 156.66,292.77 156.81,292.73 157.12,292.64 157.42,292.53 157.72,292.4 158.03,292.22 158.33,291.99 158.63,291.69 158.94,291.29 159.24,290.78 159.54,290.14 159.85,289.44 160.15,288.85 160.45,288.6 160.76,288.71 160.94,288.87 161.06,289.01 161.36,289.43 161.66,289.89 161.97,290.34 162.27,290.75 162.57,291.11 162.88,291.41 163.18,291.67 163.48,291.88 163.79,292.05 164.09,292.2 164.39,292.33 164.7,292.43 165,292.52 165.21,292.58 165.3,292.6 165.6,292.66 165.91,292.72 166.21,292.77 166.51,292.81 166.82,292.85 167.12,292.88 167.42,292.91 167.73,292.94 168.03,292.96 168.33,292.98 168.64,293 168.94,293.02 169.24,293.03 169.49,293.05 169.55,293.05 169.85,293.06 170.15,293.07 170.45,293.08 170.76,293.09 171.06,293.1 171.36,293.11 171.67,293.12 171.97,293.13 172.27,293.13 172.58,293.14 172.88,293.14 173.18,293.15 173.49,293.15 173.76,293.16 173.79,293.16 174.09,293.16 174.39,293.17 174.7,293.17 175,293.17 175.3,293.18 175.61,293.18 175.91,293.18 176.21,293.19 176.52,293.19 176.82,293.19 177.12,293.19 177.43,293.2 177.73,293.2 178.03,293.2 178.04,293.2" fill="none" stroke="#3434ff" stroke-width="1.0"/>
<polyline points="42.26,292.9 44.45,292.9 46.64,292.9 48.82,292.9 51.01,292.9 53.2,292.9 55.39,292.9 57.57,292.89 59.76,292.89 61.95,292.89 64.14,292.89 66.32,292.89 68.51,292.89 70.7,292.89 72.89,292.88 75.07,292.88 77.26,292.87 79.45,292.87 81.64,292.86 83.82,292.85 86.01,292.84 88.2,292.82 90.39,292.8 92.57,292.76 94.76,292.71 96.95,292.6 97.46,292.57 97.7,292.55 97.95,292.53 98.19,292.51 98.43,292.48 98.68,292.45 98.92,292.43 99.14,292.4 99.17,292.39 99.41,292.36 99.65,292.32 99.9,292.28 100.14,292.23 100.38,292.18 100.63,292.13 100.87,292.06 101.11,291.99 101.32,291.92 101.36,291.91 101.6,291.82 101.84,291.72 102.09,291.61 102.33,291.49 102.57,291.35 102.82,291.19 103.06,291.01 103.3,290.81 103.51,290.63 103.55,290.6 103.79,290.36 104.04,290.1 104.28,289.83 104.52,289.55 104.77,289.29 105.01,289.04 105.25,288.84 105.5,288.7 105.7,288.65 105.74,288.64 105.98,288.66 106.23,288.74 106.47,288.87 106.71,289.05 106.96,289.26 107.2,289.49 107.44,289.72 107.69,289.96 107.89,290.15 107.93,290.19 108.17,290.41 108.42,290.61 108.66,290.8 108.91,290.97 109.15,291.13 109.39,291.27 109.64,291.4 109.88,291.52 110.07,291.6 110.12,291.62 110.37,291.72 110.61,291.8 110.85,291.88 111.1,291.95 111.34,292.02 111.58,292.08 111.83,292.13 112.07,292.18 112.26,292.21 112.31,292.22 112.56,292.26 112.8,292.3 113.04,292.33 113.29,292.37 113.53,292.4 113.78,292.42 114.02,292.45 114.26,292.47 114.45,292.49 114.51,292.49 114.75,292.51 114.99,292.53 115.24,292.55 115.48,292.56 115.72,292.58 115.97,292.59 116.21,292.61 116.45,292.62 116.64,292.63 116.7,292.63 116.94,292.64 117.18,292.65 117.43,292.66 117.67,292.67 117.91,292.68 118.16,292.69 118.4,292.7 118.65,292.7 118.82,292.71 118.89,292.71 119.13,292.72 121.01,292.76 123.2,292.79 125.39,292.82 127.57,292.83" fill="none" stroke="#7b2f22" stroke-width="0.85" stroke-opacity="0.81"/>
<polyline points="8.72,296.54 13.03,296.54 17.33,296.54 21.64,296.54 25.94,296.54 30.25,296.54 34.55,296.54 38.86,296.54 43.16,296.54 47.47,296.54 51.78,296.54 56.08,296.54 60.39,296.54 64.69,296.54 69,296.54 73.3,296.54 77.61,296.54 81.91,296.54 86.22,296.54 90.53,296.54 94.83,296.54 99.14,296.54 103.44,296.54 107.75,296.54 112.05,296.54 116.36,296.54 120.66,296.54 124.97,296.54 129.27,296.53 133.58,296.53 137.89,296.53 142.19,296.52 146.5,296.5 150.8,296.45 153.27,296.37 153.58,296.35 153.88,296.34 154.19,296.31 154.49,296.29 154.8,296.26 155.1,296.23 155.11,296.23 155.41,296.19 155.72,296.14 156.02,296.08 156.33,296.01 156.63,295.92 156.94,295.81 157.24,295.68 157.55,295.5 157.85,295.27 158.16,294.97 158.46,294.57 158.77,294.06 159.07,293.43 159.38,292.74 159.41,292.67 159.68,292.16 159.99,291.92 160.29,292.03 160.6,292.32 160.91,292.73 161.21,293.19 161.52,293.63 161.82,294.04 162.13,294.4 162.43,294.7 162.74,294.95 163.04,295.16 163.35,295.34 163.65,295.49 163.72,295.52 163.96,295.61 164.26,295.72 164.57,295.81 164.87,295.88 165.18,295.95 165.48,296.01 165.79,296.06 166.1,296.1 166.4,296.14 166.71,296.17 167.01,296.2 167.32,296.22 167.62,296.25 167.93,296.27 168.02,296.28 168.23,296.29 168.54,296.3 168.84,296.32 169.15,296.33 169.45,296.35 169.76,296.36 170.06,296.37 170.37,296.38 170.67,296.39 170.98,296.4 171.29,296.4 171.59,296.41 171.9,296.42 172.2,296.42 172.33,296.43 172.51,296.43 172.81,296.43 173.12,296.44 173.42,296.44 173.73,296.45 174.03,296.45 174.34,296.46 174.64,296.46 174.95,296.46 175.25,296.47 175.56,296.47 175.86,296.47 176.17,296.47 176.48,296.48 176.63,296.48" fill="none" stroke="#3434ff" stroke-width="1.0"/>
<polyline points="40.4,296.2 42.61,296.2 44.82,296.2 47.03,296.2 49.24,296.2 51.44,296.2 53.65,296.2 55.86,296.2 58.07,296.19 60.28,296.19 62.48,296.19 64.69,296.19 66.9,296.19 69.11,296.19 71.32,296.18 73.52,296.18 75.73,296.18 77.94,296.17 80.15,296.16 82.36,296.15 84.56,296.14 86.77,296.13 88.98,296.1 91.19,296.07 93.4,296.01 95.6,295.92 96.44,295.86 96.68,295.84 96.93,295.82 97.17,295.8 97.42,295.78 97.66,295.75 97.81,295.73 97.91,295.72 98.15,295.69 98.4,295.65 98.64,295.61 98.89,295.57 99.13,295.53 99.38,295.47 99.62,295.42 99.87,295.35 100.02,295.31 100.11,295.28 100.36,295.21 100.61,295.12 100.85,295.02 101.1,294.91 101.34,294.79 101.59,294.65 101.83,294.49 102.08,294.32 102.23,294.21 102.32,294.13 102.57,293.92 102.81,293.69 103.06,293.45 103.3,293.19 103.55,292.94 103.79,292.69 104.04,292.46 104.28,292.28 104.44,292.19 104.53,292.15 104.78,292.1 105.02,292.11 105.27,292.19 105.51,292.31 105.76,292.48 106,292.67 106.25,292.89 106.49,293.11 106.64,293.25 106.74,293.33 106.98,293.55 107.23,293.76 107.47,293.96 107.72,294.14 107.96,294.3 108.21,294.46 108.45,294.6 108.7,294.72 108.85,294.79 108.94,294.84 109.19,294.94 109.44,295.03 109.68,295.12 109.93,295.19 110.17,295.26 110.42,295.33 110.66,295.38 110.91,295.44 111.06,295.47 111.15,295.49 111.4,295.53 111.64,295.57 111.89,295.61 112.13,295.64 112.38,295.67 112.62,295.7 112.87,295.73 113.11,295.75 113.27,295.77 113.36,295.78 113.6,295.8 113.85,295.82 114.1,295.84 114.34,295.85 114.59,295.87 114.83,295.88 115.08,295.9 115.32,295.91 115.48,295.92 115.57,295.92 115.81,295.94 116.06,295.95 116.3,295.96 116.55,295.97 116.79,295.98 117.04,295.98 117.28,295.99 117.53,296 117.68,296 117.77,296.01 118.02,296.01 118.26,296.02 119.89,296.06 122.1,296.09 124.31,296.12 126.52,296.13" fill="none" stroke="#7a3022" stroke-width="0.85" stroke-opacity="0.81"/>
<polyline points="6.07,299.88 10.41,299.88 14.74,299.88 19.08,299.88 23.42,299.88 27.76,299.88 32.09,299.88 36.43,299.88 40.77,299.88 45.1,299.88 49.44,299.88 53.78,299.88 58.11,299.88 62.45,299.88 66.79,299.88 71.13,299.88 75.46,299.87 79.8,299.87 84.14,299.87 88.47,299.87 92.81,299.87 97.15,299.87 101.48,299.87 105.82,299.87 110.16,299.87 114.49,299.87 118.83,299.87 123.17,299.87 127.51,299.87 131.84,299.87 136.18,299.86 140.52,299.85 144.85,299.84 149.19,299.8 152.61,299.7 152.92,299.69 153.23,299.67 153.53,299.65 153.53,299.65 153.84,299.62 154.15,299.59 154.46,299.56 154.76,299.52 155.07,299.47 155.38,299.41 155.69,299.34 155.99,299.25 156.3,299.14 156.61,299 156.92,298.83 157.22,298.59 157.53,298.29 157.84,297.9 157.86,297.86 158.15,297.39 158.45,296.77 158.76,296.09 159.07,295.52 159.38,295.29 159.68,295.39 159.99,295.68 160.3,296.08 160.61,296.53 160.91,296.98 161.22,297.38 161.53,297.73 161.84,298.03 162.14,298.29 162.2,298.33 162.45,298.5 162.76,298.67 163.07,298.82 163.37,298.95 163.68,299.05 163.99,299.14 164.3,299.22 164.6,299.28 164.91,299.34 165.22,299.39 165.53,299.43 165.83,299.47 166.14,299.5 166.45,299.53 166.54,299.54 166.76,299.56 167.06,299.58 167.37,299.6 167.68,299.62 167.99,299.64 168.3,299.65 168.6,299.67 168.91,299.68 169.22,299.69 169.53,299.7 169.83,299.71 170.14,299.72 170.45,299.73 170.76,299.74 170.88,299.74 171.06,299.74 171.37,299.75 171.68,299.76 171.99,299.76 172.29,299.77 172.6,299.77 172.91,299.78 173.22,299.78 173.52,299.78 173.83,299.79 174.14,299.79 174.45,299.8 174.75,299.8 175.06,299.8 175.21,299.8" fill="none" stroke="#3434ff" stroke-width="1.0"/>
<polyline points="38.52,299.55 40.75,299.55 42.98,299.55 45.21,299.55 47.43,299.55 49.66,299.55 51.89,299.55 54.12,299.54 56.35,299.54 58.58,299.54 60.81,299.54 63.04,299.54 65.27,299.54 67.49,299.54 69.72,299.53 71.95,299.53 74.18,299.52 76.41,299.52 78.64,299.51 80.87,299.5 83.1,299.49 85.33,299.48 87.55,299.45 89.78,299.42 92.01,299.36 94.24,299.27 95.13,299.21 95.37,299.19 95.62,299.17 95.87,299.14 96.11,299.12 96.36,299.09 96.47,299.08 96.61,299.06 96.86,299.03 97.1,299 97.35,298.96 97.6,298.92 97.84,298.87 98.09,298.82 98.34,298.76 98.59,298.7 98.7,298.67 98.83,298.63 99.08,298.55 99.33,298.46 99.57,298.37 99.82,298.26 100.07,298.14 100.31,298 100.56,297.85 100.81,297.69 100.93,297.6 101.06,297.5 101.3,297.3 101.55,297.08 101.8,296.85 102.04,296.61 102.29,296.37 102.54,296.14 102.79,295.94 103.03,295.77 103.16,295.7 103.28,295.66 103.53,295.6 103.77,295.62 104.02,295.69 104.27,295.8 104.51,295.95 104.76,296.14 105.01,296.34 105.26,296.55 105.38,296.66 105.5,296.76 105.75,296.97 106,297.17 106.24,297.35 106.49,297.53 106.74,297.69 106.99,297.84 107.23,297.97 107.48,298.09 107.61,298.16 107.73,298.2 107.97,298.31 108.22,298.4 108.47,298.48 108.71,298.56 108.96,298.62 109.21,298.69 109.46,298.74 109.7,298.8 109.84,298.82 109.95,298.84 110.2,298.89 110.44,298.93 110.69,298.96 110.94,299 111.19,299.03 111.43,299.06 111.68,299.08 111.93,299.11 112.07,299.12 112.17,299.13 112.42,299.15 112.67,299.17 112.91,299.19 113.16,299.21 113.41,299.22 113.66,299.24 113.9,299.25 114.15,299.26 114.3,299.27 114.4,299.28 114.64,299.29 114.89,299.3 115.14,299.31 115.39,299.32 115.63,299.33 115.88,299.34 116.13,299.34 116.37,299.35 116.53,299.36 116.62,299.36 116.87,299.37 117.11,299.37 118.76,299.41 120.99,299.44 123.22,299.47 125.44,299.48" fill="none" stroke="#793122" stroke-width="0.85" stroke-opacity="0.80"/>
<polyline points="3.38,303.26 7.75,303.26 12.12,303.26 16.49,303.26 20.86,303.26 25.23,303.26 29.59,303.26 33.96,303.26 38.33,303.26 42.7,303.26 47.07,303.26 51.44,303.26 55.81,303.26 60.18,303.26 64.55,303.26 68.91,303.26 73.28,303.26 77.65,303.26 82.02,303.26 86.39,303.26 90.76,303.26 95.13,303.26 99.5,303.26 103.87,303.26 108.24,303.25 112.6,303.25 116.97,303.25 121.34,303.25 125.71,303.25 130.08,303.25 134.45,303.24 138.82,303.24 143.19,303.22 147.56,303.19 151.77,303.08 151.93,303.08 152.08,303.07 152.39,303.05 152.7,303.03 153.01,303 153.32,302.97 153.63,302.94 153.94,302.9 154.25,302.85 154.56,302.79 154.87,302.72 155.18,302.63 155.49,302.52 155.8,302.38 156.11,302.2 156.29,302.07 156.42,301.97 156.73,301.67 157.04,301.27 157.35,300.77 157.66,300.15 157.97,299.49 158.28,298.93 158.59,298.71 158.9,298.81 159.21,299.09 159.52,299.49 159.83,299.93 160.14,300.37 160.45,300.77 160.66,301.02 160.76,301.12 161.07,301.42 161.38,301.67 161.69,301.88 161.99,302.05 162.3,302.2 162.61,302.33 162.92,302.43 163.23,302.52 163.54,302.6 163.85,302.66 164.16,302.72 164.47,302.77 164.78,302.81 165.03,302.84 165.09,302.85 165.4,302.88 165.71,302.91 166.02,302.94 166.33,302.96 166.64,302.98 166.95,303 167.26,303.02 167.57,303.03 167.88,303.05 168.19,303.06 168.5,303.07 168.81,303.08 169.12,303.09 169.4,303.1 169.43,303.1 169.74,303.11 170.05,303.12 170.36,303.12 170.67,303.13 170.98,303.14 171.29,303.14 171.6,303.15 171.91,303.15 172.22,303.16 172.53,303.16 172.84,303.17 173.15,303.17 173.46,303.17 173.77,303.18 173.77,303.18" fill="none" stroke="#3434ff" stroke-width="1.0"/>
<polyline points="36.61,302.95 38.86,302.95 41.11,302.95 43.36,302.95 45.61,302.95 47.86,302.95 50.11,302.94 52.36,302.94 54.61,302.94 56.86,302.94 59.11,302.94 61.36,302.94 63.61,302.94 65.86,302.93 68.11,302.93 70.36,302.93 72.61,302.92 74.86,302.92 77.11,302.91 79.36,302.9 81.61,302.89 83.86,302.87 86.11,302.85 88.36,302.81 90.61,302.76 92.86,302.66 93.72,302.6 93.96,302.58 94.21,302.56 94.46,302.54 94.71,302.51 94.96,302.49 95.11,302.47 95.21,302.46 95.46,302.43 95.71,302.39 95.96,302.35 96.2,302.31 96.45,302.26 96.7,302.21 96.95,302.16 97.2,302.1 97.36,302.05 97.45,302.03 97.7,301.95 97.95,301.86 98.2,301.77 98.44,301.66 98.69,301.54 98.94,301.41 99.19,301.27 99.44,301.11 99.61,300.99 99.69,300.93 99.94,300.74 100.19,300.53 100.44,300.31 100.68,300.09 100.93,299.87 101.18,299.65 101.43,299.47 101.68,299.31 101.86,299.23 101.93,299.21 102.18,299.16 102.43,299.18 102.68,299.24 102.92,299.34 103.17,299.49 103.42,299.66 103.67,299.84 103.92,300.04 104.11,300.19 104.17,300.24 104.42,300.44 104.67,300.63 104.92,300.8 105.16,300.97 105.41,301.13 105.66,301.27 105.91,301.4 106.16,301.52 106.36,301.6 106.41,301.62 106.66,301.72 106.91,301.81 107.16,301.89 107.4,301.97 107.65,302.03 107.9,302.1 108.15,302.15 108.4,302.2 108.61,302.24 108.65,302.25 108.9,302.29 109.15,302.33 109.39,302.37 109.64,302.4 109.89,302.43 110.14,302.46 110.39,302.48 110.64,302.51 110.86,302.53 110.89,302.53 111.14,302.55 111.39,302.57 111.63,302.59 111.88,302.61 112.13,302.62 112.38,302.64 112.63,302.65 112.88,302.66 113.11,302.68 113.13,302.68 113.38,302.69 113.63,302.7 113.87,302.71 114.12,302.72 114.37,302.73 114.62,302.74 114.87,302.74 115.12,302.75 115.36,302.76 115.37,302.76 115.62,302.77 115.87,302.77 117.61,302.81 119.86,302.84 122.11,302.87 124.36,302.88" fill="none" stroke="#783223" stroke-width="0.85" stroke-opacity="0.80"/>
<line x1="1.2" y1="306" x2="172.6" y2="306" stroke="#333" stroke-width="1"/>
<line x1="172.6" y1="306" x2="217.63" y2="200.46" stroke="#333" stroke-width="1"/>
<line x1="217.63" y1="200.46" x2="217.63" y2="82.5" stroke="#333" stroke-width="1"/>
<line x1="1.2" y1="306" x2="1.2" y2="307.3" stroke="#333" stroke-width="0.9"/>
<line x1="18.34" y1="306" x2="18.34" y2="308.2" stroke="#333" stroke-width="0.9"/>
<line x1="35.48" y1="306" x2="35.48" y2="307.3" stroke="#333" stroke-width="0.9"/>
<line x1="52.62" y1="306" x2="52.62" y2="308.2" stroke="#333" stroke-width="0.9"/>
<line x1="69.76" y1="306" x2="69.76" y2="307.3" stroke="#333" stroke-width="0.9"/>
<line x1="86.9" y1="306" x2="86.9" y2="308.2" stroke="#333" stroke-width="0.9"/>
<line x1="104.04" y1="306" x2="104.04" y2="307.3" stroke="#333" stroke-width="0.9"/>
<line x1="121.18" y1="306" x2="121.18" y2="308.2" stroke="#333" stroke-width="0.9"/>
<line x1="138.32" y1="306" x2="138.32" y2="307.3" stroke="#333" stroke-width="0.9"/>
<line x1="155.46" y1="306" x2="155.46" y2="308.2" stroke="#333" stroke-width="0.9"/>
<line x1="172.6" y1="306" x2="172.6" y2="307.3" stroke="#333" stroke-width="0.9"/>
<text x="18.34" y="320.3" font-size="9.1" text-anchor="middle" fill="#222">18.4</text>
<text x="52.62" y="320.3" font-size="9.1" text-anchor="middle" fill="#222">18.6</text>
<text x="86.9" y="320.3" font-size="9.1" text-anchor="middle" fill="#222">18.8</text>
<text x="121.18" y="320.3" font-size="9.1" text-anchor="middle" fill="#222">19.0</text>
<text x="155.46" y="320.3" font-size="9.1" text-anchor="middle" fill="#222">19.2</text>
<text x="-0.87" y="0" font-size="10.7" fill="#222" textLength="84.37" lengthAdjust="spacingAndGlyphs" transform="translate(45.2 332.8)">Frequency (MHz)</text>
<line x1="217.63" y1="200.46" x2="219.83" y2="200.46" stroke="#333" stroke-width="0.9"/>
<line x1="217.63" y1="188.67" x2="218.93" y2="188.67" stroke="#333" stroke-width="0.9"/>
<line x1="217.63" y1="176.87" x2="219.83" y2="176.87" stroke="#333" stroke-width="0.9"/>
<line x1="217.63" y1="165.07" x2="218.93" y2="165.07" stroke="#333" stroke-width="0.9"/>
<line x1="217.63" y1="153.28" x2="219.83" y2="153.28" stroke="#333" stroke-width="0.9"/>
<line x1="217.63" y1="141.48" x2="218.93" y2="141.48" stroke="#333" stroke-width="0.9"/>
<line x1="217.63" y1="129.68" x2="219.83" y2="129.68" stroke="#333" stroke-width="0.9"/>
<line x1="217.63" y1="117.89" x2="218.93" y2="117.89" stroke="#333" stroke-width="0.9"/>
<line x1="217.63" y1="106.09" x2="219.83" y2="106.09" stroke="#333" stroke-width="0.9"/>
<line x1="217.63" y1="94.29" x2="218.93" y2="94.29" stroke="#333" stroke-width="0.9"/>
<line x1="217.63" y1="82.5" x2="219.83" y2="82.5" stroke="#333" stroke-width="0.9"/>
<text x="221.5" y="85.6" font-size="8.9" text-anchor="start" fill="#222">1.00</text>
<text x="221.5" y="109.19" font-size="8.9" text-anchor="start" fill="#222">0.80</text>
<text x="221.5" y="132.78" font-size="8.9" text-anchor="start" fill="#222">0.60</text>
<text x="221.5" y="156.38" font-size="8.9" text-anchor="start" fill="#222">0.40</text>
<text x="221.5" y="179.97" font-size="8.9" text-anchor="start" fill="#222">0.20</text>
<text x="-0" y="0" font-size="9.5" fill="#222" textLength="67.71" lengthAdjust="spacingAndGlyphs" transform="translate(248 174.9) rotate(-90)">Amplitude (a.u.)</text>
<line x1="173.77" y1="303.26" x2="175.07" y2="303.26" stroke="#333" stroke-width="0.9"/>
<line x1="176.63" y1="296.54" x2="177.93" y2="296.54" stroke="#333" stroke-width="0.9"/>
<line x1="179.42" y1="290.02" x2="181.62" y2="290.02" stroke="#333" stroke-width="0.9"/>
<line x1="182.12" y1="283.68" x2="183.42" y2="283.68" stroke="#333" stroke-width="0.9"/>
<line x1="184.75" y1="277.52" x2="186.05" y2="277.52" stroke="#333" stroke-width="0.9"/>
<line x1="187.31" y1="271.53" x2="188.61" y2="271.53" stroke="#333" stroke-width="0.9"/>
<line x1="189.8" y1="265.7" x2="192" y2="265.7" stroke="#333" stroke-width="0.9"/>
<line x1="192.22" y1="260.02" x2="193.52" y2="260.02" stroke="#333" stroke-width="0.9"/>
<line x1="194.58" y1="254.5" x2="195.88" y2="254.5" stroke="#333" stroke-width="0.9"/>
<line x1="196.87" y1="249.11" x2="198.17" y2="249.11" stroke="#333" stroke-width="0.9"/>
<line x1="199.11" y1="243.87" x2="201.31" y2="243.87" stroke="#333" stroke-width="0.9"/>
<line x1="201.29" y1="238.76" x2="202.59" y2="238.76" stroke="#333" stroke-width="0.9"/>
<line x1="203.41" y1="233.78" x2="204.71" y2="233.78" stroke="#333" stroke-width="0.9"/>
<line x1="205.49" y1="228.92" x2="206.79" y2="228.92" stroke="#333" stroke-width="0.9"/>
<line x1="207.51" y1="224.18" x2="209.71" y2="224.18" stroke="#333" stroke-width="0.9"/>
<line x1="209.48" y1="219.55" x2="210.78" y2="219.55" stroke="#333" stroke-width="0.9"/>
<line x1="211.41" y1="215.04" x2="212.71" y2="215.04" stroke="#333" stroke-width="0.9"/>
<line x1="213.29" y1="210.63" x2="214.59" y2="210.63" stroke="#333" stroke-width="0.9"/>
<line x1="215.13" y1="206.32" x2="217.33" y2="206.32" stroke="#333" stroke-width="0.9"/>
<line x1="216.92" y1="202.12" x2="218.22" y2="202.12" stroke="#333" stroke-width="0.9"/>
<text x="183.62" y="292.82" font-size="8.6" text-anchor="start" fill="#222">8</text>
<text x="194" y="268.5" font-size="8.6" text-anchor="start" fill="#222">16</text>
<text x="203.31" y="246.67" font-size="8.6" text-anchor="start" fill="#222">24</text>
<text x="211.71" y="226.98" font-size="8.6" text-anchor="start" fill="#222">32</text>
<text x="219.33" y="209.12" font-size="8.6" text-anchor="start" fill="#222">40</text>
<text x="0" y="0" font-size="10" fill="#222" text-anchor="middle" transform="translate(227.4 249.8) rotate(-71)">V<tspan font-size="8.6" dy="1.3">g</tspan><tspan dy="-1.3"> (V)</tspan></text>
<text x="-0.69" y="0" font-size="17.2" fill="#111" transform="translate(22.1 77.4)">a</text>
<rect x="297.5" y="16.75" width="166.0" height="133.5" fill="none" stroke="#3c3c3c" stroke-width="1"/>
<line x1="297.5" y1="150.25" x2="300" y2="150.25" stroke="#3c3c3c" stroke-width="0.9"/>
<line x1="297.5" y1="141.3" x2="299" y2="141.3" stroke="#3c3c3c" stroke-width="0.9"/>
<line x1="297.5" y1="132.35" x2="300" y2="132.35" stroke="#3c3c3c" stroke-width="0.9"/>
<line x1="297.5" y1="123.4" x2="299" y2="123.4" stroke="#3c3c3c" stroke-width="0.9"/>
<line x1="297.5" y1="114.45" x2="300" y2="114.45" stroke="#3c3c3c" stroke-width="0.9"/>
<line x1="297.5" y1="105.5" x2="299" y2="105.5" stroke="#3c3c3c" stroke-width="0.9"/>
<line x1="297.5" y1="96.55" x2="300" y2="96.55" stroke="#3c3c3c" stroke-width="0.9"/>
<line x1="297.5" y1="87.6" x2="299" y2="87.6" stroke="#3c3c3c" stroke-width="0.9"/>
<line x1="297.5" y1="78.65" x2="300" y2="78.65" stroke="#3c3c3c" stroke-width="0.9"/>
<line x1="297.5" y1="69.7" x2="299" y2="69.7" stroke="#3c3c3c" stroke-width="0.9"/>
<line x1="297.5" y1="60.75" x2="300" y2="60.75" stroke="#3c3c3c" stroke-width="0.9"/>
<line x1="297.5" y1="51.8" x2="299" y2="51.8" stroke="#3c3c3c" stroke-width="0.9"/>
<line x1="297.5" y1="42.85" x2="300" y2="42.85" stroke="#3c3c3c" stroke-width="0.9"/>
<line x1="297.5" y1="33.9" x2="299" y2="33.9" stroke="#3c3c3c" stroke-width="0.9"/>
<line x1="297.5" y1="24.95" x2="300" y2="24.95" stroke="#3c3c3c" stroke-width="0.9"/>
<line x1="297.5" y1="16" x2="299" y2="16" stroke="#3c3c3c" stroke-width="0.9"/>
<line x1="297.4" y1="150.25" x2="297.4" y2="148.75" stroke="#3c3c3c" stroke-width="0.9"/>
<line x1="312.5" y1="150.25" x2="312.5" y2="147.75" stroke="#3c3c3c" stroke-width="0.9"/>
<line x1="327.6" y1="150.25" x2="327.6" y2="148.75" stroke="#3c3c3c" stroke-width="0.9"/>
<line x1="342.7" y1="150.25" x2="342.7" y2="147.75" stroke="#3c3c3c" stroke-width="0.9"/>
<line x1="357.8" y1="150.25" x2="357.8" y2="148.75" stroke="#3c3c3c" stroke-width="0.9"/>
<line x1="372.9" y1="150.25" x2="372.9" y2="147.75" stroke="#3c3c3c" stroke-width="0.9"/>
<line x1="388" y1="150.25" x2="388" y2="148.75" stroke="#3c3c3c" stroke-width="0.9"/>
<line x1="403.1" y1="150.25" x2="403.1" y2="147.75" stroke="#3c3c3c" stroke-width="0.9"/>
<line x1="418.2" y1="150.25" x2="418.2" y2="148.75" stroke="#3c3c3c" stroke-width="0.9"/>
<line x1="433.3" y1="150.25" x2="433.3" y2="147.75" stroke="#3c3c3c" stroke-width="0.9"/>
<line x1="448.4" y1="150.25" x2="448.4" y2="148.75" stroke="#3c3c3c" stroke-width="0.9"/>
<line x1="463.5" y1="150.25" x2="463.5" y2="147.75" stroke="#3c3c3c" stroke-width="0.9"/>
<text x="295.1" y="153.55" font-size="9" text-anchor="end" fill="#222">18.5</text>
<text x="295.1" y="135.65" font-size="9" text-anchor="end" fill="#222">18.6</text>
<text x="295.1" y="117.75" font-size="9" text-anchor="end" fill="#222">18.7</text>
<text x="295.1" y="99.85" font-size="9" text-anchor="end" fill="#222">18.8</text>
<text x="295.1" y="81.95" font-size="9" text-anchor="end" fill="#222">18.9</text>
<text x="295.1" y="64.05" font-size="9" text-anchor="end" fill="#222">19.0</text>
<text x="295.1" y="46.15" font-size="9" text-anchor="end" fill="#222">19.1</text>
<text x="295.1" y="28.25" font-size="9" text-anchor="end" fill="#222">19.2</text>
<text x="312.5" y="160.4" font-size="9" text-anchor="middle" fill="#222">0</text>
<text x="342.7" y="160.4" font-size="9" text-anchor="middle" fill="#222">10</text>
<text x="372.9" y="160.4" font-size="9" text-anchor="middle" fill="#222">20</text>
<text x="403.1" y="160.4" font-size="9" text-anchor="middle" fill="#222">30</text>
<text x="433.3" y="160.4" font-size="9" text-anchor="middle" fill="#222">40</text>
<text x="463.5" y="160.4" font-size="9" text-anchor="middle" fill="#222">50</text>
<text x="-0.05" y="0" font-size="10.3" fill="#222" textLength="29.83" lengthAdjust="spacingAndGlyphs" transform="translate(354.9 175.7)">Vg (V)</text>
<text x="-0.83" y="0" font-size="10.2" fill="#222" textLength="80.3" lengthAdjust="spacingAndGlyphs" transform="translate(270.6 122.6) rotate(-90)">Frequency (MHz)</text>
<circle cx="324.58" cy="23" r="1.75" fill="#1e1eff"/>
<circle cx="327.6" cy="23.81" r="1.75" fill="#1e1eff"/>
<circle cx="330.62" cy="24.79" r="1.75" fill="#1e1eff"/>
<circle cx="333.64" cy="25.93" r="1.75" fill="#1e1eff"/>
<circle cx="336.66" cy="27.19" r="1.75" fill="#1e1eff"/>
<circle cx="339.68" cy="28.56" r="1.75" fill="#1e1eff"/>
<circle cx="342.7" cy="30.12" r="1.75" fill="#1e1eff"/>
<circle cx="345.72" cy="31.96" r="1.75" fill="#1e1eff"/>
<circle cx="348.74" cy="33.98" r="1.75" fill="#1e1eff"/>
<circle cx="351.76" cy="36.06" r="1.75" fill="#1e1eff"/>
<circle cx="354.78" cy="38.1" r="1.75" fill="#1e1eff"/>
<circle cx="357.8" cy="40.06" r="1.75" fill="#1e1eff"/>
<circle cx="360.82" cy="42" r="1.75" fill="#1e1eff"/>
<circle cx="363.84" cy="43.97" r="1.75" fill="#1e1eff"/>
<circle cx="366.86" cy="46" r="1.75" fill="#1e1eff"/>
<circle cx="369.88" cy="48.14" r="1.75" fill="#1e1eff"/>
<circle cx="372.9" cy="50.43" r="1.75" fill="#1e1eff"/>
<circle cx="375.92" cy="52.93" r="1.75" fill="#1e1eff"/>
<circle cx="378.94" cy="55.49" r="1.75" fill="#1e1eff"/>
<circle cx="381.96" cy="57.96" r="1.75" fill="#1e1eff"/>
<circle cx="384.98" cy="60.32" r="1.75" fill="#1e1eff"/>
<circle cx="388" cy="62.66" r="1.75" fill="#1e1eff"/>
<circle cx="391.02" cy="64.9" r="1.75" fill="#1e1eff"/>
<circle cx="394.04" cy="67" r="1.75" fill="#1e1eff"/>
<circle cx="397.06" cy="68.97" r="1.75" fill="#1e1eff"/>
<circle cx="400.08" cy="70.87" r="1.75" fill="#1e1eff"/>
<circle cx="403.1" cy="72.62" r="1.75" fill="#1e1eff"/>
<circle cx="406.12" cy="74.13" r="1.75" fill="#1e1eff"/>
<circle cx="409.14" cy="75.42" r="1.75" fill="#1e1eff"/>
<circle cx="412.16" cy="76.6" r="1.75" fill="#1e1eff"/>
<circle cx="415.18" cy="77.61" r="1.75" fill="#1e1eff"/>
<circle cx="418.2" cy="78.34" r="1.75" fill="#1e1eff"/>
<circle cx="421.22" cy="78.88" r="1.75" fill="#1e1eff"/>
<circle cx="424.24" cy="79.32" r="1.75" fill="#1e1eff"/>
<circle cx="427.26" cy="79.5" r="1.75" fill="#1e1eff"/>
<circle cx="430.28" cy="79.15" r="1.75" fill="#1e1eff"/>
<circle cx="433.3" cy="78.23" r="1.75" fill="#1e1eff"/>
<circle cx="436.32" cy="76.95" r="1.75" fill="#1e1eff"/>
<circle cx="439.34" cy="74.31" r="1.75" fill="#1e1eff"/>
<rect x="313.92" y="79.41" width="3.2" height="3.2" fill="#d41c1c"/>
<rect x="316.94" y="79.63" width="3.2" height="3.2" fill="#d41c1c"/>
<rect x="319.96" y="80.04" width="3.2" height="3.2" fill="#d41c1c"/>
<rect x="322.98" y="80.6" width="3.2" height="3.2" fill="#d41c1c"/>
<rect x="326" y="81.25" width="3.2" height="3.2" fill="#d41c1c"/>
<rect x="329.02" y="81.99" width="3.2" height="3.2" fill="#d41c1c"/>
<rect x="332.04" y="83.02" width="3.2" height="3.2" fill="#d41c1c"/>
<rect x="335.06" y="84.3" width="3.2" height="3.2" fill="#d41c1c"/>
<rect x="338.08" y="85.76" width="3.2" height="3.2" fill="#d41c1c"/>
<rect x="341.1" y="87.32" width="3.2" height="3.2" fill="#d41c1c"/>
<rect x="344.12" y="89.02" width="3.2" height="3.2" fill="#d41c1c"/>
<rect x="347.14" y="91.03" width="3.2" height="3.2" fill="#d41c1c"/>
<rect x="350.16" y="93.23" width="3.2" height="3.2" fill="#d41c1c"/>
<rect x="353.18" y="95.47" width="3.2" height="3.2" fill="#d41c1c"/>
<rect x="356.2" y="97.6" width="3.2" height="3.2" fill="#d41c1c"/>
<rect x="359.22" y="99.52" width="3.2" height="3.2" fill="#d41c1c"/>
<rect x="362.24" y="101.35" width="3.2" height="3.2" fill="#d41c1c"/>
<rect x="365.26" y="103.2" width="3.2" height="3.2" fill="#d41c1c"/>
<rect x="368.28" y="105.23" width="3.2" height="3.2" fill="#d41c1c"/>
<rect x="371.3" y="107.64" width="3.2" height="3.2" fill="#d41c1c"/>
<rect x="374.32" y="110.46" width="3.2" height="3.2" fill="#d41c1c"/>
<rect x="377.34" y="113.37" width="3.2" height="3.2" fill="#d41c1c"/>
<rect x="380.36" y="116" width="3.2" height="3.2" fill="#d41c1c"/>
<rect x="383.38" y="118.3" width="3.2" height="3.2" fill="#d41c1c"/>
<rect x="386.4" y="120.46" width="3.2" height="3.2" fill="#d41c1c"/>
<rect x="389.42" y="122.48" width="3.2" height="3.2" fill="#d41c1c"/>
<rect x="392.44" y="124.37" width="3.2" height="3.2" fill="#d41c1c"/>
<rect x="395.46" y="126.23" width="3.2" height="3.2" fill="#d41c1c"/>
<rect x="398.48" y="128.01" width="3.2" height="3.2" fill="#d41c1c"/>
<rect x="401.5" y="129.63" width="3.2" height="3.2" fill="#d41c1c"/>
<rect x="404.52" y="130.98" width="3.2" height="3.2" fill="#d41c1c"/>
<rect x="407.54" y="132.18" width="3.2" height="3.2" fill="#d41c1c"/>
<rect x="410.56" y="133.36" width="3.2" height="3.2" fill="#d41c1c"/>
<rect x="413.58" y="134.34" width="3.2" height="3.2" fill="#d41c1c"/>
<rect x="416.6" y="134.92" width="3.2" height="3.2" fill="#d41c1c"/>
<rect x="419.62" y="134.93" width="3.2" height="3.2" fill="#d41c1c"/>
<rect x="422.64" y="134.41" width="3.2" height="3.2" fill="#d41c1c"/>
<rect x="425.66" y="133.52" width="3.2" height="3.2" fill="#d41c1c"/>
<rect x="428.68" y="132.44" width="3.2" height="3.2" fill="#d41c1c"/>
<rect x="431.7" y="131.1" width="3.2" height="3.2" fill="#d41c1c"/>
<rect x="434.72" y="129.11" width="3.2" height="3.2" fill="#d41c1c"/>
<rect x="437.74" y="126.7" width="3.2" height="3.2" fill="#d41c1c"/>
<circle cx="415.3" cy="36.1" r="1.9" fill="#1e1eff"/>
<rect x="414.7" y="106.7" width="3.3" height="3.3" fill="#d41c1c"/>
<text x="433.11" y="40.6" font-size="12.8" font-weight="bold" fill="#111">f</text>
<text x="436.97" y="44.4" font-size="8.2" font-weight="bold" fill="#111">0</text>
<text x="437.32" y="34.4" font-size="8.1" font-weight="bold" fill="#111">Td</text>
<text x="434.11" y="112.3" font-size="12.8" font-weight="bold" fill="#111">f</text>
<text x="437.87" y="116.3" font-size="8.2" font-weight="bold" fill="#111">0</text>
<text x="438.91" y="107.4" font-size="8.1" font-weight="bold" fill="#111">1T'</text>
<text x="-1.12" y="0" font-size="17.2" fill="#111" transform="translate(265 13.8)">b</text>
<rect x="517.5" y="16.75" width="166.0" height="133.5" fill="none" stroke="#3c3c3c" stroke-width="1"/>
<line x1="517.5" y1="150.6" x2="519" y2="150.6" stroke="#3c3c3c" stroke-width="0.9"/>
<line x1="517.5" y1="137.25" x2="520" y2="137.25" stroke="#3c3c3c" stroke-width="0.9"/>
<line x1="517.5" y1="123.9" x2="519" y2="123.9" stroke="#3c3c3c" stroke-width="0.9"/>
<line x1="517.5" y1="110.56" x2="520" y2="110.56" stroke="#3c3c3c" stroke-width="0.9"/>
<line x1="517.5" y1="97.21" x2="519" y2="97.21" stroke="#3c3c3c" stroke-width="0.9"/>
<line x1="517.5" y1="83.87" x2="520" y2="83.87" stroke="#3c3c3c" stroke-width="0.9"/>
<line x1="517.5" y1="70.52" x2="519" y2="70.52" stroke="#3c3c3c" stroke-width="0.9"/>
<line x1="517.5" y1="57.18" x2="520" y2="57.18" stroke="#3c3c3c" stroke-width="0.9"/>
<line x1="517.5" y1="43.84" x2="519" y2="43.84" stroke="#3c3c3c" stroke-width="0.9"/>
<line x1="517.5" y1="30.49" x2="520" y2="30.49" stroke="#3c3c3c" stroke-width="0.9"/>
<line x1="517.5" y1="17.15" x2="519" y2="17.15" stroke="#3c3c3c" stroke-width="0.9"/>
<line x1="523.38" y1="150.25" x2="523.38" y2="148.75" stroke="#3c3c3c" stroke-width="0.9"/>
<line x1="533" y1="150.25" x2="533" y2="147.75" stroke="#3c3c3c" stroke-width="0.9"/>
<line x1="542.62" y1="150.25" x2="542.62" y2="148.75" stroke="#3c3c3c" stroke-width="0.9"/>
<line x1="552.25" y1="150.25" x2="552.25" y2="147.75" stroke="#3c3c3c" stroke-width="0.9"/>
<line x1="561.88" y1="150.25" x2="561.88" y2="148.75" stroke="#3c3c3c" stroke-width="0.9"/>
<line x1="571.5" y1="150.25" x2="571.5" y2="147.75" stroke="#3c3c3c" stroke-width="0.9"/>
<line x1="581.12" y1="150.25" x2="581.12" y2="148.75" stroke="#3c3c3c" stroke-width="0.9"/>
<line x1="590.75" y1="150.25" x2="590.75" y2="147.75" stroke="#3c3c3c" stroke-width="0.9"/>
<line x1="600.38" y1="150.25" x2="600.38" y2="148.75" stroke="#3c3c3c" stroke-width="0.9"/>
<line x1="610" y1="150.25" x2="610" y2="147.75" stroke="#3c3c3c" stroke-width="0.9"/>
<line x1="619.62" y1="150.25" x2="619.62" y2="148.75" stroke="#3c3c3c" stroke-width="0.9"/>
<line x1="629.25" y1="150.25" x2="629.25" y2="147.75" stroke="#3c3c3c" stroke-width="0.9"/>
<line x1="638.88" y1="150.25" x2="638.88" y2="148.75" stroke="#3c3c3c" stroke-width="0.9"/>
<line x1="648.5" y1="150.25" x2="648.5" y2="147.75" stroke="#3c3c3c" stroke-width="0.9"/>
<line x1="658.12" y1="150.25" x2="658.12" y2="148.75" stroke="#3c3c3c" stroke-width="0.9"/>
<line x1="667.75" y1="150.25" x2="667.75" y2="147.75" stroke="#3c3c3c" stroke-width="0.9"/>
<line x1="677.38" y1="150.25" x2="677.38" y2="148.75" stroke="#3c3c3c" stroke-width="0.9"/>
<text x="514.2" y="140.45" font-size="8.8" text-anchor="end" fill="#222">0.304</text>
<text x="514.2" y="113.76" font-size="8.8" text-anchor="end" fill="#222">0.312</text>
<text x="514.2" y="87.07" font-size="8.8" text-anchor="end" fill="#222">0.320</text>
<text x="514.2" y="60.38" font-size="8.8" text-anchor="end" fill="#222">0.328</text>
<text x="514.2" y="33.69" font-size="8.8" text-anchor="end" fill="#222">0.336</text>
<text x="533" y="160.4" font-size="8.8" text-anchor="middle" fill="#222">5</text>
<text x="552.25" y="160.4" font-size="8.8" text-anchor="middle" fill="#222">10</text>
<text x="571.5" y="160.4" font-size="8.8" text-anchor="middle" fill="#222">15</text>
<text x="590.75" y="160.4" font-size="8.8" text-anchor="middle" fill="#222">20</text>
<text x="610" y="160.4" font-size="8.8" text-anchor="middle" fill="#222">25</text>
<text x="629.25" y="160.4" font-size="8.8" text-anchor="middle" fill="#222">30</text>
<text x="648.5" y="160.4" font-size="8.8" text-anchor="middle" fill="#222">35</text>
<text x="667.75" y="160.4" font-size="8.8" text-anchor="middle" fill="#222">40</text>
<text x="-0.05" y="0" font-size="10.3" fill="#222" textLength="29.83" lengthAdjust="spacingAndGlyphs" transform="translate(574.9 175.7)">Vg (V)</text>
<text x="-0.83" y="0" font-size="10.2" fill="#222" textLength="129.66" lengthAdjust="spacingAndGlyphs" transform="translate(486.4 147.2) rotate(-90)">Frequency Difference (MHz)</text>
<polyline points="529.15,44.25 533,43.5 536.85,44.9 540.7,43.8 544.55,43.3 548.4,43.7 552.25,42.3 556.1,41 559.95,40.4 563.8,39.3 567.65,38.3 571.5,39.2 575.35,39.9 579.2,39.8 583.05,38.7 586.9,37.5 590.75,36.3 594.6,34.9 598.45,33.8 602.3,33.4 606.15,32.8 610,33.4 613.85,33.4 617.7,34.2 621.55,35.4 625.4,36.4 629.25,37 633.1,39.3 636.95,40.7 640.8,42.9 644.65,45.8 648.5,50.4 652.35,64.4 656.2,78.9 660.05,94.3 663.9,110.1 667.75,125.5 671.6,132.3 675.45,139.5" fill="none" stroke="#333" stroke-width="0.9"/>
<rect x="527.7" y="42.8" width="2.9" height="2.9" fill="#111"/>
<rect x="531.55" y="42.05" width="2.9" height="2.9" fill="#111"/>
<rect x="535.4" y="43.45" width="2.9" height="2.9" fill="#111"/>
<rect x="539.25" y="42.35" width="2.9" height="2.9" fill="#111"/>
<rect x="543.1" y="41.85" width="2.9" height="2.9" fill="#111"/>
<rect x="546.95" y="42.25" width="2.9" height="2.9" fill="#111"/>
<rect x="550.8" y="40.85" width="2.9" height="2.9" fill="#111"/>
<rect x="554.65" y="39.55" width="2.9" height="2.9" fill="#111"/>
<rect x="558.5" y="38.95" width="2.9" height="2.9" fill="#111"/>
<rect x="562.35" y="37.85" width="2.9" height="2.9" fill="#111"/>
<rect x="566.2" y="36.85" width="2.9" height="2.9" fill="#111"/>
<rect x="570.05" y="37.75" width="2.9" height="2.9" fill="#111"/>
<rect x="573.9" y="38.45" width="2.9" height="2.9" fill="#111"/>
<rect x="577.75" y="38.35" width="2.9" height="2.9" fill="#111"/>
<rect x="581.6" y="37.25" width="2.9" height="2.9" fill="#111"/>
<rect x="585.45" y="36.05" width="2.9" height="2.9" fill="#111"/>
<rect x="589.3" y="34.85" width="2.9" height="2.9" fill="#111"/>
<rect x="593.15" y="33.45" width="2.9" height="2.9" fill="#111"/>
<rect x="597" y="32.35" width="2.9" height="2.9" fill="#111"/>
<rect x="600.85" y="31.95" width="2.9" height="2.9" fill="#111"/>
<rect x="604.7" y="31.35" width="2.9" height="2.9" fill="#111"/>
<rect x="608.55" y="31.95" width="2.9" height="2.9" fill="#111"/>
<rect x="612.4" y="31.95" width="2.9" height="2.9" fill="#111"/>
<rect x="616.25" y="32.75" width="2.9" height="2.9" fill="#111"/>
<rect x="620.1" y="33.95" width="2.9" height="2.9" fill="#111"/>
<rect x="623.95" y="34.95" width="2.9" height="2.9" fill="#111"/>
<rect x="627.8" y="35.55" width="2.9" height="2.9" fill="#111"/>
<rect x="631.65" y="37.85" width="2.9" height="2.9" fill="#111"/>
<rect x="635.5" y="39.25" width="2.9" height="2.9" fill="#111"/>
<rect x="639.35" y="41.45" width="2.9" height="2.9" fill="#111"/>
<rect x="643.2" y="44.35" width="2.9" height="2.9" fill="#111"/>
<rect x="647.05" y="48.95" width="2.9" height="2.9" fill="#111"/>
<rect x="650.9" y="62.95" width="2.9" height="2.9" fill="#111"/>
<rect x="654.75" y="77.45" width="2.9" height="2.9" fill="#111"/>
<rect x="658.6" y="92.85" width="2.9" height="2.9" fill="#111"/>
<rect x="662.45" y="108.65" width="2.9" height="2.9" fill="#111"/>
<rect x="666.3" y="124.05" width="2.9" height="2.9" fill="#111"/>
<rect x="670.15" y="130.85" width="2.9" height="2.9" fill="#111"/>
<rect x="674" y="138.05" width="2.9" height="2.9" fill="#111"/>
<line x1="526.1" y1="128.3" x2="556.5" y2="128.3" stroke="#444" stroke-width="1.05"/>
<rect x="539.2" y="126.6" width="3.6" height="3.4" fill="#111"/>
<text x="560.4" y="132.5" font-size="13.4" font-weight="bold" fill="#111">f</text>
<text x="564.36" y="136.5" font-size="8.4" font-weight="bold" fill="#111">0</text>
<text x="566.22" y="127.7" font-size="8.0" font-weight="bold" fill="#111">Td</text>
<text x="579.3" y="132.5" font-size="12.5" font-weight="bold" fill="#111">-</text>
<text x="587.7" y="132.5" font-size="13.4" font-weight="bold" fill="#111">f</text>
<text x="592.06" y="136.5" font-size="8.4" font-weight="bold" fill="#111">0</text>
<text x="592.41" y="127.7" font-size="8.2" font-weight="bold" fill="#111">1T'</text>
<text x="-0.69" y="0" font-size="17.2" fill="#111" transform="translate(478.2 13.8)">c</text>
<rect x="302" y="200.5" width="150" height="143.25" fill="none" stroke="#3c3c3c" stroke-width="1"/>
<line x1="302" y1="343.75" x2="304.5" y2="343.75" stroke="#3c3c3c" stroke-width="0.9"/>
<line x1="302" y1="329.43" x2="303.5" y2="329.43" stroke="#3c3c3c" stroke-width="0.9"/>
<line x1="302" y1="315.1" x2="304.5" y2="315.1" stroke="#3c3c3c" stroke-width="0.9"/>
<line x1="302" y1="300.77" x2="303.5" y2="300.77" stroke="#3c3c3c" stroke-width="0.9"/>
<line x1="302" y1="286.45" x2="304.5" y2="286.45" stroke="#3c3c3c" stroke-width="0.9"/>
<line x1="302" y1="272.12" x2="303.5" y2="272.12" stroke="#3c3c3c" stroke-width="0.9"/>
<line x1="302" y1="257.8" x2="304.5" y2="257.8" stroke="#3c3c3c" stroke-width="0.9"/>
<line x1="302" y1="243.47" x2="303.5" y2="243.47" stroke="#3c3c3c" stroke-width="0.9"/>
<line x1="302" y1="229.15" x2="304.5" y2="229.15" stroke="#3c3c3c" stroke-width="0.9"/>
<line x1="302" y1="214.82" x2="303.5" y2="214.82" stroke="#3c3c3c" stroke-width="0.9"/>
<line x1="302" y1="200.5" x2="304.5" y2="200.5" stroke="#3c3c3c" stroke-width="0.9"/>
<line x1="452" y1="200.5" x2="449.5" y2="200.5" stroke="#3c3c3c" stroke-width="0.9"/>
<line x1="452" y1="211.45" x2="450.5" y2="211.45" stroke="#3c3c3c" stroke-width="0.9"/>
<line x1="452" y1="222.4" x2="449.5" y2="222.4" stroke="#3c3c3c" stroke-width="0.9"/>
<line x1="452" y1="233.35" x2="450.5" y2="233.35" stroke="#3c3c3c" stroke-width="0.9"/>
<line x1="452" y1="244.3" x2="449.5" y2="244.3" stroke="#3c3c3c" stroke-width="0.9"/>
<line x1="452" y1="255.25" x2="450.5" y2="255.25" stroke="#3c3c3c" stroke-width="0.9"/>
<line x1="452" y1="266.2" x2="449.5" y2="266.2" stroke="#3c3c3c" stroke-width="0.9"/>
<line x1="452" y1="277.15" x2="450.5" y2="277.15" stroke="#3c3c3c" stroke-width="0.9"/>
<line x1="452" y1="288.1" x2="449.5" y2="288.1" stroke="#3c3c3c" stroke-width="0.9"/>
<line x1="452" y1="299.05" x2="450.5" y2="299.05" stroke="#3c3c3c" stroke-width="0.9"/>
<line x1="452" y1="310" x2="449.5" y2="310" stroke="#3c3c3c" stroke-width="0.9"/>
<line x1="452" y1="320.95" x2="450.5" y2="320.95" stroke="#3c3c3c" stroke-width="0.9"/>
<line x1="452" y1="331.9" x2="449.5" y2="331.9" stroke="#3c3c3c" stroke-width="0.9"/>
<line x1="452" y1="342.85" x2="450.5" y2="342.85" stroke="#3c3c3c" stroke-width="0.9"/>
<line x1="305" y1="343.75" x2="305" y2="341.25" stroke="#3c3c3c" stroke-width="0.9"/>
<line x1="323.02" y1="343.75" x2="323.02" y2="342.25" stroke="#3c3c3c" stroke-width="0.9"/>
<line x1="341.05" y1="343.75" x2="341.05" y2="341.25" stroke="#3c3c3c" stroke-width="0.9"/>
<line x1="359.07" y1="343.75" x2="359.07" y2="342.25" stroke="#3c3c3c" stroke-width="0.9"/>
<line x1="377.1" y1="343.75" x2="377.1" y2="341.25" stroke="#3c3c3c" stroke-width="0.9"/>
<line x1="395.12" y1="343.75" x2="395.12" y2="342.25" stroke="#3c3c3c" stroke-width="0.9"/>
<line x1="413.15" y1="343.75" x2="413.15" y2="341.25" stroke="#3c3c3c" stroke-width="0.9"/>
<line x1="431.17" y1="343.75" x2="431.17" y2="342.25" stroke="#3c3c3c" stroke-width="0.9"/>
<line x1="449.2" y1="343.75" x2="449.2" y2="341.25" stroke="#3c3c3c" stroke-width="0.9"/>
<text x="299.7" y="346.85" font-size="9.1" text-anchor="end" fill="#222">0</text>
<text x="299.7" y="318.2" font-size="9.1" text-anchor="end" fill="#222">5</text>
<text x="299.7" y="289.55" font-size="9.1" text-anchor="end" fill="#222">10</text>
<text x="299.7" y="260.9" font-size="9.1" text-anchor="end" fill="#222">15</text>
<text x="299.7" y="232.25" font-size="9.1" text-anchor="end" fill="#222">20</text>
<text x="299.7" y="203.6" font-size="9.1" text-anchor="end" fill="#222">25</text>
<text x="455.4" y="335" font-size="9.1" text-anchor="start" fill="#3a8a3a">5</text>
<text x="455.4" y="313.1" font-size="9.1" text-anchor="start" fill="#3a8a3a">10</text>
<text x="455.4" y="291.2" font-size="9.1" text-anchor="start" fill="#3a8a3a">15</text>
<text x="455.4" y="269.3" font-size="9.1" text-anchor="start" fill="#3a8a3a">20</text>
<text x="455.4" y="247.4" font-size="9.1" text-anchor="start" fill="#3a8a3a">25</text>
<text x="455.4" y="225.5" font-size="9.1" text-anchor="start" fill="#3a8a3a">30</text>
<text x="455.4" y="203.6" font-size="9.1" text-anchor="start" fill="#3a8a3a">35</text>
<text x="305" y="353.8" font-size="8.8" text-anchor="middle" fill="#222">0.00</text>
<text x="341.05" y="353.8" font-size="8.8" text-anchor="middle" fill="#222">0.50</text>
<text x="377.1" y="353.8" font-size="8.8" text-anchor="middle" fill="#222">1.00</text>
<text x="413.15" y="353.8" font-size="8.8" text-anchor="middle" fill="#222">1.50</text>
<text x="449.2" y="353.8" font-size="8.8" text-anchor="middle" fill="#222">2.00</text>
<text x="-0.2" y="0" font-size="10.2" fill="#222" textLength="62.95" lengthAdjust="spacingAndGlyphs" transform="translate(346.6 369)">Tension (N/m)</text>
<text x="-0.83" y="0" font-size="10.2" fill="#222" textLength="80.09" lengthAdjust="spacingAndGlyphs" transform="translate(280.4 307.8) rotate(-90)">Frequency (MHz)</text>
<text x="0" y="0" font-size="10.3" fill="#3a8a3a" text-anchor="middle" transform="translate(478.3 270) rotate(-90)">df<tspan font-size="7" dy="2">0</tspan><tspan dy="-2">/d</tspan><tspan>γ</tspan><tspan> (MHz/Nm</tspan><tspan font-size="7" dy="-4">-1</tspan><tspan dy="4">)</tspan></text>
<polyline points="309.2,324.8 310.75,322.05 312.31,319.41 313.86,316.89 315.41,314.51 316.96,312.27 318.52,310.16 320.07,308.14 321.62,306.2 323.18,304.32 324.73,302.48 326.28,300.67 327.83,298.92 329.39,297.22 330.94,295.58 332.49,294.01 334.04,292.52 335.6,291.1 337.15,289.72 338.7,288.34 340.26,286.94 341.81,285.48 343.36,283.98 344.91,282.49 346.47,281.05 348.02,279.71 349.57,278.47 351.13,277.28 352.68,276.13 354.23,275.02 355.78,273.94 357.34,272.89 358.89,271.85 360.44,270.84 362,269.84 363.55,268.84 365.1,267.85 366.65,266.86 368.21,265.87 369.76,264.86 371.31,263.84 372.87,262.82 374.42,261.8 375.97,260.78 377.52,259.77 379.08,258.77 380.63,257.79 382.18,256.82 383.73,255.88 385.29,254.97 386.84,254.08 388.39,253.21 389.95,252.36 391.5,251.52 393.05,250.69 394.6,249.89 396.16,249.09 397.71,248.32 399.26,247.55 400.82,246.8 402.37,246.07 403.92,245.35 405.47,244.65 407.03,243.97 408.58,243.29 410.13,242.63 411.69,241.98 413.24,241.34 414.79,240.69 416.34,240.05 417.9,239.41 419.45,238.77 421,238.14 422.56,237.52 424.11,236.91 425.66,236.3 427.21,235.69 428.77,235.08 430.32,234.45 431.87,233.82 433.42,233.16 434.98,232.49 436.53,231.8 438.08,231.1 439.64,230.38 441.19,229.64 442.74,228.9 444.29,228.14 445.85,227.38 447.4,226.6" fill="none" stroke="#444" stroke-width="1.0"/>
<polyline points="308.75,218 309.63,231.63 310.52,241.84 311.4,249.86 312.28,256.36 313.17,261.78 314.05,266.39 314.93,270.37 315.82,273.85 316.7,276.93 317.58,279.67 318.47,282.15 319.35,284.39 320.23,286.43 321.12,288.3 322,290.03 322.88,291.62 323.77,293.1 324.65,294.48 325.53,295.77 326.42,296.98 327.3,298.12 328.18,299.19 329.07,300.2 329.95,301.16 330.83,302.07 331.72,302.93 332.6,303.75 333.48,304.53 334.37,305.28 335.25,305.99 336.13,306.67 337.02,307.33 337.9,307.96 338.78,308.56 339.67,309.14 340.55,309.7 341.43,310.24 342.32,310.76 343.2,311.26 344.08,311.74 344.97,312.21 345.85,312.66 346.73,313.1 347.62,313.52 348.5,313.93 349.38,314.33 350.27,314.72 351.15,315.09 352.03,315.46 352.92,315.81 353.8,316.16 354.68,316.5 355.57,316.82 356.45,317.14 357.33,317.45 358.22,317.76 359.1,318.05 359.98,318.34 360.87,318.62 361.75,318.9 362.63,319.16 363.52,319.43 364.4,319.68 365.28,319.93 366.17,320.18 367.05,320.42 367.93,320.65 368.82,320.88 369.7,321.11 370.58,321.33 371.47,321.55 372.35,321.76 373.23,321.97 374.12,322.17 375,322.37 375.88,322.57 376.77,322.76 377.65,322.95 378.53,323.14 379.42,323.32 380.3,323.5 381.18,323.67 382.07,323.85 382.95,324.02 383.83,324.19 384.72,324.35 385.6,324.51 386.48,324.67 387.37,324.83 388.25,324.98 389.13,325.13 390.02,325.28 390.9,325.43 391.78,325.57 392.67,325.72 393.55,325.86 394.43,326 395.32,326.13 396.2,326.27 397.08,326.4 397.97,326.53 398.85,326.66 399.73,326.78 400.62,326.91 401.5,327.03 402.38,327.15 403.27,327.27 404.15,327.39 405.03,327.51 405.92,327.63 406.8,327.74 407.68,327.85 408.57,327.96 409.45,328.07 410.33,328.18 411.22,328.29 412.1,328.39 412.98,328.5 413.87,328.6 414.75,328.7 415.63,328.8 416.52,328.9 417.4,329 418.28,329.1 419.17,329.19 420.05,329.29 420.93,329.38 421.82,329.47 422.7,329.56 423.58,329.65 424.47,329.74 425.35,329.83 426.23,329.92 427.12,330.01 428,330.09 428.88,330.18 429.77,330.26 430.65,330.34 431.53,330.42 432.42,330.51 433.3,330.59 434.18,330.67 435.07,330.74 435.95,330.82 436.83,330.9 437.72,330.98 438.6,331.05 439.48,331.13 440.37,331.2 441.25,331.27 442.13,331.35 443.02,331.42 443.9,331.49 444.78,331.56 445.67,331.63 446.55,331.7 447.43,331.77 448.32,331.84 449.2,331.9" fill="none" stroke="#3a8a3a" stroke-width="0.9" stroke-dasharray="4.5 5.5"/>
<line x1="323.8" y1="212.2" x2="345.5" y2="212.2" stroke="#444" stroke-width="0.9"/>
<text x="-0.79" y="0" font-size="10.2" fill="#222" textLength="38.66" lengthAdjust="spacingAndGlyphs" transform="translate(349.3 216)">Mode #1</text>
<line x1="365.6" y1="248" x2="365.6" y2="276" stroke="#777" stroke-width="0.8" stroke-dasharray="1 1.6"/>
<line x1="374.6" y1="248" x2="374.6" y2="276" stroke="#777" stroke-width="0.8" stroke-dasharray="1 1.6"/>
<line x1="360.8" y1="261.2" x2="381.9" y2="261.2" stroke="#777" stroke-width="0.8" stroke-dasharray="1 1.6"/>
<line x1="363.4" y1="268.6" x2="381.9" y2="268.6" stroke="#777" stroke-width="0.8" stroke-dasharray="1 1.6"/>
<polygon points="364.6,268.6 374.6,268.6 374.6,261.7" fill="#999"/>
<line x1="414.7" y1="219.8" x2="414.7" y2="254.5" stroke="#777" stroke-width="0.8" stroke-dasharray="1 1.6"/>
<line x1="423.7" y1="219.8" x2="423.7" y2="254.5" stroke="#777" stroke-width="0.8" stroke-dasharray="1 1.6"/>
<line x1="401.8" y1="236.6" x2="429.5" y2="236.6" stroke="#777" stroke-width="0.8" stroke-dasharray="1 1.6"/>
<line x1="402.5" y1="241.5" x2="429.5" y2="241.5" stroke="#777" stroke-width="0.8" stroke-dasharray="1 1.6"/>
<polygon points="413.7,241.5 423.7,241.5 423.7,237.1" fill="#999"/>
<text x="383" y="269" font-size="9.2" fill="#222">Δf<tspan font-size="6.8" dy="2.8" dx="0.7">0</tspan></text>
<text x="430" y="241.6" font-size="9.2" fill="#222">Δf<tspan font-size="6.8" dy="2.8" dx="0.7">0</tspan></text>
<text x="370.7" y="285" font-size="8.5" text-anchor="middle" fill="#222">Δγ</text>
<text x="420.2" y="264" font-size="8.5" text-anchor="middle" fill="#222">Δγ</text>
<text x="-0.69" y="0" font-size="17.2" fill="#111" transform="translate(264.5 198.6)">d</text>
<rect x="517.5" y="209.25" width="166.0" height="134.25" fill="none" stroke="#3c3c3c" stroke-width="1"/>
<line x1="517.5" y1="342.62" x2="519" y2="342.62" stroke="#3c3c3c" stroke-width="0.9"/>
<line x1="517.5" y1="334.3" x2="520" y2="334.3" stroke="#3c3c3c" stroke-width="0.9"/>
<line x1="517.5" y1="325.98" x2="519" y2="325.98" stroke="#3c3c3c" stroke-width="0.9"/>
<line x1="517.5" y1="317.65" x2="520" y2="317.65" stroke="#3c3c3c" stroke-width="0.9"/>
<line x1="517.5" y1="309.32" x2="519" y2="309.32" stroke="#3c3c3c" stroke-width="0.9"/>
<line x1="517.5" y1="301" x2="520" y2="301" stroke="#3c3c3c" stroke-width="0.9"/>
<line x1="517.5" y1="292.68" x2="519" y2="292.68" stroke="#3c3c3c" stroke-width="0.9"/>
<line x1="517.5" y1="284.35" x2="520" y2="284.35" stroke="#3c3c3c" stroke-width="0.9"/>
<line x1="517.5" y1="276.02" x2="519" y2="276.02" stroke="#3c3c3c" stroke-width="0.9"/>
<line x1="517.5" y1="267.7" x2="520" y2="267.7" stroke="#3c3c3c" stroke-width="0.9"/>
<line x1="517.5" y1="259.38" x2="519" y2="259.38" stroke="#3c3c3c" stroke-width="0.9"/>
<line x1="517.5" y1="251.05" x2="520" y2="251.05" stroke="#3c3c3c" stroke-width="0.9"/>
<line x1="517.5" y1="242.72" x2="519" y2="242.72" stroke="#3c3c3c" stroke-width="0.9"/>
<line x1="517.5" y1="234.4" x2="520" y2="234.4" stroke="#3c3c3c" stroke-width="0.9"/>
<line x1="517.5" y1="226.07" x2="519" y2="226.07" stroke="#3c3c3c" stroke-width="0.9"/>
<line x1="517.5" y1="217.75" x2="520" y2="217.75" stroke="#3c3c3c" stroke-width="0.9"/>
<line x1="531.25" y1="343.5" x2="531.25" y2="341" stroke="#3c3c3c" stroke-width="0.9"/>
<line x1="545" y1="343.5" x2="545" y2="342" stroke="#3c3c3c" stroke-width="0.9"/>
<line x1="558.75" y1="343.5" x2="558.75" y2="341" stroke="#3c3c3c" stroke-width="0.9"/>
<line x1="572.5" y1="343.5" x2="572.5" y2="342" stroke="#3c3c3c" stroke-width="0.9"/>
<line x1="586.25" y1="343.5" x2="586.25" y2="341" stroke="#3c3c3c" stroke-width="0.9"/>
<line x1="600" y1="343.5" x2="600" y2="342" stroke="#3c3c3c" stroke-width="0.9"/>
<line x1="613.75" y1="343.5" x2="613.75" y2="341" stroke="#3c3c3c" stroke-width="0.9"/>
<line x1="627.5" y1="343.5" x2="627.5" y2="342" stroke="#3c3c3c" stroke-width="0.9"/>
<line x1="641.25" y1="343.5" x2="641.25" y2="341" stroke="#3c3c3c" stroke-width="0.9"/>
<line x1="655" y1="343.5" x2="655" y2="342" stroke="#3c3c3c" stroke-width="0.9"/>
<line x1="668.75" y1="343.5" x2="668.75" y2="341" stroke="#3c3c3c" stroke-width="0.9"/>
<line x1="682.5" y1="343.5" x2="682.5" y2="342" stroke="#3c3c3c" stroke-width="0.9"/>
<text x="514.9" y="337.2" font-size="8.5" text-anchor="end" fill="#222">0.3</text>
<text x="514.9" y="320.55" font-size="8.5" text-anchor="end" fill="#222">0.4</text>
<text x="514.9" y="303.9" font-size="8.5" text-anchor="end" fill="#222">0.5</text>
<text x="514.9" y="287.25" font-size="8.5" text-anchor="end" fill="#222">0.6</text>
<text x="514.9" y="270.6" font-size="8.5" text-anchor="end" fill="#222">0.7</text>
<text x="514.9" y="253.95" font-size="8.5" text-anchor="end" fill="#222">0.8</text>
<text x="514.9" y="237.3" font-size="8.5" text-anchor="end" fill="#222">0.9</text>
<text x="514.9" y="220.65" font-size="8.5" text-anchor="end" fill="#222">1.0</text>
<text x="531.25" y="352.8" font-size="8.2" text-anchor="middle" fill="#222">0.12%</text>
<text x="558.75" y="352.8" font-size="8.2" text-anchor="middle" fill="#222">0.13%</text>
<text x="586.25" y="352.8" font-size="8.2" text-anchor="middle" fill="#222">0.14%</text>
<text x="613.75" y="352.8" font-size="8.2" text-anchor="middle" fill="#222">0.15%</text>
<text x="641.25" y="352.8" font-size="8.2" text-anchor="middle" fill="#222">0.16%</text>
<text x="668.75" y="352.8" font-size="8.2" text-anchor="middle" fill="#222">0.17%</text>
<text x="-0.94" y="0" font-size="10.2" fill="#222" textLength="54.41" lengthAdjust="spacingAndGlyphs" transform="translate(574.2 367.7)">Initial Strain</text>
<text x="-0.84" y="0" font-size="10.3" fill="#222" textLength="103.07" lengthAdjust="spacingAndGlyphs" transform="translate(499.4 326.8) rotate(-90)">Frequency shift (MHz)</text>
<polyline points="537,224.25 614.25,270.75 666,329.75" fill="none" stroke="#555" stroke-width="0.8"/>
<polygon points="537.00,220.65 537.88,223.04 540.42,223.14 538.43,224.71 539.12,227.16 537.00,225.75 534.88,227.16 535.57,224.71 533.58,223.14 536.12,223.04" fill="#555"/>
<polygon points="614.25,267.15 615.13,269.54 617.67,269.64 615.68,271.21 616.37,273.66 614.25,272.25 612.13,273.66 612.82,271.21 610.83,269.64 613.37,269.54" fill="#555"/>
<polygon points="666.00,326.15 666.88,328.54 669.42,328.64 667.43,330.21 668.12,332.66 666.00,331.25 663.88,332.66 664.57,330.21 662.58,328.64 665.12,328.54" fill="#555"/>
<text x="-0.69" y="0" font-size="17.2" fill="#111" transform="translate(477.9 198.9)">e</text>
</svg>
</body></html>
